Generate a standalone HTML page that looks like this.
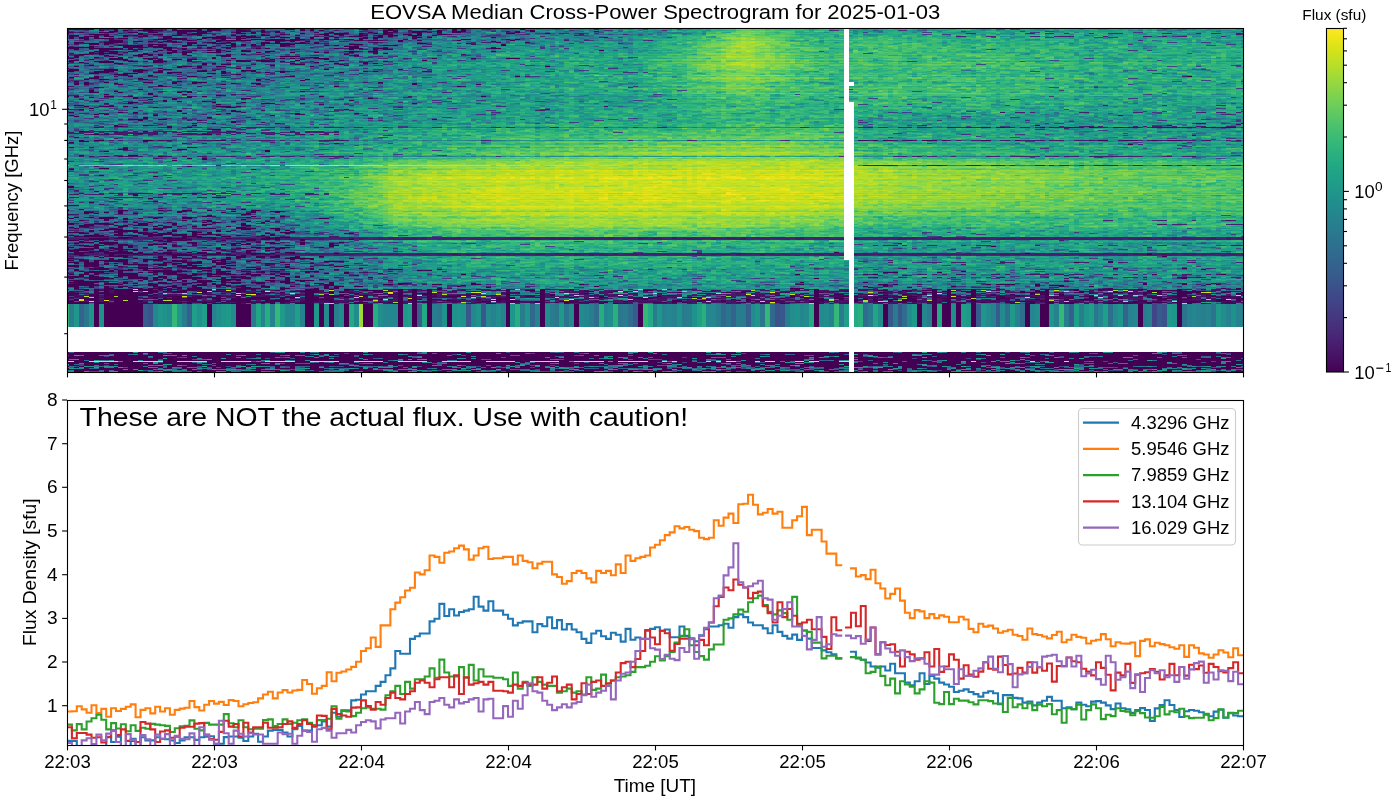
<!DOCTYPE html>
<html><head><meta charset="utf-8"><title>EOVSA Spectrogram</title>
<style>
html,body{margin:0;padding:0;background:#fff;width:1400px;height:800px;overflow:hidden;}
#wrap{position:relative;width:1400px;height:800px;}
#spec{position:absolute;left:67px;top:28px;width:1176px;height:344px;}
text{fill:#000;}
</style></head><body><div id="wrap">
<svg width="1176" height="344" style="position:absolute;left:67px;top:28px"><path fill="#437" d="M0 0h14v8h-14zM42 0h14v8h-14zM56 0h14v8h-14zM140 0h14v8h-14zM196 0h14v8h-14zM294 0h14v8h-14zM322 0h14v8h-14zM336 0h14v8h-14zM14 8h14v8h-14zM168 8h14v8h-14zM196 8h14v8h-14zM224 8h14v8h-14zM28 16h14v8h-14zM42 16h14v8h-14zM84 16h14v8h-14zM98 16h14v8h-14zM28 24h14v8h-14zM14 192h14v8h-14zM70 200h14v8h-14zM126 200h14v8h-14zM42 208h14v8h-14zM70 208h14v8h-14zM126 208h14v8h-14zM154 208h14v8h-14zM168 208h14v8h-14zM196 208h14v8h-14zM224 208h14v8h-14zM0 216h14v8h-14zM56 216h14v8h-14zM28 224h14v8h-14zM154 224h14v8h-14zM182 224h14v8h-14zM196 224h14v8h-14zM210 224h14v8h-14zM0 232h14v8h-14zM56 232h14v8h-14zM70 232h14v8h-14zM84 232h14v8h-14zM98 232h14v8h-14zM14 240h14v8h-14zM42 240h14v8h-14zM56 240h14v8h-14zM112 240h14v8h-14zM126 240h14v8h-14zM182 240h14v8h-14zM210 240h14v8h-14zM56 248h14v8h-14zM168 248h14v8h-14zM210 248h14v8h-14zM14 256h14v8h-14zM112 256h14v8h-14zM182 256h14v8h-14zM588 264h14v8h-14zM910 264h14v8h-14zM1036 264h14v8h-14zM560 272h14v8h-14zM70 280h14v8h-14zM70 288h14v8h-14zM70 296h14v8h-14zM1106 320h14v8h-14zM910 336h14v8h-14z"/><path fill="#347" d="M14 0h14v8h-14zM98 0h14v8h-14zM182 0h14v8h-14zM224 0h14v8h-14zM238 0h14v8h-14zM308 0h14v8h-14zM350 0h14v8h-14zM364 0h14v8h-14zM0 8h14v8h-14zM28 8h14v8h-14zM112 8h14v8h-14zM182 8h14v8h-14zM252 8h14v8h-14zM280 8h14v8h-14zM294 8h14v8h-14zM308 8h14v8h-14zM350 8h14v8h-14zM0 16h14v8h-14zM14 16h14v8h-14zM70 16h14v8h-14zM126 16h14v8h-14zM140 16h14v8h-14zM154 16h14v8h-14zM210 16h14v8h-14zM308 16h14v8h-14zM0 24h14v8h-14zM70 24h14v8h-14zM84 24h14v8h-14zM112 24h14v8h-14zM0 40h14v8h-14zM42 40h14v8h-14zM0 48h14v8h-14zM28 48h14v8h-14zM168 184h14v8h-14zM0 192h14v8h-14zM56 192h14v8h-14zM70 192h14v8h-14zM98 192h14v8h-14zM168 192h14v8h-14zM14 200h14v8h-14zM28 200h14v8h-14zM56 200h14v8h-14zM98 200h14v8h-14zM140 200h14v8h-14zM168 200h14v8h-14zM210 200h14v8h-14zM266 208h14v8h-14zM98 216h14v8h-14zM154 216h14v8h-14zM168 216h14v8h-14zM182 216h14v8h-14zM196 216h14v8h-14zM210 216h14v8h-14zM70 224h14v8h-14zM140 224h14v8h-14zM42 232h14v8h-14zM126 232h14v8h-14zM140 232h14v8h-14zM182 232h14v8h-14zM196 232h14v8h-14zM210 232h14v8h-14zM0 240h14v8h-14zM70 240h14v8h-14zM238 240h14v8h-14zM42 248h14v8h-14zM70 248h14v8h-14zM98 248h14v8h-14zM140 248h14v8h-14zM196 248h14v8h-14zM224 256h14v8h-14zM322 256h14v8h-14zM812 256h14v8h-14zM966 256h14v8h-14zM462 264h14v8h-14zM1008 264h14v8h-14zM112 272h14v8h-14zM266 272h14v8h-14zM350 272h14v8h-14zM378 272h14v8h-14zM406 272h14v8h-14zM658 272h14v8h-14zM840 272h14v8h-14zM896 272h14v8h-14zM1078 272h14v8h-14zM812 280h14v8h-14zM882 280h14v8h-14zM966 280h14v8h-14zM812 288h14v8h-14zM882 288h14v8h-14zM966 288h14v8h-14zM812 296h14v8h-14zM882 296h14v8h-14zM966 296h14v8h-14zM0 336h14v8h-14zM84 336h14v8h-14zM98 336h14v8h-14zM168 336h14v8h-14zM266 336h14v8h-14zM532 336h14v8h-14zM574 336h14v8h-14zM602 336h14v8h-14zM672 336h14v8h-14zM686 336h14v8h-14zM854 336h14v8h-14zM924 336h14v8h-14zM966 336h14v8h-14zM994 336h14v8h-14zM1106 336h14v8h-14zM1134 336h14v8h-14z"/><path fill="#436" d="M28 0h14v8h-14zM98 8h14v8h-14zM210 8h14v8h-14zM84 200h14v8h-14zM112 208h14v8h-14zM224 224h14v8h-14zM28 232h14v8h-14zM84 248h14v8h-14zM154 256h14v8h-14zM238 256h14v8h-14zM252 256h14v8h-14zM112 264h14v8h-14zM266 264h14v8h-14zM280 264h14v8h-14zM336 264h14v8h-14zM378 264h14v8h-14zM476 264h14v8h-14zM518 264h14v8h-14zM532 264h14v8h-14zM686 264h14v8h-14zM770 264h14v8h-14zM784 264h14v8h-14zM826 264h14v8h-14zM854 264h14v8h-14zM882 264h14v8h-14zM896 264h14v8h-14zM924 264h14v8h-14zM952 264h14v8h-14zM980 264h14v8h-14zM1050 264h14v8h-14zM1064 264h14v8h-14zM1078 264h14v8h-14zM1092 264h14v8h-14zM1148 264h14v8h-14zM252 272h14v8h-14zM294 272h14v8h-14zM322 272h14v8h-14zM966 272h14v8h-14zM98 320h14v8h-14zM238 328h14v8h-14zM532 328h14v8h-14zM644 328h14v8h-14zM210 336h14v8h-14zM252 336h14v8h-14z"/><path fill="#426" d="M70 0h14v8h-14zM112 0h14v8h-14zM126 0h14v8h-14zM168 0h14v8h-14zM42 8h14v8h-14zM140 8h14v8h-14zM154 8h14v8h-14zM56 16h14v8h-14zM280 16h14v8h-14zM42 24h14v8h-14zM42 200h14v8h-14zM14 208h14v8h-14zM98 208h14v8h-14zM14 216h14v8h-14zM42 216h14v8h-14zM42 224h14v8h-14zM56 224h14v8h-14zM84 224h14v8h-14zM98 224h14v8h-14zM14 232h14v8h-14zM112 232h14v8h-14zM154 232h14v8h-14zM28 240h14v8h-14zM84 240h14v8h-14zM98 240h14v8h-14zM140 240h14v8h-14zM0 248h14v8h-14zM14 248h14v8h-14zM28 248h14v8h-14zM112 248h14v8h-14zM126 248h14v8h-14zM154 248h14v8h-14zM0 256h14v8h-14zM28 256h14v8h-14zM42 256h14v8h-14zM84 256h14v8h-14zM98 256h14v8h-14zM126 256h14v8h-14zM168 256h14v8h-14zM70 264h14v8h-14zM84 264h14v8h-14zM126 264h14v8h-14zM140 264h14v8h-14zM196 264h14v8h-14zM210 264h14v8h-14zM294 264h14v8h-14zM350 264h14v8h-14zM364 264h14v8h-14zM434 264h14v8h-14zM742 264h14v8h-14zM840 264h14v8h-14zM868 264h14v8h-14zM938 264h14v8h-14zM994 264h14v8h-14zM1120 264h14v8h-14zM70 272h14v8h-14zM238 272h14v8h-14zM868 272h14v8h-14zM0 320h14v8h-14zM56 320h14v8h-14zM70 320h14v8h-14zM224 320h14v8h-14zM238 320h14v8h-14zM252 320h14v8h-14zM294 320h14v8h-14zM504 320h14v8h-14zM658 320h14v8h-14zM784 320h14v8h-14zM798 320h14v8h-14zM952 320h14v8h-14zM980 320h14v8h-14zM1036 320h14v8h-14zM1092 320h14v8h-14zM1148 320h14v8h-14zM182 328h14v8h-14zM490 328h14v8h-14zM588 328h14v8h-14zM756 328h14v8h-14zM784 328h14v8h-14zM798 328h14v8h-14zM812 328h14v8h-14zM868 328h14v8h-14zM952 328h14v8h-14zM1050 328h14v8h-14zM1134 328h14v8h-14zM70 336h14v8h-14zM140 336h14v8h-14zM294 336h14v8h-14zM350 336h14v8h-14zM364 336h14v8h-14zM434 336h14v8h-14zM518 336h14v8h-14zM826 336h14v8h-14zM868 336h14v8h-14zM1036 336h14v8h-14zM1050 336h14v8h-14zM1148 336h14v8h-14z"/><path fill="#427" d="M84 0h14v8h-14zM0 208h14v8h-14zM84 208h14v8h-14zM182 208h14v8h-14zM0 224h14v8h-14zM112 224h14v8h-14zM126 224h14v8h-14zM168 224h14v8h-14zM154 264h14v8h-14z"/><path fill="#358" d="M154 0h14v8h-14zM280 0h14v8h-14zM392 0h14v8h-14zM434 0h14v8h-14zM56 8h14v8h-14zM266 8h14v8h-14zM252 16h14v8h-14zM266 16h14v8h-14zM294 16h14v8h-14zM98 24h14v8h-14zM196 24h14v8h-14zM210 24h14v8h-14zM14 32h14v8h-14zM28 32h14v8h-14zM42 32h14v8h-14zM56 32h14v8h-14zM238 32h14v8h-14zM98 40h14v8h-14zM126 40h14v8h-14zM140 40h14v8h-14zM168 40h14v8h-14zM14 56h14v8h-14zM28 72h14v8h-14zM140 72h14v8h-14zM42 96h14v8h-14zM140 96h14v8h-14zM0 184h14v8h-14zM14 184h14v8h-14zM56 184h14v8h-14zM112 184h14v8h-14zM182 184h14v8h-14zM84 192h14v8h-14zM182 200h14v8h-14zM238 208h14v8h-14zM70 216h14v8h-14zM84 216h14v8h-14zM126 216h14v8h-14zM140 216h14v8h-14zM266 224h14v8h-14zM280 224h14v8h-14zM294 224h14v8h-14zM1036 224h14v8h-14zM252 232h14v8h-14zM280 240h14v8h-14zM252 248h14v8h-14zM210 256h14v8h-14zM350 256h14v8h-14zM1120 256h14v8h-14zM560 280h14v8h-14zM560 288h14v8h-14zM560 296h14v8h-14z"/><path fill="#348" d="M210 0h14v8h-14zM70 8h14v8h-14z"/><path fill="#447" d="M252 0h14v8h-14zM84 8h14v8h-14zM238 8h14v8h-14zM182 16h14v8h-14zM28 192h14v8h-14zM0 200h14v8h-14zM56 208h14v8h-14zM140 208h14v8h-14zM210 208h14v8h-14zM168 240h14v8h-14zM196 240h14v8h-14zM560 264h14v8h-14zM602 264h14v8h-14zM644 264h14v8h-14zM658 264h14v8h-14zM700 264h14v8h-14zM714 264h14v8h-14zM728 264h14v8h-14zM756 264h14v8h-14zM462 272h14v8h-14zM826 272h14v8h-14z"/><path fill="#337" d="M266 0h14v8h-14zM112 16h14v8h-14zM28 40h14v8h-14zM28 216h14v8h-14zM14 224h14v8h-14zM154 240h14v8h-14zM952 272h14v8h-14zM196 336h14v8h-14zM224 336h14v8h-14zM546 336h14v8h-14zM630 336h14v8h-14zM658 336h14v8h-14z"/><path fill="#357" d="M378 0h14v8h-14zM448 0h14v8h-14zM126 8h14v8h-14zM168 16h14v8h-14zM14 24h14v8h-14zM154 24h14v8h-14zM224 24h14v8h-14zM238 24h14v8h-14zM0 32h14v8h-14zM84 32h14v8h-14zM112 32h14v8h-14zM126 32h14v8h-14zM154 32h14v8h-14zM168 32h14v8h-14zM196 32h14v8h-14zM56 40h14v8h-14zM70 40h14v8h-14zM84 40h14v8h-14zM154 40h14v8h-14zM14 48h14v8h-14zM70 48h14v8h-14zM126 48h14v8h-14zM112 64h14v8h-14zM56 72h14v8h-14zM0 80h14v8h-14zM28 184h14v8h-14zM42 184h14v8h-14zM42 192h14v8h-14zM126 192h14v8h-14zM140 192h14v8h-14zM112 200h14v8h-14zM196 200h14v8h-14zM252 208h14v8h-14zM280 208h14v8h-14zM238 224h14v8h-14zM252 224h14v8h-14zM266 232h14v8h-14zM182 248h14v8h-14zM224 248h14v8h-14zM266 256h14v8h-14zM280 256h14v8h-14zM308 256h14v8h-14zM336 256h14v8h-14zM364 256h14v8h-14zM378 256h14v8h-14zM392 256h14v8h-14zM406 256h14v8h-14zM420 256h14v8h-14zM728 256h14v8h-14zM770 256h14v8h-14zM798 256h14v8h-14zM840 256h14v8h-14zM854 256h14v8h-14zM896 256h14v8h-14zM924 256h14v8h-14zM1064 256h14v8h-14zM1106 256h14v8h-14zM1134 256h14v8h-14zM1148 256h14v8h-14zM448 264h14v8h-14zM0 272h14v8h-14zM84 272h14v8h-14zM126 272h14v8h-14zM154 272h14v8h-14zM182 272h14v8h-14zM196 272h14v8h-14zM210 272h14v8h-14zM224 272h14v8h-14zM364 272h14v8h-14zM392 272h14v8h-14zM420 272h14v8h-14zM476 272h14v8h-14zM490 272h14v8h-14zM518 272h14v8h-14zM546 272h14v8h-14zM574 272h14v8h-14zM588 272h14v8h-14zM602 272h14v8h-14zM616 272h14v8h-14zM644 272h14v8h-14zM672 272h14v8h-14zM714 272h14v8h-14zM728 272h14v8h-14zM770 272h14v8h-14zM910 272h14v8h-14zM924 272h14v8h-14zM938 272h14v8h-14zM980 272h14v8h-14zM1008 272h14v8h-14zM1022 272h14v8h-14zM1036 272h14v8h-14zM1050 272h14v8h-14zM1092 272h14v8h-14zM1120 272h14v8h-14zM1134 272h14v8h-14zM1148 272h14v8h-14zM1162 272h14v8h-14zM140 280h14v8h-14zM322 280h14v8h-14zM504 280h14v8h-14zM854 280h14v8h-14zM952 280h14v8h-14zM1064 280h14v8h-14zM1106 280h14v8h-14zM140 288h14v8h-14zM322 288h14v8h-14zM504 288h14v8h-14zM854 288h14v8h-14zM952 288h14v8h-14zM1064 288h14v8h-14zM1106 288h14v8h-14zM140 296h14v8h-14zM322 296h14v8h-14zM504 296h14v8h-14zM854 296h14v8h-14zM952 296h14v8h-14zM1064 296h14v8h-14zM1106 296h14v8h-14zM770 336h14v8h-14zM1008 336h14v8h-14z"/><path fill="#368" d="M406 0h14v8h-14zM420 0h14v8h-14zM462 0h14v8h-14zM476 0h14v8h-14zM504 0h14v8h-14zM518 0h14v8h-14zM322 8h14v8h-14zM336 8h14v8h-14zM392 8h14v8h-14zM420 8h14v8h-14zM434 8h14v8h-14zM196 16h14v8h-14zM224 16h14v8h-14zM238 16h14v8h-14zM322 16h14v8h-14zM56 24h14v8h-14zM126 24h14v8h-14zM140 24h14v8h-14zM168 24h14v8h-14zM182 24h14v8h-14zM252 24h14v8h-14zM266 24h14v8h-14zM280 24h14v8h-14zM308 24h14v8h-14zM70 32h14v8h-14zM140 32h14v8h-14zM182 32h14v8h-14zM252 32h14v8h-14zM266 32h14v8h-14zM294 32h14v8h-14zM14 40h14v8h-14zM112 40h14v8h-14zM182 40h14v8h-14zM196 40h14v8h-14zM210 40h14v8h-14zM294 40h14v8h-14zM350 40h14v8h-14zM42 48h14v8h-14zM56 48h14v8h-14zM84 48h14v8h-14zM98 48h14v8h-14zM112 48h14v8h-14zM154 48h14v8h-14zM182 48h14v8h-14zM196 48h14v8h-14zM0 56h14v8h-14zM70 56h14v8h-14zM84 56h14v8h-14zM112 56h14v8h-14zM182 56h14v8h-14zM0 64h14v8h-14zM14 64h14v8h-14zM28 64h14v8h-14zM42 64h14v8h-14zM56 64h14v8h-14zM70 64h14v8h-14zM84 64h14v8h-14zM98 64h14v8h-14zM140 64h14v8h-14zM168 64h14v8h-14zM0 72h14v8h-14zM14 72h14v8h-14zM70 72h14v8h-14zM84 72h14v8h-14zM154 72h14v8h-14zM168 72h14v8h-14zM196 72h14v8h-14zM14 80h14v8h-14zM28 80h14v8h-14zM42 80h14v8h-14zM56 80h14v8h-14zM154 80h14v8h-14zM56 88h14v8h-14zM70 88h14v8h-14zM84 88h14v8h-14zM112 88h14v8h-14zM126 88h14v8h-14zM168 88h14v8h-14zM28 96h14v8h-14zM56 96h14v8h-14zM70 96h14v8h-14zM84 96h14v8h-14zM98 96h14v8h-14zM112 96h14v8h-14zM126 96h14v8h-14zM154 96h14v8h-14zM168 96h14v8h-14zM1092 96h14v8h-14zM0 104h14v8h-14zM14 104h14v8h-14zM28 104h14v8h-14zM56 104h14v8h-14zM70 104h14v8h-14zM84 104h14v8h-14zM112 104h14v8h-14zM140 104h14v8h-14zM196 104h14v8h-14zM0 112h14v8h-14zM70 112h14v8h-14zM84 112h14v8h-14zM126 112h14v8h-14zM56 120h14v8h-14zM0 160h14v8h-14zM42 168h14v8h-14zM84 168h14v8h-14zM0 176h14v8h-14zM42 176h14v8h-14zM84 176h14v8h-14zM112 176h14v8h-14zM84 184h14v8h-14zM126 184h14v8h-14zM140 184h14v8h-14zM210 184h14v8h-14zM112 192h14v8h-14zM154 192h14v8h-14zM182 192h14v8h-14zM196 192h14v8h-14zM154 200h14v8h-14zM224 200h14v8h-14zM294 208h14v8h-14zM1092 208h14v8h-14zM1106 208h14v8h-14zM112 216h14v8h-14zM252 216h14v8h-14zM308 224h14v8h-14zM322 224h14v8h-14zM336 224h14v8h-14zM784 224h14v8h-14zM798 224h14v8h-14zM812 224h14v8h-14zM826 224h14v8h-14zM854 224h14v8h-14zM868 224h14v8h-14zM910 224h14v8h-14zM924 224h14v8h-14zM952 224h14v8h-14zM980 224h14v8h-14zM1050 224h14v8h-14zM168 232h14v8h-14zM224 232h14v8h-14zM238 232h14v8h-14zM224 240h14v8h-14zM252 240h14v8h-14zM266 240h14v8h-14zM294 240h14v8h-14zM308 240h14v8h-14zM322 240h14v8h-14zM238 248h14v8h-14zM266 248h14v8h-14zM280 248h14v8h-14zM294 248h14v8h-14zM1106 248h14v8h-14zM294 256h14v8h-14zM434 256h14v8h-14zM490 256h14v8h-14zM532 256h14v8h-14zM714 256h14v8h-14zM784 256h14v8h-14zM826 256h14v8h-14zM868 256h14v8h-14zM938 256h14v8h-14zM1008 256h14v8h-14zM1162 256h14v8h-14zM462 280h14v8h-14zM826 280h14v8h-14zM1078 280h14v8h-14zM462 288h14v8h-14zM826 288h14v8h-14zM1078 288h14v8h-14zM462 296h14v8h-14zM826 296h14v8h-14zM1078 296h14v8h-14z"/><path fill="#378" d="M490 0h14v8h-14zM378 8h14v8h-14zM406 8h14v8h-14zM448 8h14v8h-14zM350 16h14v8h-14zM294 24h14v8h-14zM98 32h14v8h-14zM210 32h14v8h-14zM308 32h14v8h-14zM224 40h14v8h-14zM238 40h14v8h-14zM252 40h14v8h-14zM280 40h14v8h-14zM308 40h14v8h-14zM168 48h14v8h-14zM210 48h14v8h-14zM266 48h14v8h-14zM28 56h14v8h-14zM42 56h14v8h-14zM56 56h14v8h-14zM98 56h14v8h-14zM140 56h14v8h-14zM168 56h14v8h-14zM238 56h14v8h-14zM154 64h14v8h-14zM182 64h14v8h-14zM224 64h14v8h-14zM294 64h14v8h-14zM126 72h14v8h-14zM252 72h14v8h-14zM322 72h14v8h-14zM84 80h14v8h-14zM112 80h14v8h-14zM126 80h14v8h-14zM140 80h14v8h-14zM168 80h14v8h-14zM224 80h14v8h-14zM266 80h14v8h-14zM0 88h14v8h-14zM14 88h14v8h-14zM28 88h14v8h-14zM140 88h14v8h-14zM0 96h14v8h-14zM14 96h14v8h-14zM182 96h14v8h-14zM196 96h14v8h-14zM210 96h14v8h-14zM238 96h14v8h-14zM966 96h14v8h-14zM1008 96h14v8h-14zM1162 96h14v8h-14zM98 104h14v8h-14zM126 104h14v8h-14zM154 104h14v8h-14zM168 104h14v8h-14zM210 104h14v8h-14zM224 104h14v8h-14zM14 112h14v8h-14zM98 112h14v8h-14zM112 112h14v8h-14zM140 112h14v8h-14zM154 112h14v8h-14zM196 112h14v8h-14zM252 112h14v8h-14zM1050 112h14v8h-14zM1064 112h14v8h-14zM1106 112h14v8h-14zM1120 112h14v8h-14zM28 128h14v8h-14zM84 128h14v8h-14zM98 128h14v8h-14zM126 128h14v8h-14zM140 128h14v8h-14zM14 160h14v8h-14zM28 160h14v8h-14zM42 160h14v8h-14zM56 160h14v8h-14zM98 160h14v8h-14zM126 160h14v8h-14zM154 160h14v8h-14zM70 168h14v8h-14zM56 176h14v8h-14zM154 176h14v8h-14zM168 176h14v8h-14zM182 176h14v8h-14zM70 184h14v8h-14zM98 184h14v8h-14zM154 184h14v8h-14zM196 184h14v8h-14zM210 192h14v8h-14zM238 200h14v8h-14zM252 200h14v8h-14zM280 200h14v8h-14zM224 216h14v8h-14zM280 216h14v8h-14zM294 232h14v8h-14zM812 240h14v8h-14zM826 240h14v8h-14zM868 240h14v8h-14zM882 240h14v8h-14zM966 240h14v8h-14zM1106 240h14v8h-14zM308 248h14v8h-14zM322 248h14v8h-14zM882 248h14v8h-14zM910 248h14v8h-14zM938 248h14v8h-14zM966 248h14v8h-14zM994 248h14v8h-14zM1008 248h14v8h-14zM1064 248h14v8h-14zM1120 248h14v8h-14zM448 256h14v8h-14zM476 256h14v8h-14zM588 256h14v8h-14zM616 256h14v8h-14zM672 256h14v8h-14zM686 256h14v8h-14zM700 256h14v8h-14zM756 256h14v8h-14zM952 256h14v8h-14zM1092 256h14v8h-14zM658 280h14v8h-14zM672 280h14v8h-14zM700 280h14v8h-14zM1092 280h14v8h-14zM658 288h14v8h-14zM672 288h14v8h-14zM700 288h14v8h-14zM1092 288h14v8h-14zM658 296h14v8h-14zM672 296h14v8h-14zM700 296h14v8h-14zM1092 296h14v8h-14z"/><path fill="#278" d="M532 0h14v8h-14zM462 8h14v8h-14zM504 8h14v8h-14zM518 8h14v8h-14zM364 16h14v8h-14zM420 16h14v8h-14zM392 24h14v8h-14zM406 24h14v8h-14zM280 32h14v8h-14zM266 40h14v8h-14zM140 48h14v8h-14zM224 48h14v8h-14zM238 48h14v8h-14zM126 56h14v8h-14zM154 56h14v8h-14zM196 56h14v8h-14zM210 56h14v8h-14zM42 72h14v8h-14zM98 72h14v8h-14zM182 72h14v8h-14zM210 72h14v8h-14zM280 72h14v8h-14zM70 80h14v8h-14zM98 80h14v8h-14zM210 80h14v8h-14zM42 88h14v8h-14zM98 88h14v8h-14zM154 88h14v8h-14zM182 88h14v8h-14zM196 88h14v8h-14zM1148 96h14v8h-14zM182 104h14v8h-14zM28 112h14v8h-14zM42 112h14v8h-14zM266 112h14v8h-14zM28 120h14v8h-14zM42 120h14v8h-14zM42 128h14v8h-14zM56 128h14v8h-14zM84 144h14v8h-14zM0 152h14v8h-14zM112 160h14v8h-14zM0 168h14v8h-14zM14 168h14v8h-14zM14 176h14v8h-14zM28 176h14v8h-14zM70 176h14v8h-14zM98 176h14v8h-14zM140 176h14v8h-14zM224 192h14v8h-14zM238 216h14v8h-14zM266 216h14v8h-14zM294 216h14v8h-14zM826 216h14v8h-14zM280 232h14v8h-14zM812 232h14v8h-14zM350 240h14v8h-14zM798 240h14v8h-14zM980 240h14v8h-14zM1134 240h14v8h-14zM798 248h14v8h-14zM1134 248h14v8h-14zM1162 248h14v8h-14zM644 256h14v8h-14zM14 280h14v8h-14zM112 280h14v8h-14zM182 280h14v8h-14zM364 280h14v8h-14zM392 280h14v8h-14zM406 280h14v8h-14zM476 280h14v8h-14zM518 280h14v8h-14zM644 280h14v8h-14zM714 280h14v8h-14zM924 280h14v8h-14zM980 280h14v8h-14zM1050 280h14v8h-14zM1134 280h14v8h-14zM14 288h14v8h-14zM112 288h14v8h-14zM182 288h14v8h-14zM364 288h14v8h-14zM392 288h14v8h-14zM406 288h14v8h-14zM476 288h14v8h-14zM518 288h14v8h-14zM644 288h14v8h-14zM714 288h14v8h-14zM924 288h14v8h-14zM980 288h14v8h-14zM1050 288h14v8h-14zM1134 288h14v8h-14zM14 296h14v8h-14zM112 296h14v8h-14zM182 296h14v8h-14zM364 296h14v8h-14zM392 296h14v8h-14zM406 296h14v8h-14zM476 296h14v8h-14zM518 296h14v8h-14zM644 296h14v8h-14zM714 296h14v8h-14zM924 296h14v8h-14zM980 296h14v8h-14zM1050 296h14v8h-14zM1134 296h14v8h-14z"/><path fill="#288" d="M546 0h14v8h-14zM560 0h14v8h-14zM574 0h14v8h-14zM588 0h14v8h-14zM798 0h14v8h-14zM1036 0h14v8h-14zM1064 0h14v8h-14zM1092 0h14v8h-14zM1106 0h14v8h-14zM1162 0h14v8h-14zM364 8h14v8h-14zM476 8h14v8h-14zM490 8h14v8h-14zM532 8h14v8h-14zM546 8h14v8h-14zM336 16h14v8h-14zM378 16h14v8h-14zM392 16h14v8h-14zM406 16h14v8h-14zM434 16h14v8h-14zM476 16h14v8h-14zM490 16h14v8h-14zM322 24h14v8h-14zM336 24h14v8h-14zM350 24h14v8h-14zM364 24h14v8h-14zM322 32h14v8h-14zM336 32h14v8h-14zM350 32h14v8h-14zM322 40h14v8h-14zM336 40h14v8h-14zM392 40h14v8h-14zM252 48h14v8h-14zM280 48h14v8h-14zM294 48h14v8h-14zM308 48h14v8h-14zM336 48h14v8h-14zM350 48h14v8h-14zM364 48h14v8h-14zM378 48h14v8h-14zM224 56h14v8h-14zM252 56h14v8h-14zM266 56h14v8h-14zM280 56h14v8h-14zM294 56h14v8h-14zM308 56h14v8h-14zM336 56h14v8h-14zM350 56h14v8h-14zM378 56h14v8h-14zM392 56h14v8h-14zM126 64h14v8h-14zM196 64h14v8h-14zM210 64h14v8h-14zM238 64h14v8h-14zM252 64h14v8h-14zM266 64h14v8h-14zM280 64h14v8h-14zM308 64h14v8h-14zM406 64h14v8h-14zM112 72h14v8h-14zM224 72h14v8h-14zM238 72h14v8h-14zM266 72h14v8h-14zM308 72h14v8h-14zM336 72h14v8h-14zM350 72h14v8h-14zM364 72h14v8h-14zM378 72h14v8h-14zM406 72h14v8h-14zM182 80h14v8h-14zM196 80h14v8h-14zM238 80h14v8h-14zM252 80h14v8h-14zM280 80h14v8h-14zM294 80h14v8h-14zM308 80h14v8h-14zM322 80h14v8h-14zM378 80h14v8h-14zM406 80h14v8h-14zM476 80h14v8h-14zM1064 80h14v8h-14zM210 88h14v8h-14zM224 88h14v8h-14zM238 88h14v8h-14zM252 88h14v8h-14zM294 88h14v8h-14zM308 88h14v8h-14zM322 88h14v8h-14zM364 88h14v8h-14zM896 88h14v8h-14zM952 88h14v8h-14zM1022 88h14v8h-14zM1134 88h14v8h-14zM1148 88h14v8h-14zM1162 88h14v8h-14zM224 96h14v8h-14zM252 96h14v8h-14zM266 96h14v8h-14zM280 96h14v8h-14zM294 96h14v8h-14zM840 96h14v8h-14zM854 96h14v8h-14zM882 96h14v8h-14zM938 96h14v8h-14zM980 96h14v8h-14zM1036 96h14v8h-14zM1050 96h14v8h-14zM1064 96h14v8h-14zM1120 96h14v8h-14zM1134 96h14v8h-14zM238 104h14v8h-14zM266 104h14v8h-14zM1120 104h14v8h-14zM56 112h14v8h-14zM168 112h14v8h-14zM182 112h14v8h-14zM210 112h14v8h-14zM224 112h14v8h-14zM966 112h14v8h-14zM1022 112h14v8h-14zM1078 112h14v8h-14zM1134 112h14v8h-14zM1162 112h14v8h-14zM0 120h14v8h-14zM14 120h14v8h-14zM70 120h14v8h-14zM84 120h14v8h-14zM98 120h14v8h-14zM112 120h14v8h-14zM126 120h14v8h-14zM154 120h14v8h-14zM168 120h14v8h-14zM196 120h14v8h-14zM224 120h14v8h-14zM0 128h14v8h-14zM14 128h14v8h-14zM70 128h14v8h-14zM112 128h14v8h-14zM154 128h14v8h-14zM168 128h14v8h-14zM196 128h14v8h-14zM210 128h14v8h-14zM252 128h14v8h-14zM14 144h14v8h-14zM28 144h14v8h-14zM56 144h14v8h-14zM14 152h14v8h-14zM28 152h14v8h-14zM42 152h14v8h-14zM70 152h14v8h-14zM98 152h14v8h-14zM70 160h14v8h-14zM84 160h14v8h-14zM168 160h14v8h-14zM28 168h14v8h-14zM56 168h14v8h-14zM98 168h14v8h-14zM112 168h14v8h-14zM140 168h14v8h-14zM154 168h14v8h-14zM126 176h14v8h-14zM196 176h14v8h-14zM210 176h14v8h-14zM238 184h14v8h-14zM238 192h14v8h-14zM252 192h14v8h-14zM266 200h14v8h-14zM322 216h14v8h-14zM336 216h14v8h-14zM854 216h14v8h-14zM896 216h14v8h-14zM910 216h14v8h-14zM1036 216h14v8h-14zM1050 216h14v8h-14zM1078 216h14v8h-14zM1162 216h14v8h-14zM308 232h14v8h-14zM336 232h14v8h-14zM350 232h14v8h-14zM798 232h14v8h-14zM854 232h14v8h-14zM868 232h14v8h-14zM882 232h14v8h-14zM910 232h14v8h-14zM938 232h14v8h-14zM1008 232h14v8h-14zM1036 232h14v8h-14zM1050 232h14v8h-14zM336 240h14v8h-14zM364 240h14v8h-14zM392 240h14v8h-14zM406 240h14v8h-14zM504 240h14v8h-14zM518 240h14v8h-14zM546 240h14v8h-14zM728 240h14v8h-14zM742 240h14v8h-14zM784 240h14v8h-14zM840 240h14v8h-14zM896 240h14v8h-14zM910 240h14v8h-14zM924 240h14v8h-14zM938 240h14v8h-14zM952 240h14v8h-14zM1008 240h14v8h-14zM1022 240h14v8h-14zM1036 240h14v8h-14zM1050 240h14v8h-14zM1064 240h14v8h-14zM1078 240h14v8h-14zM1120 240h14v8h-14zM1148 240h14v8h-14zM1162 240h14v8h-14zM336 248h14v8h-14zM350 248h14v8h-14zM378 248h14v8h-14zM406 248h14v8h-14zM448 248h14v8h-14zM546 248h14v8h-14zM616 248h14v8h-14zM672 248h14v8h-14zM728 248h14v8h-14zM770 248h14v8h-14zM784 248h14v8h-14zM812 248h14v8h-14zM826 248h14v8h-14zM854 248h14v8h-14zM868 248h14v8h-14zM896 248h14v8h-14zM924 248h14v8h-14zM952 248h14v8h-14zM980 248h14v8h-14zM1022 248h14v8h-14zM1036 248h14v8h-14zM1050 248h14v8h-14zM1078 248h14v8h-14zM1092 248h14v8h-14zM1148 248h14v8h-14zM602 256h14v8h-14zM630 256h14v8h-14zM658 256h14v8h-14zM0 280h14v8h-14zM84 280h14v8h-14zM224 280h14v8h-14zM420 280h14v8h-14zM490 280h14v8h-14zM546 280h14v8h-14zM588 280h14v8h-14zM602 280h14v8h-14zM616 280h14v8h-14zM686 280h14v8h-14zM728 280h14v8h-14zM798 280h14v8h-14zM910 280h14v8h-14zM938 280h14v8h-14zM1008 280h14v8h-14zM1022 280h14v8h-14zM1036 280h14v8h-14zM1120 280h14v8h-14zM1148 280h14v8h-14zM1162 280h14v8h-14zM0 288h14v8h-14zM84 288h14v8h-14zM224 288h14v8h-14zM420 288h14v8h-14zM490 288h14v8h-14zM546 288h14v8h-14zM588 288h14v8h-14zM602 288h14v8h-14zM616 288h14v8h-14zM686 288h14v8h-14zM728 288h14v8h-14zM798 288h14v8h-14zM910 288h14v8h-14zM938 288h14v8h-14zM1008 288h14v8h-14zM1022 288h14v8h-14zM1036 288h14v8h-14zM1120 288h14v8h-14zM1148 288h14v8h-14zM1162 288h14v8h-14zM0 296h14v8h-14zM84 296h14v8h-14zM224 296h14v8h-14zM420 296h14v8h-14zM490 296h14v8h-14zM546 296h14v8h-14zM588 296h14v8h-14zM602 296h14v8h-14zM616 296h14v8h-14zM686 296h14v8h-14zM728 296h14v8h-14zM798 296h14v8h-14zM910 296h14v8h-14zM938 296h14v8h-14zM1008 296h14v8h-14zM1022 296h14v8h-14zM1036 296h14v8h-14zM1120 296h14v8h-14zM1148 296h14v8h-14zM1162 296h14v8h-14z"/><path fill="#398" d="M602 0h14v8h-14zM966 0h14v8h-14zM994 8h14v8h-14zM1092 8h14v8h-14zM1162 32h14v8h-14zM504 40h14v8h-14zM1078 40h14v8h-14zM532 48h14v8h-14zM1064 48h14v8h-14zM1106 48h14v8h-14zM1134 48h14v8h-14zM560 56h14v8h-14zM588 64h14v8h-14zM1078 64h14v8h-14zM826 80h14v8h-14zM840 80h14v8h-14zM896 80h14v8h-14zM1078 80h14v8h-14zM364 96h14v8h-14zM420 96h14v8h-14zM588 96h14v8h-14zM308 104h14v8h-14zM896 112h14v8h-14zM294 120h14v8h-14zM1162 120h14v8h-14zM84 136h14v8h-14zM98 136h14v8h-14zM126 136h14v8h-14zM140 136h14v8h-14zM154 136h14v8h-14zM854 200h14v8h-14z"/><path fill="#298" d="M616 0h14v8h-14zM784 0h14v8h-14zM812 0h14v8h-14zM826 0h14v8h-14zM840 0h14v8h-14zM868 0h14v8h-14zM882 0h14v8h-14zM910 0h14v8h-14zM938 0h14v8h-14zM980 0h14v8h-14zM994 0h14v8h-14zM1008 0h14v8h-14zM1022 0h14v8h-14zM1050 0h14v8h-14zM1078 0h14v8h-14zM1120 0h14v8h-14zM1134 0h14v8h-14zM1148 0h14v8h-14zM560 8h14v8h-14zM574 8h14v8h-14zM1022 8h14v8h-14zM1064 8h14v8h-14zM1078 8h14v8h-14zM1106 8h14v8h-14zM1134 8h14v8h-14zM1148 8h14v8h-14zM1162 8h14v8h-14zM448 16h14v8h-14zM462 16h14v8h-14zM504 16h14v8h-14zM518 16h14v8h-14zM532 16h14v8h-14zM546 16h14v8h-14zM560 16h14v8h-14zM574 16h14v8h-14zM1064 16h14v8h-14zM1078 16h14v8h-14zM378 24h14v8h-14zM420 24h14v8h-14zM448 24h14v8h-14zM462 24h14v8h-14zM476 24h14v8h-14zM490 24h14v8h-14zM560 24h14v8h-14zM364 32h14v8h-14zM378 32h14v8h-14zM392 32h14v8h-14zM406 32h14v8h-14zM420 32h14v8h-14zM448 32h14v8h-14zM462 32h14v8h-14zM476 32h14v8h-14zM518 32h14v8h-14zM546 32h14v8h-14zM560 32h14v8h-14zM364 40h14v8h-14zM378 40h14v8h-14zM406 40h14v8h-14zM420 40h14v8h-14zM434 40h14v8h-14zM448 40h14v8h-14zM462 40h14v8h-14zM476 40h14v8h-14zM546 40h14v8h-14zM560 40h14v8h-14zM1120 40h14v8h-14zM1134 40h14v8h-14zM322 48h14v8h-14zM392 48h14v8h-14zM406 48h14v8h-14zM420 48h14v8h-14zM448 48h14v8h-14zM462 48h14v8h-14zM476 48h14v8h-14zM560 48h14v8h-14zM322 56h14v8h-14zM364 56h14v8h-14zM406 56h14v8h-14zM434 56h14v8h-14zM1064 56h14v8h-14zM322 64h14v8h-14zM350 64h14v8h-14zM364 64h14v8h-14zM378 64h14v8h-14zM392 64h14v8h-14zM420 64h14v8h-14zM434 64h14v8h-14zM448 64h14v8h-14zM462 64h14v8h-14zM476 64h14v8h-14zM490 64h14v8h-14zM504 64h14v8h-14zM518 64h14v8h-14zM546 64h14v8h-14zM560 64h14v8h-14zM574 64h14v8h-14zM1092 64h14v8h-14zM294 72h14v8h-14zM392 72h14v8h-14zM420 72h14v8h-14zM434 72h14v8h-14zM448 72h14v8h-14zM462 72h14v8h-14zM476 72h14v8h-14zM504 72h14v8h-14zM532 72h14v8h-14zM546 72h14v8h-14zM560 72h14v8h-14zM574 72h14v8h-14zM1022 72h14v8h-14zM1036 72h14v8h-14zM1064 72h14v8h-14zM1078 72h14v8h-14zM1092 72h14v8h-14zM1120 72h14v8h-14zM1148 72h14v8h-14zM1162 72h14v8h-14zM336 80h14v8h-14zM350 80h14v8h-14zM434 80h14v8h-14zM462 80h14v8h-14zM504 80h14v8h-14zM812 80h14v8h-14zM910 80h14v8h-14zM952 80h14v8h-14zM966 80h14v8h-14zM980 80h14v8h-14zM994 80h14v8h-14zM1008 80h14v8h-14zM1022 80h14v8h-14zM1036 80h14v8h-14zM1050 80h14v8h-14zM1106 80h14v8h-14zM1120 80h14v8h-14zM1134 80h14v8h-14zM1162 80h14v8h-14zM266 88h14v8h-14zM280 88h14v8h-14zM336 88h14v8h-14zM350 88h14v8h-14zM378 88h14v8h-14zM392 88h14v8h-14zM406 88h14v8h-14zM420 88h14v8h-14zM434 88h14v8h-14zM448 88h14v8h-14zM462 88h14v8h-14zM476 88h14v8h-14zM504 88h14v8h-14zM518 88h14v8h-14zM560 88h14v8h-14zM784 88h14v8h-14zM798 88h14v8h-14zM812 88h14v8h-14zM840 88h14v8h-14zM854 88h14v8h-14zM868 88h14v8h-14zM882 88h14v8h-14zM910 88h14v8h-14zM924 88h14v8h-14zM938 88h14v8h-14zM966 88h14v8h-14zM980 88h14v8h-14zM994 88h14v8h-14zM1008 88h14v8h-14zM1036 88h14v8h-14zM1050 88h14v8h-14zM1064 88h14v8h-14zM1078 88h14v8h-14zM1092 88h14v8h-14zM1106 88h14v8h-14zM1120 88h14v8h-14zM308 96h14v8h-14zM322 96h14v8h-14zM336 96h14v8h-14zM350 96h14v8h-14zM392 96h14v8h-14zM406 96h14v8h-14zM812 96h14v8h-14zM826 96h14v8h-14zM868 96h14v8h-14zM924 96h14v8h-14zM952 96h14v8h-14zM280 104h14v8h-14zM294 104h14v8h-14zM322 104h14v8h-14zM826 104h14v8h-14zM938 104h14v8h-14zM952 104h14v8h-14zM966 104h14v8h-14zM980 104h14v8h-14zM1008 104h14v8h-14zM1022 104h14v8h-14zM1036 104h14v8h-14zM1050 104h14v8h-14zM1078 104h14v8h-14zM1092 104h14v8h-14zM1106 104h14v8h-14zM1134 104h14v8h-14zM1148 104h14v8h-14zM1162 104h14v8h-14zM238 112h14v8h-14zM280 112h14v8h-14zM294 112h14v8h-14zM308 112h14v8h-14zM322 112h14v8h-14zM868 112h14v8h-14zM882 112h14v8h-14zM924 112h14v8h-14zM938 112h14v8h-14zM980 112h14v8h-14zM994 112h14v8h-14zM1036 112h14v8h-14zM1148 112h14v8h-14zM140 120h14v8h-14zM182 120h14v8h-14zM210 120h14v8h-14zM238 120h14v8h-14zM252 120h14v8h-14zM280 120h14v8h-14zM966 120h14v8h-14zM1022 120h14v8h-14zM1036 120h14v8h-14zM1106 120h14v8h-14zM1120 120h14v8h-14zM1134 120h14v8h-14zM182 128h14v8h-14zM224 128h14v8h-14zM238 128h14v8h-14zM0 144h14v8h-14zM42 144h14v8h-14zM70 144h14v8h-14zM98 144h14v8h-14zM112 144h14v8h-14zM140 144h14v8h-14zM154 144h14v8h-14zM168 144h14v8h-14zM182 144h14v8h-14zM196 144h14v8h-14zM56 152h14v8h-14zM84 152h14v8h-14zM112 152h14v8h-14zM126 152h14v8h-14zM140 152h14v8h-14zM154 152h14v8h-14zM168 152h14v8h-14zM182 152h14v8h-14zM196 152h14v8h-14zM210 152h14v8h-14zM182 160h14v8h-14zM196 160h14v8h-14zM168 168h14v8h-14zM182 168h14v8h-14zM196 168h14v8h-14zM210 168h14v8h-14zM224 168h14v8h-14zM224 176h14v8h-14zM238 176h14v8h-14zM224 184h14v8h-14zM266 192h14v8h-14zM294 200h14v8h-14zM1106 200h14v8h-14zM1148 200h14v8h-14zM1162 200h14v8h-14zM308 216h14v8h-14zM742 216h14v8h-14zM784 216h14v8h-14zM798 216h14v8h-14zM812 216h14v8h-14zM840 216h14v8h-14zM868 216h14v8h-14zM882 216h14v8h-14zM924 216h14v8h-14zM938 216h14v8h-14zM966 216h14v8h-14zM980 216h14v8h-14zM994 216h14v8h-14zM1022 216h14v8h-14zM1064 216h14v8h-14zM1092 216h14v8h-14zM1106 216h14v8h-14zM1120 216h14v8h-14zM1134 216h14v8h-14zM322 232h14v8h-14zM364 232h14v8h-14zM378 232h14v8h-14zM434 232h14v8h-14zM686 232h14v8h-14zM728 232h14v8h-14zM742 232h14v8h-14zM770 232h14v8h-14zM784 232h14v8h-14zM826 232h14v8h-14zM840 232h14v8h-14zM896 232h14v8h-14zM952 232h14v8h-14zM966 232h14v8h-14zM980 232h14v8h-14zM994 232h14v8h-14zM1022 232h14v8h-14zM1064 232h14v8h-14zM1078 232h14v8h-14zM1092 232h14v8h-14zM1106 232h14v8h-14zM1134 232h14v8h-14zM1148 232h14v8h-14zM1162 232h14v8h-14zM378 240h14v8h-14zM420 240h14v8h-14zM434 240h14v8h-14zM448 240h14v8h-14zM462 240h14v8h-14zM476 240h14v8h-14zM490 240h14v8h-14zM532 240h14v8h-14zM560 240h14v8h-14zM574 240h14v8h-14zM616 240h14v8h-14zM630 240h14v8h-14zM644 240h14v8h-14zM658 240h14v8h-14zM672 240h14v8h-14zM686 240h14v8h-14zM700 240h14v8h-14zM714 240h14v8h-14zM756 240h14v8h-14zM770 240h14v8h-14zM854 240h14v8h-14zM1092 240h14v8h-14zM364 248h14v8h-14zM392 248h14v8h-14zM420 248h14v8h-14zM462 248h14v8h-14zM490 248h14v8h-14zM504 248h14v8h-14zM518 248h14v8h-14zM532 248h14v8h-14zM560 248h14v8h-14zM574 248h14v8h-14zM588 248h14v8h-14zM602 248h14v8h-14zM630 248h14v8h-14zM658 248h14v8h-14zM686 248h14v8h-14zM700 248h14v8h-14zM714 248h14v8h-14zM742 248h14v8h-14zM756 248h14v8h-14zM840 248h14v8h-14zM98 280h14v8h-14zM126 280h14v8h-14zM154 280h14v8h-14zM196 280h14v8h-14zM210 280h14v8h-14zM308 280h14v8h-14zM448 280h14v8h-14zM532 280h14v8h-14zM630 280h14v8h-14zM756 280h14v8h-14zM770 280h14v8h-14zM784 280h14v8h-14zM98 288h14v8h-14zM126 288h14v8h-14zM154 288h14v8h-14zM196 288h14v8h-14zM210 288h14v8h-14zM308 288h14v8h-14zM448 288h14v8h-14zM532 288h14v8h-14zM630 288h14v8h-14zM756 288h14v8h-14zM770 288h14v8h-14zM784 288h14v8h-14zM98 296h14v8h-14zM126 296h14v8h-14zM154 296h14v8h-14zM196 296h14v8h-14zM210 296h14v8h-14zM308 296h14v8h-14zM448 296h14v8h-14zM532 296h14v8h-14zM630 296h14v8h-14zM756 296h14v8h-14zM770 296h14v8h-14zM784 296h14v8h-14z"/><path fill="#3a8" d="M630 0h14v8h-14zM756 0h14v8h-14zM1022 24h14v8h-14zM1078 24h14v8h-14zM504 32h14v8h-14zM1008 40h14v8h-14zM1050 40h14v8h-14zM1064 40h14v8h-14zM1106 40h14v8h-14zM546 48h14v8h-14zM574 48h14v8h-14zM1022 48h14v8h-14zM532 56h14v8h-14zM546 56h14v8h-14zM1008 56h14v8h-14zM1022 56h14v8h-14zM1120 56h14v8h-14zM1008 64h14v8h-14zM1064 64h14v8h-14zM1134 64h14v8h-14zM728 72h14v8h-14zM868 72h14v8h-14zM700 80h14v8h-14zM770 80h14v8h-14zM938 80h14v8h-14zM378 96h14v8h-14zM462 96h14v8h-14zM602 96h14v8h-14zM364 104h14v8h-14zM378 104h14v8h-14zM812 104h14v8h-14zM896 104h14v8h-14zM350 112h14v8h-14zM364 112h14v8h-14zM1008 120h14v8h-14zM1092 120h14v8h-14zM224 160h14v8h-14zM238 168h14v8h-14zM882 200h14v8h-14zM896 200h14v8h-14zM1078 200h14v8h-14zM1120 200h14v8h-14zM378 216h14v8h-14zM448 232h14v8h-14z"/><path fill="#4b7" d="M644 0h14v8h-14zM714 0h14v8h-14zM630 8h14v8h-14zM812 8h14v8h-14zM616 16h14v8h-14zM742 16h14v8h-14zM784 16h14v8h-14zM812 16h14v8h-14zM826 16h14v8h-14zM840 16h14v8h-14zM868 16h14v8h-14zM910 16h14v8h-14zM742 24h14v8h-14zM770 24h14v8h-14zM784 24h14v8h-14zM826 24h14v8h-14zM854 24h14v8h-14zM896 24h14v8h-14zM910 24h14v8h-14zM924 24h14v8h-14zM588 32h14v8h-14zM602 32h14v8h-14zM742 32h14v8h-14zM756 32h14v8h-14zM770 32h14v8h-14zM784 32h14v8h-14zM798 32h14v8h-14zM826 32h14v8h-14zM882 32h14v8h-14zM896 32h14v8h-14zM910 32h14v8h-14zM924 32h14v8h-14zM938 32h14v8h-14zM952 32h14v8h-14zM616 40h14v8h-14zM728 40h14v8h-14zM742 40h14v8h-14zM756 40h14v8h-14zM784 40h14v8h-14zM798 40h14v8h-14zM826 40h14v8h-14zM840 40h14v8h-14zM854 40h14v8h-14zM868 40h14v8h-14zM728 48h14v8h-14zM784 48h14v8h-14zM840 48h14v8h-14zM882 48h14v8h-14zM896 48h14v8h-14zM616 56h14v8h-14zM728 56h14v8h-14zM742 56h14v8h-14zM784 56h14v8h-14zM798 56h14v8h-14zM812 56h14v8h-14zM854 56h14v8h-14zM882 56h14v8h-14zM896 56h14v8h-14zM910 56h14v8h-14zM952 56h14v8h-14zM630 64h14v8h-14zM644 64h14v8h-14zM714 64h14v8h-14zM728 64h14v8h-14zM812 64h14v8h-14zM896 64h14v8h-14zM910 64h14v8h-14zM672 72h14v8h-14zM686 72h14v8h-14zM644 80h14v8h-14zM658 80h14v8h-14zM658 96h14v8h-14zM672 96h14v8h-14zM686 96h14v8h-14zM700 96h14v8h-14zM714 96h14v8h-14zM756 96h14v8h-14zM434 104h14v8h-14zM448 104h14v8h-14zM462 104h14v8h-14zM490 104h14v8h-14zM532 104h14v8h-14zM546 104h14v8h-14zM770 104h14v8h-14zM462 112h14v8h-14zM476 112h14v8h-14zM490 112h14v8h-14zM518 112h14v8h-14zM770 112h14v8h-14zM378 120h14v8h-14zM392 120h14v8h-14zM406 120h14v8h-14zM812 120h14v8h-14zM826 120h14v8h-14zM308 128h14v8h-14zM322 128h14v8h-14zM224 136h14v8h-14zM266 136h14v8h-14zM1106 136h14v8h-14zM1148 136h14v8h-14zM266 144h14v8h-14zM280 144h14v8h-14zM266 152h14v8h-14zM280 152h14v8h-14zM266 160h14v8h-14zM1162 160h14v8h-14zM266 168h14v8h-14zM1106 168h14v8h-14zM280 176h14v8h-14zM1036 176h14v8h-14zM1064 176h14v8h-14zM1092 176h14v8h-14zM1106 176h14v8h-14zM1134 176h14v8h-14zM1148 176h14v8h-14zM1162 176h14v8h-14zM294 184h14v8h-14zM952 184h14v8h-14zM966 184h14v8h-14zM980 184h14v8h-14zM994 184h14v8h-14zM1008 184h14v8h-14zM1022 184h14v8h-14zM1050 184h14v8h-14zM1078 184h14v8h-14zM1092 184h14v8h-14zM1106 184h14v8h-14zM798 192h14v8h-14zM840 192h14v8h-14zM854 192h14v8h-14zM910 192h14v8h-14zM924 192h14v8h-14zM938 192h14v8h-14zM952 192h14v8h-14zM966 192h14v8h-14zM1022 192h14v8h-14zM1120 192h14v8h-14zM364 200h14v8h-14zM392 200h14v8h-14zM714 200h14v8h-14zM728 200h14v8h-14zM756 200h14v8h-14zM462 216h14v8h-14z"/><path fill="#5b6" d="M658 0h14v8h-14zM714 8h14v8h-14zM630 48h14v8h-14zM700 56h14v8h-14zM686 64h14v8h-14zM588 104h14v8h-14zM602 104h14v8h-14zM504 112h14v8h-14zM532 112h14v8h-14zM546 112h14v8h-14zM560 112h14v8h-14zM574 112h14v8h-14zM742 112h14v8h-14zM756 112h14v8h-14zM420 120h14v8h-14zM336 128h14v8h-14zM350 128h14v8h-14zM364 128h14v8h-14zM378 128h14v8h-14zM392 128h14v8h-14zM406 128h14v8h-14zM798 128h14v8h-14zM840 128h14v8h-14zM854 128h14v8h-14zM868 128h14v8h-14zM896 128h14v8h-14zM910 128h14v8h-14zM1008 136h14v8h-14zM1022 136h14v8h-14zM1050 136h14v8h-14zM1078 136h14v8h-14zM1092 136h14v8h-14zM1120 136h14v8h-14zM1134 136h14v8h-14zM1106 160h14v8h-14zM1078 168h14v8h-14zM1092 168h14v8h-14zM1120 168h14v8h-14zM1134 168h14v8h-14zM938 176h14v8h-14zM1050 176h14v8h-14zM868 184h14v8h-14zM896 184h14v8h-14zM938 184h14v8h-14zM378 200h14v8h-14zM616 200h14v8h-14zM700 200h14v8h-14zM742 200h14v8h-14z"/><path fill="#6c5" d="M672 0h14v8h-14zM630 24h14v8h-14zM714 24h14v8h-14zM714 32h14v8h-14zM644 40h14v8h-14zM700 40h14v8h-14zM644 48h14v8h-14zM672 56h14v8h-14zM728 104h14v8h-14zM644 112h14v8h-14zM658 112h14v8h-14zM686 112h14v8h-14zM700 112h14v8h-14zM490 120h14v8h-14zM504 120h14v8h-14zM546 120h14v8h-14zM784 128h14v8h-14zM308 136h14v8h-14zM952 136h14v8h-14zM1022 144h14v8h-14zM980 152h14v8h-14zM994 152h14v8h-14zM1008 152h14v8h-14zM1022 152h14v8h-14zM980 160h14v8h-14zM1008 160h14v8h-14zM1064 160h14v8h-14zM994 168h14v8h-14zM1008 168h14v8h-14zM308 176h14v8h-14zM840 176h14v8h-14zM854 176h14v8h-14zM868 176h14v8h-14zM882 176h14v8h-14zM896 176h14v8h-14zM910 176h14v8h-14zM966 176h14v8h-14zM784 184h14v8h-14zM350 192h14v8h-14zM728 192h14v8h-14z"/><path fill="#5c6" d="M686 0h14v8h-14zM644 8h14v8h-14zM616 32h14v8h-14zM714 40h14v8h-14zM714 48h14v8h-14zM630 56h14v8h-14zM644 56h14v8h-14zM672 64h14v8h-14zM616 104h14v8h-14zM630 104h14v8h-14zM644 104h14v8h-14zM658 104h14v8h-14zM672 104h14v8h-14zM686 104h14v8h-14zM434 120h14v8h-14zM448 120h14v8h-14zM462 120h14v8h-14zM1064 144h14v8h-14zM1078 144h14v8h-14zM1106 144h14v8h-14zM1120 144h14v8h-14zM1134 144h14v8h-14zM1162 144h14v8h-14zM294 152h14v8h-14zM1050 152h14v8h-14zM1064 152h14v8h-14zM1078 152h14v8h-14zM1092 152h14v8h-14zM1106 152h14v8h-14zM1134 152h14v8h-14zM280 160h14v8h-14zM1078 160h14v8h-14zM1092 160h14v8h-14zM1120 160h14v8h-14zM1134 160h14v8h-14zM280 168h14v8h-14zM1036 168h14v8h-14zM1050 168h14v8h-14zM1162 168h14v8h-14zM294 176h14v8h-14zM994 176h14v8h-14zM308 184h14v8h-14zM798 184h14v8h-14zM812 184h14v8h-14zM826 184h14v8h-14zM840 184h14v8h-14zM854 184h14v8h-14zM910 184h14v8h-14zM322 192h14v8h-14zM448 200h14v8h-14zM462 200h14v8h-14zM476 200h14v8h-14zM504 200h14v8h-14zM532 200h14v8h-14zM546 200h14v8h-14zM560 200h14v8h-14zM588 200h14v8h-14zM602 200h14v8h-14zM658 200h14v8h-14zM672 200h14v8h-14z"/><path fill="#4b6" d="M700 0h14v8h-14zM728 16h14v8h-14zM798 16h14v8h-14zM616 24h14v8h-14zM728 24h14v8h-14zM812 24h14v8h-14zM854 32h14v8h-14zM868 32h14v8h-14zM616 48h14v8h-14zM714 56h14v8h-14zM826 56h14v8h-14zM868 56h14v8h-14zM658 64h14v8h-14zM826 64h14v8h-14zM560 104h14v8h-14zM574 104h14v8h-14zM756 104h14v8h-14zM784 120h14v8h-14zM882 128h14v8h-14zM280 136h14v8h-14zM1120 152h14v8h-14zM1148 152h14v8h-14zM1162 152h14v8h-14zM1148 160h14v8h-14zM1064 168h14v8h-14zM1148 168h14v8h-14zM1008 176h14v8h-14zM1022 176h14v8h-14zM1078 176h14v8h-14zM1120 176h14v8h-14zM882 184h14v8h-14zM924 184h14v8h-14zM784 192h14v8h-14zM406 200h14v8h-14zM420 200h14v8h-14zM434 200h14v8h-14zM574 200h14v8h-14zM686 200h14v8h-14z"/><path fill="#3a7" d="M728 0h14v8h-14zM742 0h14v8h-14zM770 0h14v8h-14zM602 8h14v8h-14zM770 8h14v8h-14zM840 8h14v8h-14zM868 8h14v8h-14zM882 8h14v8h-14zM910 8h14v8h-14zM924 8h14v8h-14zM966 8h14v8h-14zM588 16h14v8h-14zM896 16h14v8h-14zM924 16h14v8h-14zM980 16h14v8h-14zM1008 16h14v8h-14zM1036 16h14v8h-14zM1050 16h14v8h-14zM1106 16h14v8h-14zM1148 16h14v8h-14zM588 24h14v8h-14zM840 24h14v8h-14zM952 24h14v8h-14zM1008 24h14v8h-14zM1064 24h14v8h-14zM1120 24h14v8h-14zM1134 24h14v8h-14zM1148 24h14v8h-14zM574 32h14v8h-14zM840 32h14v8h-14zM966 32h14v8h-14zM980 32h14v8h-14zM1050 32h14v8h-14zM1064 32h14v8h-14zM1078 32h14v8h-14zM1092 32h14v8h-14zM1106 32h14v8h-14zM1120 32h14v8h-14zM1134 32h14v8h-14zM518 40h14v8h-14zM574 40h14v8h-14zM588 40h14v8h-14zM896 40h14v8h-14zM966 40h14v8h-14zM980 40h14v8h-14zM994 40h14v8h-14zM1022 40h14v8h-14zM1036 40h14v8h-14zM1148 40h14v8h-14zM1162 40h14v8h-14zM602 48h14v8h-14zM756 48h14v8h-14zM770 48h14v8h-14zM980 48h14v8h-14zM1008 48h14v8h-14zM1050 48h14v8h-14zM1120 48h14v8h-14zM574 56h14v8h-14zM588 56h14v8h-14zM602 56h14v8h-14zM770 56h14v8h-14zM840 56h14v8h-14zM980 56h14v8h-14zM994 56h14v8h-14zM1050 56h14v8h-14zM1078 56h14v8h-14zM1162 56h14v8h-14zM602 64h14v8h-14zM742 64h14v8h-14zM770 64h14v8h-14zM840 64h14v8h-14zM868 64h14v8h-14zM938 64h14v8h-14zM952 64h14v8h-14zM966 64h14v8h-14zM980 64h14v8h-14zM994 64h14v8h-14zM1022 64h14v8h-14zM1050 64h14v8h-14zM602 72h14v8h-14zM616 72h14v8h-14zM714 72h14v8h-14zM742 72h14v8h-14zM770 72h14v8h-14zM784 72h14v8h-14zM798 72h14v8h-14zM812 72h14v8h-14zM840 72h14v8h-14zM854 72h14v8h-14zM882 72h14v8h-14zM938 72h14v8h-14zM966 72h14v8h-14zM994 72h14v8h-14zM1008 72h14v8h-14zM616 80h14v8h-14zM742 80h14v8h-14zM756 80h14v8h-14zM784 80h14v8h-14zM798 80h14v8h-14zM924 80h14v8h-14zM1092 80h14v8h-14zM532 88h14v8h-14zM630 88h14v8h-14zM714 88h14v8h-14zM728 88h14v8h-14zM742 88h14v8h-14zM756 88h14v8h-14zM770 88h14v8h-14zM434 96h14v8h-14zM448 96h14v8h-14zM476 96h14v8h-14zM490 96h14v8h-14zM504 96h14v8h-14zM518 96h14v8h-14zM532 96h14v8h-14zM546 96h14v8h-14zM560 96h14v8h-14zM574 96h14v8h-14zM630 96h14v8h-14zM742 96h14v8h-14zM392 104h14v8h-14zM406 104h14v8h-14zM784 104h14v8h-14zM854 104h14v8h-14zM378 112h14v8h-14zM392 112h14v8h-14zM406 112h14v8h-14zM420 112h14v8h-14zM434 112h14v8h-14zM784 112h14v8h-14zM308 120h14v8h-14zM322 120h14v8h-14zM336 120h14v8h-14zM350 120h14v8h-14zM364 120h14v8h-14zM868 120h14v8h-14zM882 120h14v8h-14zM896 120h14v8h-14zM924 120h14v8h-14zM938 120h14v8h-14zM952 120h14v8h-14zM280 128h14v8h-14zM294 128h14v8h-14zM1008 128h14v8h-14zM1064 128h14v8h-14zM1078 128h14v8h-14zM1106 128h14v8h-14zM1134 128h14v8h-14zM1148 128h14v8h-14zM1162 128h14v8h-14zM168 136h14v8h-14zM210 136h14v8h-14zM238 144h14v8h-14zM238 152h14v8h-14zM252 160h14v8h-14zM252 168h14v8h-14zM252 176h14v8h-14zM266 184h14v8h-14zM308 192h14v8h-14zM1078 192h14v8h-14zM1148 192h14v8h-14zM322 200h14v8h-14zM336 200h14v8h-14zM812 200h14v8h-14zM910 200h14v8h-14zM392 216h14v8h-14zM406 216h14v8h-14zM420 216h14v8h-14zM434 216h14v8h-14zM448 216h14v8h-14zM476 216h14v8h-14zM490 216h14v8h-14zM504 216h14v8h-14zM518 216h14v8h-14zM546 216h14v8h-14zM574 216h14v8h-14zM588 216h14v8h-14zM602 216h14v8h-14zM616 216h14v8h-14zM630 216h14v8h-14zM644 216h14v8h-14zM672 216h14v8h-14zM714 216h14v8h-14zM728 216h14v8h-14zM406 232h14v8h-14zM490 232h14v8h-14zM546 232h14v8h-14zM602 232h14v8h-14zM616 232h14v8h-14z"/><path fill="#388" d="M854 0h14v8h-14zM896 0h14v8h-14zM924 0h14v8h-14zM952 0h14v8h-14zM336 64h14v8h-14zM420 80h14v8h-14zM1148 80h14v8h-14zM798 96h14v8h-14zM994 96h14v8h-14zM1078 96h14v8h-14zM1106 96h14v8h-14zM952 112h14v8h-14zM1008 112h14v8h-14zM0 136h14v8h-14zM14 136h14v8h-14zM42 136h14v8h-14zM112 136h14v8h-14zM140 160h14v8h-14zM210 160h14v8h-14zM126 168h14v8h-14zM252 184h14v8h-14zM1148 216h14v8h-14zM924 232h14v8h-14zM1120 232h14v8h-14zM994 240h14v8h-14zM434 248h14v8h-14zM994 280h14v8h-14zM994 288h14v8h-14zM994 296h14v8h-14z"/><path fill="#2a8" d="M588 8h14v8h-14zM896 8h14v8h-14zM938 8h14v8h-14zM952 8h14v8h-14zM1008 8h14v8h-14zM1050 8h14v8h-14zM1120 8h14v8h-14zM1022 16h14v8h-14zM1120 16h14v8h-14zM1134 16h14v8h-14zM1162 16h14v8h-14zM504 24h14v8h-14zM518 24h14v8h-14zM532 24h14v8h-14zM546 24h14v8h-14zM574 24h14v8h-14zM1036 24h14v8h-14zM1050 24h14v8h-14zM1092 24h14v8h-14zM1106 24h14v8h-14zM1162 24h14v8h-14zM434 32h14v8h-14zM490 32h14v8h-14zM532 32h14v8h-14zM1008 32h14v8h-14zM1036 32h14v8h-14zM1148 32h14v8h-14zM490 40h14v8h-14zM532 40h14v8h-14zM1092 40h14v8h-14zM434 48h14v8h-14zM490 48h14v8h-14zM504 48h14v8h-14zM518 48h14v8h-14zM1036 48h14v8h-14zM1078 48h14v8h-14zM1092 48h14v8h-14zM1148 48h14v8h-14zM1162 48h14v8h-14zM420 56h14v8h-14zM448 56h14v8h-14zM462 56h14v8h-14zM476 56h14v8h-14zM490 56h14v8h-14zM504 56h14v8h-14zM518 56h14v8h-14zM1036 56h14v8h-14zM1092 56h14v8h-14zM1106 56h14v8h-14zM1134 56h14v8h-14zM1148 56h14v8h-14zM532 64h14v8h-14zM1036 64h14v8h-14zM1106 64h14v8h-14zM1120 64h14v8h-14zM1148 64h14v8h-14zM1162 64h14v8h-14zM490 72h14v8h-14zM518 72h14v8h-14zM588 72h14v8h-14zM756 72h14v8h-14zM924 72h14v8h-14zM952 72h14v8h-14zM980 72h14v8h-14zM1050 72h14v8h-14zM1106 72h14v8h-14zM1134 72h14v8h-14zM364 80h14v8h-14zM392 80h14v8h-14zM448 80h14v8h-14zM490 80h14v8h-14zM518 80h14v8h-14zM532 80h14v8h-14zM546 80h14v8h-14zM560 80h14v8h-14zM574 80h14v8h-14zM588 80h14v8h-14zM602 80h14v8h-14zM854 80h14v8h-14zM868 80h14v8h-14zM882 80h14v8h-14zM490 88h14v8h-14zM546 88h14v8h-14zM574 88h14v8h-14zM588 88h14v8h-14zM602 88h14v8h-14zM616 88h14v8h-14zM826 88h14v8h-14zM336 104h14v8h-14zM350 104h14v8h-14zM798 104h14v8h-14zM840 104h14v8h-14zM868 104h14v8h-14zM882 104h14v8h-14zM910 104h14v8h-14zM924 104h14v8h-14zM994 104h14v8h-14zM1064 104h14v8h-14zM336 112h14v8h-14zM266 120h14v8h-14zM980 120h14v8h-14zM994 120h14v8h-14zM1050 120h14v8h-14zM1064 120h14v8h-14zM1078 120h14v8h-14zM1148 120h14v8h-14zM126 144h14v8h-14zM210 144h14v8h-14zM224 144h14v8h-14zM224 152h14v8h-14zM280 192h14v8h-14zM308 200h14v8h-14zM784 200h14v8h-14zM798 200h14v8h-14zM826 200h14v8h-14zM840 200h14v8h-14zM868 200h14v8h-14zM924 200h14v8h-14zM938 200h14v8h-14zM952 200h14v8h-14zM966 200h14v8h-14zM980 200h14v8h-14zM994 200h14v8h-14zM1008 200h14v8h-14zM1022 200h14v8h-14zM1036 200h14v8h-14zM1050 200h14v8h-14zM1064 200h14v8h-14zM1092 200h14v8h-14zM1134 200h14v8h-14zM350 216h14v8h-14zM364 216h14v8h-14zM658 216h14v8h-14zM756 216h14v8h-14zM770 216h14v8h-14zM952 216h14v8h-14zM1008 216h14v8h-14zM392 232h14v8h-14zM420 232h14v8h-14zM462 232h14v8h-14zM476 232h14v8h-14zM504 232h14v8h-14zM518 232h14v8h-14zM532 232h14v8h-14zM560 232h14v8h-14zM574 232h14v8h-14zM588 232h14v8h-14zM630 232h14v8h-14zM644 232h14v8h-14zM658 232h14v8h-14zM672 232h14v8h-14zM700 232h14v8h-14zM714 232h14v8h-14zM756 232h14v8h-14zM588 240h14v8h-14zM602 240h14v8h-14zM476 248h14v8h-14zM644 248h14v8h-14z"/><path fill="#3b7" d="M616 8h14v8h-14zM728 8h14v8h-14zM742 8h14v8h-14zM756 8h14v8h-14zM784 8h14v8h-14zM798 8h14v8h-14zM826 8h14v8h-14zM854 8h14v8h-14zM602 16h14v8h-14zM756 16h14v8h-14zM770 16h14v8h-14zM854 16h14v8h-14zM882 16h14v8h-14zM938 16h14v8h-14zM952 16h14v8h-14zM966 16h14v8h-14zM994 16h14v8h-14zM602 24h14v8h-14zM756 24h14v8h-14zM868 24h14v8h-14zM882 24h14v8h-14zM938 24h14v8h-14zM966 24h14v8h-14zM980 24h14v8h-14zM994 24h14v8h-14zM812 32h14v8h-14zM994 32h14v8h-14zM1022 32h14v8h-14zM602 40h14v8h-14zM770 40h14v8h-14zM812 40h14v8h-14zM882 40h14v8h-14zM910 40h14v8h-14zM924 40h14v8h-14zM938 40h14v8h-14zM952 40h14v8h-14zM588 48h14v8h-14zM742 48h14v8h-14zM798 48h14v8h-14zM812 48h14v8h-14zM826 48h14v8h-14zM854 48h14v8h-14zM868 48h14v8h-14zM910 48h14v8h-14zM924 48h14v8h-14zM938 48h14v8h-14zM952 48h14v8h-14zM966 48h14v8h-14zM994 48h14v8h-14zM756 56h14v8h-14zM924 56h14v8h-14zM938 56h14v8h-14zM966 56h14v8h-14zM616 64h14v8h-14zM700 64h14v8h-14zM756 64h14v8h-14zM784 64h14v8h-14zM854 64h14v8h-14zM882 64h14v8h-14zM924 64h14v8h-14zM630 72h14v8h-14zM644 72h14v8h-14zM658 72h14v8h-14zM700 72h14v8h-14zM826 72h14v8h-14zM896 72h14v8h-14zM910 72h14v8h-14zM630 80h14v8h-14zM672 80h14v8h-14zM686 80h14v8h-14zM714 80h14v8h-14zM728 80h14v8h-14zM644 88h14v8h-14zM658 88h14v8h-14zM672 88h14v8h-14zM686 88h14v8h-14zM700 88h14v8h-14zM616 96h14v8h-14zM644 96h14v8h-14zM770 96h14v8h-14zM420 104h14v8h-14zM476 104h14v8h-14zM504 104h14v8h-14zM518 104h14v8h-14zM448 112h14v8h-14zM798 120h14v8h-14zM840 120h14v8h-14zM854 120h14v8h-14zM910 120h14v8h-14zM252 144h14v8h-14zM252 152h14v8h-14zM266 176h14v8h-14zM280 184h14v8h-14zM1036 184h14v8h-14zM1064 184h14v8h-14zM1120 184h14v8h-14zM1134 184h14v8h-14zM1162 184h14v8h-14zM294 192h14v8h-14zM812 192h14v8h-14zM826 192h14v8h-14zM868 192h14v8h-14zM882 192h14v8h-14zM896 192h14v8h-14zM980 192h14v8h-14zM994 192h14v8h-14zM1008 192h14v8h-14zM1050 192h14v8h-14zM1064 192h14v8h-14zM1134 192h14v8h-14zM350 200h14v8h-14zM770 200h14v8h-14zM532 216h14v8h-14zM560 216h14v8h-14zM686 216h14v8h-14zM700 216h14v8h-14z"/><path fill="#8c5" d="M658 8h14v8h-14zM910 168h14v8h-14zM378 184h14v8h-14zM714 192h14v8h-14z"/><path fill="#9d4" d="M672 8h14v8h-14zM658 16h14v8h-14zM658 24h14v8h-14zM672 24h14v8h-14zM686 32h14v8h-14zM630 120h14v8h-14zM644 120h14v8h-14zM686 120h14v8h-14zM630 128h14v8h-14zM364 136h14v8h-14zM322 144h14v8h-14zM336 144h14v8h-14zM840 144h14v8h-14zM854 144h14v8h-14zM868 144h14v8h-14zM882 144h14v8h-14zM924 144h14v8h-14zM826 152h14v8h-14zM840 152h14v8h-14zM854 152h14v8h-14zM826 160h14v8h-14zM840 160h14v8h-14zM854 160h14v8h-14zM322 168h14v8h-14zM826 168h14v8h-14zM840 168h14v8h-14zM854 168h14v8h-14zM322 176h14v8h-14zM350 176h14v8h-14zM392 184h14v8h-14zM406 184h14v8h-14zM728 184h14v8h-14zM490 192h14v8h-14zM574 192h14v8h-14zM588 192h14v8h-14zM602 192h14v8h-14zM630 192h14v8h-14zM644 192h14v8h-14zM658 192h14v8h-14z"/><path fill="#8c4" d="M686 8h14v8h-14zM686 24h14v8h-14zM672 40h14v8h-14zM588 120h14v8h-14zM602 120h14v8h-14zM616 120h14v8h-14zM714 120h14v8h-14zM490 128h14v8h-14zM518 128h14v8h-14zM532 128h14v8h-14zM546 128h14v8h-14zM560 128h14v8h-14zM588 128h14v8h-14zM602 128h14v8h-14zM616 128h14v8h-14zM658 128h14v8h-14zM672 128h14v8h-14zM686 128h14v8h-14zM742 128h14v8h-14zM322 136h14v8h-14zM336 136h14v8h-14zM350 136h14v8h-14zM826 136h14v8h-14zM910 144h14v8h-14zM938 144h14v8h-14zM952 144h14v8h-14zM966 144h14v8h-14zM308 152h14v8h-14zM924 152h14v8h-14zM952 152h14v8h-14zM966 152h14v8h-14zM938 160h14v8h-14zM882 168h14v8h-14zM784 176h14v8h-14zM756 184h14v8h-14zM770 184h14v8h-14zM392 192h14v8h-14zM406 192h14v8h-14zM420 192h14v8h-14zM616 192h14v8h-14zM686 192h14v8h-14z"/><path fill="#7c5" d="M700 8h14v8h-14zM644 16h14v8h-14zM700 16h14v8h-14zM644 24h14v8h-14zM700 24h14v8h-14zM630 32h14v8h-14zM644 32h14v8h-14zM700 32h14v8h-14zM658 40h14v8h-14zM686 40h14v8h-14zM658 48h14v8h-14zM672 48h14v8h-14zM686 48h14v8h-14zM658 56h14v8h-14zM672 112h14v8h-14zM518 120h14v8h-14zM532 120h14v8h-14zM560 120h14v8h-14zM574 120h14v8h-14zM728 120h14v8h-14zM742 120h14v8h-14zM756 120h14v8h-14zM448 128h14v8h-14zM462 128h14v8h-14zM476 128h14v8h-14zM504 128h14v8h-14zM756 128h14v8h-14zM840 136h14v8h-14zM882 136h14v8h-14zM910 136h14v8h-14zM308 144h14v8h-14zM980 144h14v8h-14zM994 144h14v8h-14zM1008 144h14v8h-14zM1050 144h14v8h-14zM910 152h14v8h-14zM308 160h14v8h-14zM952 160h14v8h-14zM966 160h14v8h-14zM994 160h14v8h-14zM308 168h14v8h-14zM924 168h14v8h-14zM938 168h14v8h-14zM952 168h14v8h-14zM966 168h14v8h-14zM798 176h14v8h-14zM812 176h14v8h-14zM826 176h14v8h-14zM322 184h14v8h-14zM336 184h14v8h-14zM364 192h14v8h-14zM378 192h14v8h-14zM700 192h14v8h-14zM742 192h14v8h-14z"/><path fill="#397" d="M980 8h14v8h-14zM1036 8h14v8h-14zM434 24h14v8h-14zM784 96h14v8h-14zM896 96h14v8h-14zM910 96h14v8h-14zM812 112h14v8h-14zM826 112h14v8h-14zM840 112h14v8h-14zM854 112h14v8h-14zM1092 112h14v8h-14zM1036 128h14v8h-14zM1120 128h14v8h-14zM56 136h14v8h-14zM70 136h14v8h-14zM182 136h14v8h-14zM196 136h14v8h-14zM1092 192h14v8h-14zM1106 192h14v8h-14zM1162 192h14v8h-14z"/><path fill="#6c6" d="M630 16h14v8h-14zM714 16h14v8h-14zM728 32h14v8h-14zM630 40h14v8h-14zM700 48h14v8h-14zM686 56h14v8h-14zM700 104h14v8h-14zM714 104h14v8h-14zM742 104h14v8h-14zM602 112h14v8h-14zM630 112h14v8h-14zM728 112h14v8h-14zM476 120h14v8h-14zM770 120h14v8h-14zM434 128h14v8h-14zM812 128h14v8h-14zM294 136h14v8h-14zM294 144h14v8h-14zM1036 144h14v8h-14zM1092 144h14v8h-14zM1148 144h14v8h-14zM1036 152h14v8h-14zM294 160h14v8h-14zM1022 160h14v8h-14zM1036 160h14v8h-14zM1050 160h14v8h-14zM294 168h14v8h-14zM980 168h14v8h-14zM1022 168h14v8h-14zM924 176h14v8h-14zM952 176h14v8h-14zM980 176h14v8h-14zM336 192h14v8h-14zM756 192h14v8h-14zM770 192h14v8h-14zM490 200h14v8h-14zM518 200h14v8h-14zM630 200h14v8h-14zM644 200h14v8h-14z"/><path fill="#ad3" d="M672 16h14v8h-14zM378 136h14v8h-14zM420 136h14v8h-14zM434 136h14v8h-14zM448 136h14v8h-14zM462 136h14v8h-14zM476 136h14v8h-14zM504 136h14v8h-14zM546 136h14v8h-14zM560 136h14v8h-14zM574 136h14v8h-14zM588 136h14v8h-14zM602 136h14v8h-14zM700 136h14v8h-14zM742 136h14v8h-14zM770 136h14v8h-14zM350 144h14v8h-14zM364 144h14v8h-14zM784 144h14v8h-14zM798 144h14v8h-14zM812 144h14v8h-14zM350 152h14v8h-14zM364 152h14v8h-14zM378 152h14v8h-14zM392 152h14v8h-14zM784 152h14v8h-14zM798 152h14v8h-14zM336 160h14v8h-14zM350 160h14v8h-14zM364 160h14v8h-14zM784 160h14v8h-14zM798 160h14v8h-14zM812 160h14v8h-14zM336 168h14v8h-14zM364 168h14v8h-14zM784 168h14v8h-14zM378 176h14v8h-14zM392 176h14v8h-14zM406 176h14v8h-14zM434 176h14v8h-14zM602 176h14v8h-14zM672 176h14v8h-14zM686 176h14v8h-14zM728 176h14v8h-14zM742 176h14v8h-14zM756 176h14v8h-14zM420 184h14v8h-14zM434 184h14v8h-14zM448 184h14v8h-14zM462 184h14v8h-14zM476 184h14v8h-14zM490 184h14v8h-14zM504 184h14v8h-14zM518 184h14v8h-14zM532 184h14v8h-14zM546 184h14v8h-14zM560 184h14v8h-14zM574 184h14v8h-14zM588 184h14v8h-14zM602 184h14v8h-14zM630 184h14v8h-14zM644 184h14v8h-14zM658 184h14v8h-14zM672 184h14v8h-14zM700 184h14v8h-14zM714 184h14v8h-14z"/><path fill="#8d4" d="M686 16h14v8h-14zM658 32h14v8h-14zM658 120h14v8h-14zM672 120h14v8h-14zM700 120h14v8h-14zM896 144h14v8h-14zM868 152h14v8h-14zM882 152h14v8h-14zM896 152h14v8h-14zM938 152h14v8h-14zM868 160h14v8h-14zM882 160h14v8h-14zM896 160h14v8h-14zM910 160h14v8h-14zM924 160h14v8h-14zM868 168h14v8h-14zM896 168h14v8h-14zM336 176h14v8h-14zM364 176h14v8h-14zM350 184h14v8h-14zM364 184h14v8h-14zM742 184h14v8h-14zM434 192h14v8h-14zM448 192h14v8h-14zM462 192h14v8h-14zM476 192h14v8h-14zM546 192h14v8h-14zM560 192h14v8h-14zM672 192h14v8h-14z"/><path fill="#2a7" d="M1092 16h14v8h-14z"/><path fill="#4a7" d="M798 24h14v8h-14zM798 64h14v8h-14zM728 96h14v8h-14zM798 112h14v8h-14zM952 128h14v8h-14zM966 128h14v8h-14zM994 128h14v8h-14zM1050 128h14v8h-14zM1092 128h14v8h-14zM252 136h14v8h-14zM1162 136h14v8h-14zM1148 184h14v8h-14zM1036 192h14v8h-14z"/><path fill="#367" d="M224 32h14v8h-14zM42 104h14v8h-14zM308 208h14v8h-14zM322 208h14v8h-14zM364 208h14v8h-14zM812 208h14v8h-14zM826 208h14v8h-14zM854 208h14v8h-14zM868 208h14v8h-14zM882 208h14v8h-14zM910 208h14v8h-14zM952 208h14v8h-14zM994 208h14v8h-14zM1036 208h14v8h-14zM1050 208h14v8h-14zM1078 208h14v8h-14zM1120 208h14v8h-14zM1134 208h14v8h-14zM406 224h14v8h-14zM756 224h14v8h-14zM770 224h14v8h-14zM840 224h14v8h-14zM882 224h14v8h-14zM938 224h14v8h-14zM1008 224h14v8h-14zM1022 224h14v8h-14zM1092 224h14v8h-14zM1106 224h14v8h-14zM462 256h14v8h-14zM504 256h14v8h-14zM518 256h14v8h-14zM742 256h14v8h-14zM994 256h14v8h-14zM1022 256h14v8h-14zM1078 256h14v8h-14zM308 272h14v8h-14zM448 272h14v8h-14zM532 272h14v8h-14zM630 272h14v8h-14zM756 272h14v8h-14zM784 272h14v8h-14zM798 272h14v8h-14zM266 280h14v8h-14zM336 280h14v8h-14zM350 280h14v8h-14zM378 280h14v8h-14zM434 280h14v8h-14zM742 280h14v8h-14zM840 280h14v8h-14zM896 280h14v8h-14zM266 288h14v8h-14zM336 288h14v8h-14zM350 288h14v8h-14zM378 288h14v8h-14zM434 288h14v8h-14zM742 288h14v8h-14zM840 288h14v8h-14zM896 288h14v8h-14zM266 296h14v8h-14zM336 296h14v8h-14zM350 296h14v8h-14zM378 296h14v8h-14zM434 296h14v8h-14zM742 296h14v8h-14zM840 296h14v8h-14zM896 296h14v8h-14z"/><path fill="#9d3" d="M672 32h14v8h-14zM392 136h14v8h-14zM406 136h14v8h-14zM826 144h14v8h-14zM322 152h14v8h-14zM336 152h14v8h-14zM812 152h14v8h-14zM322 160h14v8h-14zM798 168h14v8h-14zM812 168h14v8h-14zM770 176h14v8h-14zM616 184h14v8h-14zM686 184h14v8h-14zM504 192h14v8h-14zM518 192h14v8h-14zM532 192h14v8h-14z"/><path fill="#377" d="M1022 96h14v8h-14zM336 208h14v8h-14zM406 208h14v8h-14zM420 208h14v8h-14zM784 208h14v8h-14zM798 208h14v8h-14zM840 208h14v8h-14zM896 208h14v8h-14zM924 208h14v8h-14zM938 208h14v8h-14zM966 208h14v8h-14zM980 208h14v8h-14zM1008 208h14v8h-14zM1022 208h14v8h-14zM1064 208h14v8h-14zM1148 208h14v8h-14zM1162 208h14v8h-14zM350 224h14v8h-14zM364 224h14v8h-14zM378 224h14v8h-14zM392 224h14v8h-14zM420 224h14v8h-14zM434 224h14v8h-14zM448 224h14v8h-14zM462 224h14v8h-14zM476 224h14v8h-14zM490 224h14v8h-14zM504 224h14v8h-14zM518 224h14v8h-14zM532 224h14v8h-14zM546 224h14v8h-14zM560 224h14v8h-14zM574 224h14v8h-14zM588 224h14v8h-14zM602 224h14v8h-14zM616 224h14v8h-14zM630 224h14v8h-14zM644 224h14v8h-14zM658 224h14v8h-14zM672 224h14v8h-14zM686 224h14v8h-14zM700 224h14v8h-14zM714 224h14v8h-14zM728 224h14v8h-14zM896 224h14v8h-14zM966 224h14v8h-14zM994 224h14v8h-14zM1064 224h14v8h-14zM1078 224h14v8h-14zM1120 224h14v8h-14zM1134 224h14v8h-14zM1148 224h14v8h-14zM1162 224h14v8h-14zM560 256h14v8h-14zM574 256h14v8h-14zM1050 256h14v8h-14z"/><path fill="#387" d="M252 104h14v8h-14zM910 112h14v8h-14zM266 128h14v8h-14zM28 136h14v8h-14zM238 160h14v8h-14zM546 256h14v8h-14zM280 280h14v8h-14zM574 280h14v8h-14zM280 288h14v8h-14zM574 288h14v8h-14zM280 296h14v8h-14zM574 296h14v8h-14z"/><path fill="#6b6" d="M588 112h14v8h-14zM616 112h14v8h-14zM980 136h14v8h-14zM994 136h14v8h-14z"/><path fill="#7b5" d="M714 112h14v8h-14zM770 128h14v8h-14zM854 136h14v8h-14zM868 136h14v8h-14zM896 136h14v8h-14zM924 136h14v8h-14z"/><path fill="#6b5" d="M420 128h14v8h-14zM938 136h14v8h-14zM966 136h14v8h-14z"/><path fill="#9c4" d="M574 128h14v8h-14zM644 128h14v8h-14zM700 128h14v8h-14zM714 128h14v8h-14zM728 128h14v8h-14z"/><path fill="#5a6" d="M826 128h14v8h-14zM1036 136h14v8h-14zM1064 136h14v8h-14z"/><path fill="#4a6" d="M924 128h14v8h-14zM938 128h14v8h-14zM980 128h14v8h-14zM238 136h14v8h-14z"/><path fill="#497" d="M1022 128h14v8h-14z"/><path fill="#bd3" d="M490 136h14v8h-14zM518 136h14v8h-14zM616 136h14v8h-14zM686 136h14v8h-14zM756 136h14v8h-14zM378 144h14v8h-14zM406 152h14v8h-14zM378 160h14v8h-14zM392 160h14v8h-14zM770 160h14v8h-14zM350 168h14v8h-14zM378 168h14v8h-14zM392 168h14v8h-14zM420 176h14v8h-14zM462 176h14v8h-14zM476 176h14v8h-14zM504 176h14v8h-14zM518 176h14v8h-14zM546 176h14v8h-14zM574 176h14v8h-14zM588 176h14v8h-14zM616 176h14v8h-14zM630 176h14v8h-14zM644 176h14v8h-14zM714 176h14v8h-14z"/><path fill="#bd2" d="M532 136h14v8h-14zM630 136h14v8h-14zM644 136h14v8h-14zM658 136h14v8h-14zM672 136h14v8h-14zM714 136h14v8h-14zM728 136h14v8h-14zM392 144h14v8h-14zM406 144h14v8h-14zM420 144h14v8h-14zM448 144h14v8h-14zM504 144h14v8h-14zM770 144h14v8h-14zM420 152h14v8h-14zM434 152h14v8h-14zM448 152h14v8h-14zM462 152h14v8h-14zM476 152h14v8h-14zM490 152h14v8h-14zM518 152h14v8h-14zM742 152h14v8h-14zM756 152h14v8h-14zM770 152h14v8h-14zM406 160h14v8h-14zM546 160h14v8h-14zM616 160h14v8h-14zM756 160h14v8h-14zM406 168h14v8h-14zM448 168h14v8h-14zM462 168h14v8h-14zM476 168h14v8h-14zM616 168h14v8h-14zM630 168h14v8h-14zM644 168h14v8h-14zM728 168h14v8h-14zM742 168h14v8h-14zM756 168h14v8h-14zM770 168h14v8h-14zM448 176h14v8h-14zM490 176h14v8h-14zM532 176h14v8h-14zM560 176h14v8h-14zM658 176h14v8h-14zM700 176h14v8h-14z"/><path fill="#9c3" d="M784 136h14v8h-14z"/><path fill="#8b4" d="M798 136h14v8h-14z"/><path fill="#9b4" d="M812 136h14v8h-14z"/><path fill="#cd2" d="M434 144h14v8h-14zM462 144h14v8h-14zM476 144h14v8h-14zM490 144h14v8h-14zM518 144h14v8h-14zM546 144h14v8h-14zM560 144h14v8h-14zM574 144h14v8h-14zM588 144h14v8h-14zM602 144h14v8h-14zM616 144h14v8h-14zM644 144h14v8h-14zM672 144h14v8h-14zM686 144h14v8h-14zM700 144h14v8h-14zM728 144h14v8h-14zM742 144h14v8h-14zM756 144h14v8h-14zM504 152h14v8h-14zM532 152h14v8h-14zM546 152h14v8h-14zM560 152h14v8h-14zM574 152h14v8h-14zM588 152h14v8h-14zM602 152h14v8h-14zM616 152h14v8h-14zM630 152h14v8h-14zM644 152h14v8h-14zM658 152h14v8h-14zM672 152h14v8h-14zM686 152h14v8h-14zM700 152h14v8h-14zM714 152h14v8h-14zM728 152h14v8h-14zM420 160h14v8h-14zM434 160h14v8h-14zM448 160h14v8h-14zM462 160h14v8h-14zM476 160h14v8h-14zM490 160h14v8h-14zM504 160h14v8h-14zM518 160h14v8h-14zM532 160h14v8h-14zM560 160h14v8h-14zM574 160h14v8h-14zM588 160h14v8h-14zM602 160h14v8h-14zM630 160h14v8h-14zM644 160h14v8h-14zM672 160h14v8h-14zM686 160h14v8h-14zM700 160h14v8h-14zM714 160h14v8h-14zM728 160h14v8h-14zM742 160h14v8h-14zM420 168h14v8h-14zM434 168h14v8h-14zM490 168h14v8h-14zM504 168h14v8h-14zM518 168h14v8h-14zM532 168h14v8h-14zM546 168h14v8h-14zM560 168h14v8h-14zM574 168h14v8h-14zM588 168h14v8h-14zM602 168h14v8h-14zM658 168h14v8h-14zM672 168h14v8h-14zM686 168h14v8h-14zM700 168h14v8h-14zM714 168h14v8h-14z"/><path fill="#dd2" d="M532 144h14v8h-14zM630 144h14v8h-14zM658 144h14v8h-14zM714 144h14v8h-14zM658 160h14v8h-14z"/><path fill="#416" d="M28 208h14v8h-14zM0 264h14v8h-14zM98 264h14v8h-14zM812 264h14v8h-14zM1106 264h14v8h-14zM28 320h14v8h-14zM42 320h14v8h-14zM84 320h14v8h-14zM168 320h14v8h-14zM378 320h14v8h-14zM392 320h14v8h-14zM630 320h14v8h-14zM714 320h14v8h-14zM868 320h14v8h-14zM966 320h14v8h-14zM616 328h14v8h-14zM714 328h14v8h-14zM854 328h14v8h-14zM1008 328h14v8h-14zM1022 328h14v8h-14zM756 336h14v8h-14z"/><path fill="#477" d="M350 208h14v8h-14zM378 208h14v8h-14zM392 208h14v8h-14zM434 208h14v8h-14zM448 208h14v8h-14zM476 208h14v8h-14zM490 208h14v8h-14zM504 208h14v8h-14zM546 208h14v8h-14zM560 208h14v8h-14zM574 208h14v8h-14zM588 208h14v8h-14zM602 208h14v8h-14zM616 208h14v8h-14zM630 208h14v8h-14zM644 208h14v8h-14zM658 208h14v8h-14zM672 208h14v8h-14zM686 208h14v8h-14zM700 208h14v8h-14zM714 208h14v8h-14zM742 208h14v8h-14zM756 208h14v8h-14zM770 208h14v8h-14zM742 224h14v8h-14z"/><path fill="#487" d="M462 208h14v8h-14zM518 208h14v8h-14zM532 208h14v8h-14zM728 208h14v8h-14z"/><path fill="#446" d="M56 256h14v8h-14zM70 256h14v8h-14zM140 256h14v8h-14zM308 264h14v8h-14zM392 264h14v8h-14zM504 264h14v8h-14zM672 264h14v8h-14zM1022 264h14v8h-14zM1162 264h14v8h-14zM336 272h14v8h-14zM434 272h14v8h-14zM742 272h14v8h-14zM812 272h14v8h-14zM854 272h14v8h-14zM1106 272h14v8h-14z"/><path fill="#457" d="M196 256h14v8h-14zM882 256h14v8h-14zM910 256h14v8h-14zM980 256h14v8h-14zM490 264h14v8h-14zM574 264h14v8h-14zM616 264h14v8h-14zM630 264h14v8h-14zM14 272h14v8h-14zM280 272h14v8h-14zM686 272h14v8h-14zM700 272h14v8h-14zM994 272h14v8h-14z"/><path fill="#467" d="M1036 256h14v8h-14zM546 264h14v8h-14z"/><path fill="#536" d="M14 264h14v8h-14zM224 264h14v8h-14zM798 264h14v8h-14z"/><path fill="#405" d="M28 264h14v8h-14zM56 264h14v8h-14zM42 272h14v8h-14zM42 280h14v8h-14zM56 280h14v8h-14zM42 288h14v8h-14zM56 288h14v8h-14zM42 296h14v8h-14zM56 296h14v8h-14zM14 320h14v8h-14zM126 320h14v8h-14zM140 320h14v8h-14zM308 320h14v8h-14zM406 320h14v8h-14zM532 320h14v8h-14zM546 320h14v8h-14zM602 320h14v8h-14zM616 320h14v8h-14zM812 320h14v8h-14zM882 320h14v8h-14zM938 320h14v8h-14zM1050 320h14v8h-14zM1120 320h14v8h-14zM1134 320h14v8h-14zM1162 320h14v8h-14zM840 328h14v8h-14zM882 328h14v8h-14zM1120 328h14v8h-14z"/><path fill="#415" d="M42 264h14v8h-14zM238 264h14v8h-14zM966 264h14v8h-14zM56 272h14v8h-14zM168 272h14v8h-14zM168 280h14v8h-14zM168 288h14v8h-14zM168 296h14v8h-14zM112 320h14v8h-14zM154 320h14v8h-14zM182 320h14v8h-14zM196 320h14v8h-14zM266 320h14v8h-14zM280 320h14v8h-14zM322 320h14v8h-14zM336 320h14v8h-14zM364 320h14v8h-14zM420 320h14v8h-14zM434 320h14v8h-14zM448 320h14v8h-14zM462 320h14v8h-14zM476 320h14v8h-14zM490 320h14v8h-14zM518 320h14v8h-14zM574 320h14v8h-14zM588 320h14v8h-14zM672 320h14v8h-14zM686 320h14v8h-14zM700 320h14v8h-14zM728 320h14v8h-14zM742 320h14v8h-14zM756 320h14v8h-14zM770 320h14v8h-14zM826 320h14v8h-14zM896 320h14v8h-14zM924 320h14v8h-14zM994 320h14v8h-14zM1008 320h14v8h-14zM1022 320h14v8h-14zM1064 320h14v8h-14zM1078 320h14v8h-14zM14 328h14v8h-14zM56 328h14v8h-14zM98 328h14v8h-14zM140 328h14v8h-14zM224 328h14v8h-14zM364 328h14v8h-14zM406 328h14v8h-14zM448 328h14v8h-14zM602 328h14v8h-14zM672 328h14v8h-14zM826 328h14v8h-14zM910 328h14v8h-14zM924 328h14v8h-14zM994 328h14v8h-14zM1036 328h14v8h-14zM1064 328h14v8h-14zM1078 328h14v8h-14zM1092 328h14v8h-14zM1106 328h14v8h-14zM1162 328h14v8h-14zM56 336h14v8h-14zM238 336h14v8h-14z"/><path fill="#535" d="M168 264h14v8h-14zM294 280h14v8h-14zM294 288h14v8h-14zM294 296h14v8h-14zM28 328h14v8h-14zM70 328h14v8h-14zM196 328h14v8h-14zM210 328h14v8h-14zM252 328h14v8h-14zM294 328h14v8h-14zM336 328h14v8h-14zM378 328h14v8h-14zM476 328h14v8h-14zM560 328h14v8h-14zM658 328h14v8h-14z"/><path fill="#525" d="M182 264h14v8h-14zM322 264h14v8h-14zM42 328h14v8h-14zM112 328h14v8h-14zM154 328h14v8h-14zM168 328h14v8h-14zM308 328h14v8h-14zM392 328h14v8h-14zM420 328h14v8h-14zM434 328h14v8h-14zM462 328h14v8h-14zM504 328h14v8h-14zM518 328h14v8h-14zM770 328h14v8h-14z"/><path fill="#425" d="M252 264h14v8h-14zM28 272h14v8h-14zM0 328h14v8h-14zM266 328h14v8h-14zM280 328h14v8h-14zM322 328h14v8h-14zM574 328h14v8h-14zM630 328h14v8h-14zM686 328h14v8h-14zM896 328h14v8h-14zM966 328h14v8h-14zM980 328h14v8h-14z"/><path fill="#556" d="M406 264h14v8h-14z"/><path fill="#456" d="M420 264h14v8h-14z"/><path fill="#546" d="M1134 264h14v8h-14zM126 328h14v8h-14z"/><path fill="#466" d="M98 272h14v8h-14z"/><path fill="#336" d="M140 272h14v8h-14zM504 272h14v8h-14zM882 272h14v8h-14zM1064 272h14v8h-14zM28 280h14v8h-14zM238 280h14v8h-14zM252 280h14v8h-14zM28 288h14v8h-14zM238 288h14v8h-14zM252 288h14v8h-14zM28 296h14v8h-14zM238 296h14v8h-14zM252 296h14v8h-14zM350 320h14v8h-14zM560 320h14v8h-14zM644 320h14v8h-14zM840 320h14v8h-14zM910 320h14v8h-14zM1148 328h14v8h-14zM14 336h14v8h-14zM28 336h14v8h-14zM42 336h14v8h-14zM112 336h14v8h-14zM126 336h14v8h-14zM154 336h14v8h-14zM182 336h14v8h-14zM280 336h14v8h-14zM308 336h14v8h-14zM322 336h14v8h-14zM336 336h14v8h-14zM378 336h14v8h-14zM392 336h14v8h-14zM406 336h14v8h-14zM420 336h14v8h-14zM448 336h14v8h-14zM462 336h14v8h-14zM476 336h14v8h-14zM490 336h14v8h-14zM504 336h14v8h-14zM560 336h14v8h-14zM588 336h14v8h-14zM700 336h14v8h-14zM714 336h14v8h-14zM728 336h14v8h-14zM742 336h14v8h-14zM784 336h14v8h-14zM798 336h14v8h-14zM812 336h14v8h-14zM840 336h14v8h-14zM882 336h14v8h-14zM896 336h14v8h-14zM952 336h14v8h-14zM980 336h14v8h-14zM1022 336h14v8h-14zM1064 336h14v8h-14zM1078 336h14v8h-14zM1120 336h14v8h-14zM1162 336h14v8h-14z"/><path fill="#346" d="M868 280h14v8h-14zM868 288h14v8h-14zM868 296h14v8h-14zM644 336h14v8h-14z"/><path fill="#326" d="M210 320h14v8h-14zM854 320h14v8h-14zM938 328h14v8h-14zM616 336h14v8h-14zM938 336h14v8h-14zM1092 336h14v8h-14z"/><path fill="#545" d="M84 328h14v8h-14z"/><path fill="#435" d="M350 328h14v8h-14zM546 328h14v8h-14zM728 328h14v8h-14zM742 328h14v8h-14z"/><path fill="#515" d="M700 328h14v8h-14z"/></svg>
<canvas id="spec" width="1176" height="344"></canvas>
<svg width="1400" height="800" viewBox="0 0 1400 800" style="position:absolute;left:0;top:0" font-family="Liberation Sans, sans-serif"><text x="370.2" y="19.2" font-size="20.5" text-anchor="start" textLength="570.0" lengthAdjust="spacingAndGlyphs" >EOVSA Median Cross-Power Spectrogram for 2025-01-03</text><g fill="#fff"><rect x="67" y="327" width="1176" height="25"/><rect x="844" y="28" width="5" height="232"/><rect x="849" y="82" width="5" height="4"/><rect x="849" y="102" width="5" height="270"/></g><g stroke="#000" stroke-width="1.1" fill="none"><rect x="67.5" y="28.5" width="1176" height="344"/><line x1="67.5" y1="372.5" x2="67.5" y2="377.4"/><line x1="67.5" y1="745.5" x2="67.5" y2="750.4"/><line x1="214.5" y1="372.5" x2="214.5" y2="377.4"/><line x1="214.5" y1="745.5" x2="214.5" y2="750.4"/><line x1="361.5" y1="372.5" x2="361.5" y2="377.4"/><line x1="361.5" y1="745.5" x2="361.5" y2="750.4"/><line x1="508.5" y1="372.5" x2="508.5" y2="377.4"/><line x1="508.5" y1="745.5" x2="508.5" y2="750.4"/><line x1="655.5" y1="372.5" x2="655.5" y2="377.4"/><line x1="655.5" y1="745.5" x2="655.5" y2="750.4"/><line x1="802.5" y1="372.5" x2="802.5" y2="377.4"/><line x1="802.5" y1="745.5" x2="802.5" y2="750.4"/><line x1="949.5" y1="372.5" x2="949.5" y2="377.4"/><line x1="949.5" y1="745.5" x2="949.5" y2="750.4"/><line x1="1096.5" y1="372.5" x2="1096.5" y2="377.4"/><line x1="1096.5" y1="745.5" x2="1096.5" y2="750.4"/><line x1="1243.5" y1="372.5" x2="1243.5" y2="377.4"/><line x1="1243.5" y1="745.5" x2="1243.5" y2="750.4"/><line x1="62.1" y1="109.3" x2="67" y2="109.3"/><line x1="64.2" y1="333.7" x2="67" y2="333.7"/><line x1="64.2" y1="277.1" x2="67" y2="277.1"/><line x1="64.2" y1="237.0" x2="67" y2="237.0"/><line x1="64.2" y1="205.9" x2="67" y2="205.9"/><line x1="64.2" y1="180.5" x2="67" y2="180.5"/><line x1="64.2" y1="159.0" x2="67" y2="159.0"/><line x1="64.2" y1="140.4" x2="67" y2="140.4"/><line x1="64.2" y1="124.0" x2="67" y2="124.0"/><line x1="62.1" y1="705.7" x2="67" y2="705.7"/><line x1="62.1" y1="662.0" x2="67" y2="662.0"/><line x1="62.1" y1="618.4" x2="67" y2="618.4"/><line x1="62.1" y1="574.7" x2="67" y2="574.7"/><line x1="62.1" y1="531.0" x2="67" y2="531.0"/><line x1="62.1" y1="487.3" x2="67" y2="487.3"/><line x1="62.1" y1="443.7" x2="67" y2="443.7"/><line x1="62.1" y1="400.0" x2="67" y2="400.0"/></g><text x="29.0" y="116.0" font-size="17.5" text-anchor="start" textLength="20.5" lengthAdjust="spacingAndGlyphs" >10</text><text x="50.2" y="109.2" font-size="12.2" text-anchor="start" textLength="6.6" lengthAdjust="spacingAndGlyphs" >1</text><text transform="translate(17.6,270.5) rotate(-90)" x="0" y="0" font-size="18" textLength="140" lengthAdjust="spacingAndGlyphs">Frequency [GHz]</text><text x="57.6" y="711.7" font-size="17.5" text-anchor="end" textLength="10.6" lengthAdjust="spacingAndGlyphs" >1</text><text x="57.6" y="668.0" font-size="17.5" text-anchor="end" textLength="10.6" lengthAdjust="spacingAndGlyphs" >2</text><text x="57.6" y="624.4" font-size="17.5" text-anchor="end" textLength="10.6" lengthAdjust="spacingAndGlyphs" >3</text><text x="57.6" y="580.7" font-size="17.5" text-anchor="end" textLength="10.6" lengthAdjust="spacingAndGlyphs" >4</text><text x="57.6" y="537.0" font-size="17.5" text-anchor="end" textLength="10.6" lengthAdjust="spacingAndGlyphs" >5</text><text x="57.6" y="493.3" font-size="17.5" text-anchor="end" textLength="10.6" lengthAdjust="spacingAndGlyphs" >6</text><text x="57.6" y="449.7" font-size="17.5" text-anchor="end" textLength="10.6" lengthAdjust="spacingAndGlyphs" >7</text><text x="57.6" y="406.0" font-size="17.5" text-anchor="end" textLength="10.6" lengthAdjust="spacingAndGlyphs" >8</text><text transform="translate(35.8,646) rotate(-90)" x="0" y="0" font-size="18" textLength="147.5" lengthAdjust="spacingAndGlyphs">Flux Density [sfu]</text><text x="67.5" y="768.0" font-size="17.5" text-anchor="middle" textLength="46.5" lengthAdjust="spacingAndGlyphs" >22:03</text><text x="214.5" y="768.0" font-size="17.5" text-anchor="middle" textLength="46.5" lengthAdjust="spacingAndGlyphs" >22:03</text><text x="361.5" y="768.0" font-size="17.5" text-anchor="middle" textLength="46.5" lengthAdjust="spacingAndGlyphs" >22:04</text><text x="508.5" y="768.0" font-size="17.5" text-anchor="middle" textLength="46.5" lengthAdjust="spacingAndGlyphs" >22:04</text><text x="655.5" y="768.0" font-size="17.5" text-anchor="middle" textLength="46.5" lengthAdjust="spacingAndGlyphs" >22:05</text><text x="802.5" y="768.0" font-size="17.5" text-anchor="middle" textLength="46.5" lengthAdjust="spacingAndGlyphs" >22:05</text><text x="949.5" y="768.0" font-size="17.5" text-anchor="middle" textLength="46.5" lengthAdjust="spacingAndGlyphs" >22:06</text><text x="1096.5" y="768.0" font-size="17.5" text-anchor="middle" textLength="46.5" lengthAdjust="spacingAndGlyphs" >22:06</text><text x="1243.5" y="768.0" font-size="17.5" text-anchor="middle" textLength="46.5" lengthAdjust="spacingAndGlyphs" >22:07</text><text x="654.9" y="792.0" font-size="17.5" text-anchor="middle" textLength="82.5" lengthAdjust="spacingAndGlyphs" >Time [UT]</text><defs><linearGradient id="cb" x1="0" y1="0" x2="0" y2="1"><stop offset="0.0000" stop-color="#fde725"/><stop offset="0.0159" stop-color="#f4e61e"/><stop offset="0.0317" stop-color="#eae51a"/><stop offset="0.0476" stop-color="#dfe318"/><stop offset="0.0635" stop-color="#d5e21a"/><stop offset="0.0794" stop-color="#cae11f"/><stop offset="0.0952" stop-color="#c0df25"/><stop offset="0.1111" stop-color="#b5de2b"/><stop offset="0.1270" stop-color="#aadc32"/><stop offset="0.1429" stop-color="#a0da39"/><stop offset="0.1587" stop-color="#95d840"/><stop offset="0.1746" stop-color="#8bd646"/><stop offset="0.1905" stop-color="#81d34d"/><stop offset="0.2063" stop-color="#77d153"/><stop offset="0.2222" stop-color="#6ece58"/><stop offset="0.2381" stop-color="#65cb5e"/><stop offset="0.2540" stop-color="#5ac864"/><stop offset="0.2698" stop-color="#52c569"/><stop offset="0.2857" stop-color="#4ac16d"/><stop offset="0.3016" stop-color="#42be71"/><stop offset="0.3175" stop-color="#3bbb75"/><stop offset="0.3333" stop-color="#35b779"/><stop offset="0.3492" stop-color="#2fb47c"/><stop offset="0.3651" stop-color="#2ab07f"/><stop offset="0.3810" stop-color="#26ad81"/><stop offset="0.3968" stop-color="#23a983"/><stop offset="0.4127" stop-color="#21a585"/><stop offset="0.4286" stop-color="#1fa187"/><stop offset="0.4444" stop-color="#1f9e89"/><stop offset="0.4603" stop-color="#1f9a8a"/><stop offset="0.4762" stop-color="#1f968b"/><stop offset="0.4921" stop-color="#20928c"/><stop offset="0.5079" stop-color="#218e8d"/><stop offset="0.5238" stop-color="#238a8d"/><stop offset="0.5397" stop-color="#24868e"/><stop offset="0.5556" stop-color="#26828e"/><stop offset="0.5714" stop-color="#277f8e"/><stop offset="0.5873" stop-color="#297b8e"/><stop offset="0.6032" stop-color="#2a778e"/><stop offset="0.6190" stop-color="#2c738e"/><stop offset="0.6349" stop-color="#2d708e"/><stop offset="0.6508" stop-color="#2f6c8e"/><stop offset="0.6667" stop-color="#31688e"/><stop offset="0.6825" stop-color="#32648e"/><stop offset="0.6984" stop-color="#34608d"/><stop offset="0.7143" stop-color="#365c8d"/><stop offset="0.7302" stop-color="#38588c"/><stop offset="0.7460" stop-color="#3a538b"/><stop offset="0.7619" stop-color="#3d4e8a"/><stop offset="0.7778" stop-color="#3e4989"/><stop offset="0.7937" stop-color="#404588"/><stop offset="0.8095" stop-color="#424086"/><stop offset="0.8254" stop-color="#443b84"/><stop offset="0.8413" stop-color="#453781"/><stop offset="0.8571" stop-color="#46327e"/><stop offset="0.8730" stop-color="#472d7b"/><stop offset="0.8889" stop-color="#482878"/><stop offset="0.9048" stop-color="#482374"/><stop offset="0.9206" stop-color="#481d6f"/><stop offset="0.9365" stop-color="#48186a"/><stop offset="0.9524" stop-color="#471365"/><stop offset="0.9683" stop-color="#470d60"/><stop offset="0.9841" stop-color="#46075a"/><stop offset="1.0000" stop-color="#440154"/></linearGradient><clipPath id="ax2"><rect x="67" y="400" width="1176" height="345"/></clipPath></defs><rect x="1326.5" y="28.5" width="17" height="343.5" fill="url(#cb)" stroke="#000" stroke-width="1.1"/><g stroke="#000" stroke-width="1.1"><line x1="1343.5" y1="372.0" x2="1348.9" y2="372.0"/><line x1="1343.5" y1="191.4" x2="1348.9" y2="191.4"/><line x1="1343.5" y1="317.6" x2="1347.0" y2="317.6"/><line x1="1343.5" y1="285.8" x2="1347.0" y2="285.8"/><line x1="1343.5" y1="263.3" x2="1347.0" y2="263.3"/><line x1="1343.5" y1="245.8" x2="1347.0" y2="245.8"/><line x1="1343.5" y1="231.5" x2="1347.0" y2="231.5"/><line x1="1343.5" y1="219.4" x2="1347.0" y2="219.4"/><line x1="1343.5" y1="208.9" x2="1347.0" y2="208.9"/><line x1="1343.5" y1="199.7" x2="1347.0" y2="199.7"/><line x1="1343.5" y1="137.0" x2="1347.0" y2="137.0"/><line x1="1343.5" y1="105.2" x2="1347.0" y2="105.2"/><line x1="1343.5" y1="82.7" x2="1347.0" y2="82.7"/><line x1="1343.5" y1="65.2" x2="1347.0" y2="65.2"/><line x1="1343.5" y1="50.9" x2="1347.0" y2="50.9"/><line x1="1343.5" y1="38.8" x2="1347.0" y2="38.8"/><line x1="1343.5" y1="28.3" x2="1347.0" y2="28.3"/></g><text x="1354.2" y="198.0" font-size="17.5" text-anchor="start" textLength="20.5" lengthAdjust="spacingAndGlyphs" >10</text><text x="1375.0" y="191.0" font-size="12.2" text-anchor="start" textLength="7.6" lengthAdjust="spacingAndGlyphs" >0</text><text x="1354.2" y="379.0" font-size="17.5" text-anchor="start" textLength="20.5" lengthAdjust="spacingAndGlyphs" >10</text><rect x="1376.3" y="367.6" width="7" height="1.2" fill="#000"/><text x="1385.6" y="372.0" font-size="12.2" text-anchor="start" textLength="5.8" lengthAdjust="spacingAndGlyphs" >1</text><text x="1302.3" y="20.0" font-size="14.5" text-anchor="start" textLength="64.0" lengthAdjust="spacingAndGlyphs" >Flux (sfu)</text><g clip-path="url(#ax2)" fill="none" stroke-width="2.1" stroke-linejoin="miter" stroke-linecap="square"><path d="M67.0,740.9H71.9V740.9H76.8V748.3H81.7V748.3H86.6V748.3H91.5V748.3H96.4V748.3H101.3V748.3H106.2V736.7H111.1V742.0H116.0V736.7H120.9V748.3H125.8V748.3H130.7V738.8H135.6V748.3H140.5V737.2H145.4V740.4H150.3V740.4H155.2V737.2H160.1V738.8H165.0V739.3H169.9V740.4H174.8V743.0H179.7V740.4H184.6V737.2H189.5V737.2H194.4V739.9H199.3V737.2H204.2V736.7H209.1V736.2H214.0V743.7H218.9V743.7H223.8V737.1H228.7V736.5H233.6V736.5H238.5V737.8H243.4V741.0H248.3V736.5H253.2V733.8H258.1V741.7H263.0V736.5H267.9V730.6H272.8V729.9H277.7V729.9H282.6V732.5H287.5V736.5H292.4V729.2H297.3V726.0H302.2V730.6H307.1V730.6H312.0V725.3H316.9V725.3H321.8V721.4H326.7V726.6H331.6V712.8H336.5V716.8H341.4V710.2H346.3V710.2H351.2V700.4H356.1V699.7H361.0V694.5H365.9V691.3H370.8V691.3H375.7V685.9H380.6V681.9H385.5V675.2H390.4V668.4H395.3V651.0H400.2V653.7H405.1V653.7H410.0V638.9H414.9V636.2H419.8V633.5H424.7V633.5H429.6V621.4H434.5V618.7H439.4V603.9H444.3V616.0H449.2V609.3H454.1V615.5H459.0V612.0H463.9V610.6H468.8V609.3H473.7V596.7H478.6V606.6H483.5V610.6H488.4V601.2H493.3V610.6H498.2V610.6H503.1V614.7H508.0V618.7H512.9V625.4H517.8V622.7H522.7V621.4H527.6V621.4H532.5V632.2H537.4V624.1H542.3V626.2H547.2V617.4H552.1V628.1H557.0V620.1H561.9V629.5H566.8V624.1H571.7V629.5H576.6V632.2H581.5V638.9H586.4V642.9H591.3V633.5H596.2V630.8H601.1V636.2H606.0V638.9H610.9V632.7H615.8V634.8H620.7V641.6H625.6V628.9H630.5V639.7H635.4V637.5H640.3V638.9H645.2V630.0H650.1V628.9H655.0V627.3H659.9V630.8H664.8V629.5H669.7V637.3H674.6V637.3H679.5V626.5H684.4V635.9H689.3V638.6H694.2V641.3H699.1V635.4H704.0V629.2H708.9V626.5H713.8V626.5H718.7V625.2H723.6V623.8H728.5V627.8H733.4V617.1H738.3V614.4H743.2V617.1H748.1V622.5H753.0V625.2H757.9V625.2H762.8V628.4H767.7V633.2H772.6V625.2H777.5V631.9H782.4V635.9H787.3V638.6H792.2V634.6H797.1V639.9H802.0V630.5H806.9V638.6H811.8V648.0H816.7V648.0H821.6V650.4H826.5V652.3H831.4V654.4H836.3V658.4H841.2M851.0,651.7H855.9V658.4H860.8V659.8H865.7V662.5H870.6V666.5H875.5V667.8H880.4V666.5H885.3V670.5H890.2V663.8H895.1V673.2H900.0V673.2H904.9V682.6H909.8V685.3H914.7V681.3H919.6V673.2H924.5V684.0H929.4V675.9H934.3V678.6H939.2V682.6H944.1V684.5H949.0V686.7H953.9V692.0H958.8V690.7H963.7V689.4H968.6V692.0H973.5V694.1H978.4V696.6H983.3V692.8H988.2V691.3H993.1V693.2H998.0V704.1H1002.9V695.1H1007.8V695.1H1012.7V697.9H1017.6V698.4H1022.5V702.6H1027.4V701.6H1032.3V705.4H1037.2V702.6H1042.1V700.7H1047.0V696.9H1051.9V700.7H1056.8V700.7H1061.7V708.2H1066.6V707.3H1071.5V709.1H1076.4V702.6H1081.3V704.8H1086.2V706.3H1091.1V701.6H1096.0V701.1H1100.9V702.6H1105.8V705.4H1110.7V709.1H1115.6V703.5H1120.5V708.2H1125.4V709.2H1130.3V712.9H1135.2V710.0H1140.1V708.1H1145.0V710.0H1149.9V720.9H1154.8V708.4H1159.7V705.0H1164.6V700.3H1169.5V705.0H1174.4V710.0H1179.3V717.0H1184.2V711.2H1189.1V710.0H1194.0V710.8H1198.9V712.3H1203.8V714.7H1208.7V716.2H1213.6V711.6H1218.5V709.7H1223.4V717.8H1228.3V712.8H1233.2V715.5H1238.1V716.2H1243.0" stroke="#1f77b4"/><path d="M67.0,711.5H71.9V711.2H76.8V706.3H81.7V709.4H86.6V712.8H91.5V705.2H96.4V713.1H101.3V708.9H106.2V716.8H111.1V708.2H116.0V711.0H120.9V708.9H125.8V706.8H130.7V704.4H135.6V717.3H140.5V709.9H145.4V708.2H150.3V713.4H155.2V706.8H160.1V711.5H165.0V708.2H169.9V714.7H174.8V709.9H179.7V708.6H184.6V707.8H189.5V701.0H194.4V707.1H199.3V710.5H204.2V704.7H209.1V701.0H214.0V703.6H218.9V701.9H223.8V705.0H228.7V700.1H233.6V701.0H238.5V706.3H243.4V704.3H248.3V703.0H253.2V702.3H258.1V698.4H263.0V694.5H267.9V691.8H272.8V698.4H277.7V692.5H282.6V690.1H287.5V692.5H292.4V690.5H297.3V689.9H302.2V680.0H307.1V684.0H312.0V693.8H316.9V688.3H321.8V685.9H326.7V672.2H331.6V681.3H336.5V672.8H341.4V671.5H346.3V669.5H351.2V666.9H356.1V661.7H361.0V651.0H365.9V648.3H370.8V637.5H375.7V646.9H380.6V625.4H385.5V625.4H390.4V609.3H395.3V602.6H400.2V597.2H405.1V590.5H410.0V587.8H414.9V572.5H419.8V574.4H424.7V570.3H429.6V555.5H434.5V556.9H439.4V562.8H444.3V552.8H449.2V551.5H454.1V548.3H459.0V545.6H463.9V549.4H468.8V559.6H473.7V555.5H478.6V548.3H483.5V546.7H488.4V559.0H493.3V558.2H498.2V558.2H503.1V556.9H508.0V556.9H512.9V564.4H517.8V555.5H522.7V560.9H527.6V562.3H532.5V568.2H537.4V563.6H542.3V561.7H547.2V561.7H552.1V574.4H557.0V577.0H561.9V583.8H566.8V581.1H571.7V573.0H576.6V570.9H581.5V573.0H586.4V578.4H591.3V582.4H596.2V570.9H601.1V573.0H606.0V570.9H610.9V575.2H615.8V564.4H620.7V573.0H625.6V555.5H630.5V560.9H635.4V558.2H640.3V556.9H645.2V555.5H650.1V547.5H655.0V544.8H659.9V540.2H664.8V535.1H669.7V532.4H674.6V526.2H679.5V528.4H684.4V527.0H689.3V529.7H694.2V531.1H699.1V537.8H704.0V539.1H708.9V537.8H713.8V520.3H718.7V525.7H723.6V517.6H728.5V513.6H733.4V523.0H738.3V504.2H743.2V503.7H748.1V494.8H753.0V504.7H757.9V514.4H762.8V512.8H767.7V509.0H772.6V513.6H777.5V511.7H782.4V527.8H787.3V527.8H792.2V520.3H797.1V516.3H802.0V506.9H806.9V535.1H811.8V529.7H816.7V529.7H821.6V541.5H826.5V553.6H831.4V553.6H836.3V565.2H841.2M851.0,568.4H855.9V576.5H860.8V575.1H865.7V579.1H870.6V569.7H875.5V583.2H880.4V588.5H885.3V598.5H890.2V593.9H895.1V588.5H900.0V600.6H904.9V612.7H909.8V618.1H914.7V610.1H919.6V611.4H924.5V618.1H929.4V614.1H934.3V618.1H939.2V615.4H944.1V616.8H949.0V622.2H953.9V622.2H958.8V616.8H963.7V619.5H968.6V628.9H973.5V632.2H978.4V623.8H983.3V626.6H988.2V625.6H993.1V628.5H998.0V632.8H1002.9V631.3H1007.8V629.8H1012.7V634.7H1017.6V636.0H1022.5V639.7H1027.4V628.5H1032.3V634.1H1037.2V635.0H1042.1V636.5H1047.0V638.4H1051.9V635.0H1056.8V631.7H1061.7V642.2H1066.6V639.7H1071.5V634.7H1076.4V636.9H1081.3V637.8H1086.2V643.5H1091.1V640.7H1096.0V639.7H1100.9V634.1H1105.8V639.2H1110.7V646.3H1115.6V642.2H1120.5V643.5H1125.4V643.6H1130.3V642.5H1135.2V656.1H1140.1V640.9H1145.0V639.4H1149.9V646.2H1154.8V642.8H1159.7V644.1H1164.6V645.2H1169.5V647.2H1174.4V648.8H1179.3V645.2H1184.2V656.9H1189.1V645.2H1194.0V647.8H1198.9V653.4H1203.8V654.5H1208.7V657.7H1213.6V654.5H1218.5V650.3H1223.4V652.5H1228.3V657.2H1233.2V648.3H1238.1V655.3H1243.0" stroke="#ff7f0e"/><path d="M67.0,724.6H71.9V730.4H76.8V724.1H81.7V729.4H86.6V721.5H91.5V718.3H96.4V714.7H101.3V719.7H106.2V729.4H111.1V723.1H116.0V728.5H120.9V724.3H125.8V731.3H130.7V725.2H135.6V730.9H140.5V727.8H145.4V728.8H150.3V723.9H155.2V724.6H160.1V725.2H165.0V725.9H169.9V732.0H174.8V728.3H179.7V726.2H184.6V725.7H189.5V720.4H194.4V728.8H199.3V730.4H204.2V722.9H209.1V724.6H214.0V724.6H218.9V724.6H223.8V714.1H228.7V723.3H233.6V727.3H238.5V720.3H243.4V727.3H248.3V729.2H253.2V728.6H258.1V728.6H263.0V720.1H267.9V719.4H272.8V726.0H277.7V724.0H282.6V719.4H287.5V724.0H292.4V722.7H297.3V720.3H302.2V719.4H307.1V722.7H312.0V725.3H316.9V720.1H321.8V720.1H326.7V718.7H331.6V706.3H336.5V718.7H341.4V710.9H346.3V711.5H351.2V716.1H356.1V712.8H361.0V708.2H365.9V707.4H370.8V708.8H375.7V708.8H380.6V709.6H385.5V695.3H390.4V691.3H395.3V685.9H400.2V694.0H405.1V681.9H410.0V688.6H414.9V679.2H419.8V679.2H424.7V676.5H429.6V668.4H434.5V677.8H439.4V659.6H444.3V672.5H449.2V676.5H454.1V676.5H459.0V667.1H463.9V677.8H468.8V664.9H473.7V680.5H478.6V669.2H483.5V676.5H488.4V676.5H493.3V677.8H498.2V677.8H503.1V679.2H508.0V685.9H512.9V672.5H517.8V688.6H522.7V681.9H527.6V685.9H532.5V677.3H537.4V681.9H542.3V684.6H547.2V685.9H552.1V685.9H557.0V692.6H561.9V691.3H566.8V688.6H571.7V692.6H576.6V691.3H581.5V694.5H586.4V677.3H591.3V689.9H596.2V688.6H601.1V674.6H606.0V683.8H610.9V680.5H615.8V677.3H620.7V676.5H625.6V675.2H630.5V671.9H635.4V667.1H640.3V667.1H645.2V665.8H650.1V661.7H655.0V656.3H659.9V660.4H664.8V656.1H669.7V652.0H674.6V642.6H679.5V635.9H684.4V629.2H689.3V645.3H694.2V652.0H699.1V656.1H704.0V659.6H708.9V649.4H713.8V644.5H718.7V644.5H723.6V619.8H728.5V618.4H733.4V614.4H738.3V609.6H743.2V611.7H748.1V602.3H753.0V598.3H757.9V595.6H762.8V605.0H767.7V611.7H772.6V614.4H777.5V610.4H782.4V613.1H787.3V619.8H792.2V596.9H797.1V625.2H802.0V630.5H806.9V631.9H811.8V642.6H816.7V642.6H821.6V658.4H826.5V655.8H831.4V655.8H836.3V658.4H841.2M851.0,657.1H855.9V657.6H860.8V659.8H865.7V673.2H870.6V671.9H875.5V666.5H880.4V675.9H885.3V685.3H890.2V678.6H895.1V693.4H900.0V681.3H904.9V684.5H909.8V686.7H914.7V693.4H919.6V689.4H924.5V681.3H929.4V682.6H934.3V702.8H939.2V704.1H944.1V692.0H949.0V704.1H953.9V698.8H958.8V700.6H963.7V700.6H968.6V702.3H973.5V704.4H978.4V700.3H983.3V700.3H988.2V701.1H993.1V703.5H998.0V703.5H1002.9V712.0H1007.8V697.9H1012.7V707.3H1017.6V704.4H1022.5V708.2H1027.4V703.5H1032.3V710.1H1037.2V704.8H1042.1V706.3H1047.0V704.1H1051.9V714.2H1056.8V710.1H1061.7V722.8H1066.6V708.2H1071.5V709.1H1076.4V704.8H1081.3V719.5H1086.2V710.1H1091.1V704.4H1096.0V708.2H1100.9V719.1H1105.8V714.8H1110.7V716.1H1115.6V708.2H1120.5V711.0H1125.4V711.6H1130.3V715.3H1135.2V711.2H1140.1V713.1H1145.0V717.5H1149.9V717.8H1154.8V716.2H1159.7V706.9H1164.6V714.4H1169.5V711.2H1174.4V712.3H1179.3V708.8H1184.2V716.2H1189.1V718.1H1194.0V717.8H1198.9V717.8H1203.8V713.9H1208.7V720.2H1213.6V718.1H1218.5V709.2H1223.4V717.5H1228.3V713.1H1233.2V713.1H1238.1V710.8H1243.0" stroke="#2ca02c"/><path d="M67.0,727.3H71.9V738.3H76.8V733.0H81.7V733.0H86.6V734.6H91.5V737.8H96.4V737.2H101.3V742.5H106.2V737.2H111.1V730.4H116.0V735.1H120.9V729.4H125.8V740.9H130.7V740.9H135.6V742.0H140.5V722.0H145.4V723.6H150.3V729.4H155.2V742.0H160.1V731.5H165.0V730.4H169.9V737.8H174.8V736.7H179.7V727.8H184.6V726.7H189.5V726.7H194.4V723.6H199.3V723.1H204.2V734.6H209.1V739.1H214.0V739.7H218.9V731.9H223.8V720.7H228.7V726.6H233.6V724.0H238.5V736.5H243.4V722.7H248.3V732.5H253.2V727.3H258.1V727.3H263.0V722.7H267.9V727.7H272.8V727.7H277.7V727.3H282.6V724.0H287.5V721.4H292.4V727.9H297.3V724.0H302.2V720.1H307.1V724.0H312.0V726.6H316.9V715.5H321.8V715.9H326.7V729.2H331.6V708.9H336.5V714.1H341.4V715.5H346.3V716.8H351.2V707.6H356.1V707.4H361.0V700.4H365.9V706.1H370.8V709.6H375.7V702.0H380.6V704.7H385.5V698.0H390.4V692.6H395.3V698.0H400.2V699.4H405.1V694.0H410.0V691.3H414.9V682.7H419.8V680.5H424.7V682.7H429.6V687.3H434.5V679.2H439.4V677.3H444.3V677.3H449.2V687.3H454.1V675.2H459.0V694.0H463.9V677.3H468.8V684.6H473.7V683.2H478.6V681.9H483.5V684.6H488.4V681.9H493.3V690.8H498.2V690.8H503.1V691.3H508.0V692.6H512.9V684.6H517.8V685.9H522.7V682.7H527.6V684.6H532.5V684.6H537.4V677.3H542.3V688.6H547.2V682.7H552.1V676.5H557.0V691.3H561.9V687.3H566.8V684.6H571.7V699.4H576.6V694.0H581.5V683.2H586.4V694.0H591.3V681.9H596.2V680.5H601.1V685.9H606.0V683.2H610.9V680.5H615.8V672.5H620.7V663.1H625.6V661.7H630.5V667.1H635.4V659.0H640.3V651.0H645.2V630.8H650.1V637.5H655.0V644.2H659.9V630.8H664.8V633.2H669.7V650.7H674.6V644.0H679.5V638.6H684.4V638.6H689.3V638.6H694.2V645.3H699.1V639.9H704.0V645.3H708.9V622.5H713.8V606.3H718.7V596.9H723.6V587.5H728.5V590.2H733.4V579.5H738.3V584.8H743.2V587.5H748.1V598.3H753.0V592.9H757.9V591.6H762.8V606.3H767.7V613.1H772.6V622.5H777.5V602.3H782.4V617.1H787.3V609.0H792.2V615.8H797.1V623.8H802.0V622.5H806.9V619.8H811.8V629.2H816.7V629.2H821.6V636.9H826.5V649.0H831.4V617.3H836.3V630.2H841.2M846.1,627.5H851.0V612.7H855.9V626.2H860.8V606.0H865.7V641.0H870.6V627.5H875.5V654.4H880.4V642.3H885.3V645.0H890.2V644.2H895.1V651.7H900.0V666.5H904.9V651.7H909.8V654.4H914.7V659.8H919.6V658.4H924.5V652.3H929.4V666.5H934.3V649.0H939.2V671.9H944.1V666.5H949.0V654.4H953.9V659.8H958.8V678.6H963.7V665.2H968.6V674.6H973.5V676.7H978.4V671.6H983.3V662.2H988.2V668.8H993.1V669.7H998.0V656.6H1002.9V665.0H1007.8V674.4H1012.7V673.5H1017.6V667.9H1022.5V672.6H1027.4V662.2H1032.3V672.6H1037.2V667.3H1042.1V670.7H1047.0V663.5H1051.9V681.6H1056.8V666.0H1061.7V666.0H1066.6V657.5H1071.5V661.3H1076.4V662.2H1081.3V668.8H1086.2V671.6H1091.1V675.4H1096.0V662.2H1100.9V667.9H1105.8V674.8H1110.7V690.4H1115.6V672.6H1120.5V675.4H1125.4V663.9H1130.3V682.9H1135.2V674.8H1140.1V673.3H1145.0V672.2H1149.9V669.1H1154.8V671.7H1159.7V679.5H1164.6V675.3H1169.5V663.9H1174.4V675.3H1179.3V667.0H1184.2V675.6H1189.1V664.7H1194.0V669.1H1198.9V665.5H1203.8V672.8H1208.7V663.9H1213.6V667.0H1218.5V671.2H1223.4V672.5H1228.3V668.1H1233.2V662.3H1238.1V673.3H1243.0" stroke="#d62728"/><path d="M67.0,743.0H71.9V748.3H76.8V748.3H81.7V740.4H86.6V738.3H91.5V744.1H96.4V734.6H101.3V740.4H106.2V733.6H111.1V730.9H116.0V742.0H120.9V748.3H125.8V734.1H130.7V739.9H135.6V748.3H140.5V735.1H145.4V739.3H150.3V748.3H155.2V734.6H160.1V738.8H165.0V734.1H169.9V748.3H174.8V735.7H179.7V738.8H184.6V739.3H189.5V733.4H194.4V748.3H199.3V727.3H204.2V735.1H209.1V739.7H214.0V743.7H218.9V720.7H223.8V733.2H228.7V743.7H233.6V730.6H238.5V733.8H243.4V736.5H248.3V733.2H253.2V734.5H258.1V734.5H263.0V743.7H267.9V743.7H272.8V743.7H277.7V732.5H282.6V734.2H287.5V733.8H292.4V743.7H297.3V735.8H302.2V730.6H307.1V731.9H312.0V741.7H316.9V729.2H321.8V727.9H326.7V730.6H331.6V737.8H336.5V733.2H341.4V733.2H346.3V729.9H351.2V732.5H356.1V725.3H361.0V722.0H365.9V720.3H370.8V721.4H375.7V728.4H380.6V719.5H385.5V718.2H390.4V718.2H395.3V712.8H400.2V723.5H405.1V711.5H410.0V708.8H414.9V702.0H419.8V710.1H424.7V714.1H429.6V702.0H434.5V700.7H439.4V698.0H444.3V704.7H449.2V707.4H454.1V699.4H459.0V703.4H463.9V702.0H468.8V699.4H473.7V698.0H478.6V711.5H483.5V699.4H488.4V698.8H493.3V718.2H498.2V718.2H503.1V706.1H508.0V716.8H512.9V700.7H517.8V708.8H522.7V695.3H527.6V683.2H532.5V691.3H537.4V692.6H542.3V700.7H547.2V704.7H552.1V710.1H557.0V707.4H561.9V704.2H566.8V707.4H571.7V703.4H576.6V702.0H581.5V695.3H586.4V684.6H591.3V696.7H596.2V692.6H601.1V690.8H606.0V685.9H610.9V699.4H615.8V680.5H620.7V673.8H625.6V672.5H630.5V661.7H635.4V651.0H640.3V638.9H645.2V638.9H650.1V648.3H655.0V649.6H659.9V659.0H664.8V654.7H669.7V658.8H674.6V660.1H679.5V648.0H684.4V652.0H689.3V639.1H694.2V658.8H699.1V635.9H704.0V627.8H708.9V622.5H713.8V598.3H718.7V595.6H723.6V575.4H728.5V567.4H733.4V543.2H738.3V582.2H743.2V587.5H748.1V586.2H753.0V583.5H757.9V580.8H762.8V598.3H767.7V599.6H772.6V619.8H777.5V615.8H782.4V609.0H787.3V602.3H792.2V626.5H797.1V626.5H802.0V635.9H806.9V649.4H811.8V639.9H816.7V617.1H821.6V646.7H826.5V644.2H831.4V634.2H836.3V635.6H841.2M846.1,635.6H851.0V638.3H855.9V636.1H860.8V643.7H865.7V639.6H870.6V627.5H875.5V654.4H880.4V642.3H885.3V648.5H890.2V652.3H895.1V655.8H900.0V650.4H904.9V657.1H909.8V661.1H914.7V658.4H919.6V658.4H924.5V663.8H929.4V674.6H934.3V674.6H939.2V666.5H944.1V669.2H949.0V669.2H953.9V684.0H958.8V669.2H963.7V675.9H968.6V675.9H973.5V670.7H978.4V668.4H983.3V662.2H988.2V656.6H993.1V668.8H998.0V672.2H1002.9V656.0H1007.8V664.1H1012.7V687.2H1017.6V674.4H1022.5V673.5H1027.4V666.9H1032.3V662.2H1037.2V667.3H1042.1V656.6H1047.0V655.7H1051.9V654.7H1056.8V661.3H1061.7V666.5H1066.6V657.5H1071.5V666.5H1076.4V655.7H1081.3V676.3H1086.2V673.5H1091.1V669.7H1096.0V679.1H1100.9V684.7H1105.8V655.7H1110.7V662.2H1115.6V679.7H1120.5V677.2H1125.4V671.6H1130.3V688.1H1135.2V674.4H1140.1V692.0H1145.0V678.0H1149.9V670.2H1154.8V673.3H1159.7V670.2H1164.6V677.2H1169.5V675.3H1174.4V681.9H1179.3V667.0H1184.2V678.8H1189.1V669.4H1194.0V663.1H1198.9V661.6H1203.8V682.7H1208.7V672.5H1213.6V679.5H1218.5V670.2H1223.4V670.9H1228.3V681.1H1233.2V671.7H1238.1V684.2H1243.0" stroke="#9467bd"/></g><rect x="67.5" y="400.5" width="1176" height="345" fill="none" stroke="#000" stroke-width="1.1"/><text x="79.6" y="425.8" font-size="25" text-anchor="start" textLength="608.5" lengthAdjust="spacingAndGlyphs" >These are NOT the actual flux. Use with caution!</text><rect x="1078.5" y="408.5" width="157" height="136.5" rx="4" fill="#fff" fill-opacity="0.8" stroke="#cccccc" stroke-width="1.1"/><line x1="1083" y1="422.6" x2="1119" y2="422.6" stroke="#1f77b4" stroke-width="2.1"/><text x="1131.0" y="428.7" font-size="17.5" text-anchor="start" textLength="98.5" lengthAdjust="spacingAndGlyphs" >4.3296 GHz</text><line x1="1083" y1="448.9" x2="1119" y2="448.9" stroke="#ff7f0e" stroke-width="2.1"/><text x="1131.0" y="455.0" font-size="17.5" text-anchor="start" textLength="98.5" lengthAdjust="spacingAndGlyphs" >5.9546 GHz</text><line x1="1083" y1="475.1" x2="1119" y2="475.1" stroke="#2ca02c" stroke-width="2.1"/><text x="1131.0" y="481.2" font-size="17.5" text-anchor="start" textLength="98.5" lengthAdjust="spacingAndGlyphs" >7.9859 GHz</text><line x1="1083" y1="501.4" x2="1119" y2="501.4" stroke="#d62728" stroke-width="2.1"/><text x="1131.0" y="507.5" font-size="17.5" text-anchor="start" textLength="98.5" lengthAdjust="spacingAndGlyphs" >13.104 GHz</text><line x1="1083" y1="527.6" x2="1119" y2="527.6" stroke="#9467bd" stroke-width="2.1"/><text x="1131.0" y="533.7" font-size="17.5" text-anchor="start" textLength="98.5" lengthAdjust="spacingAndGlyphs" >16.029 GHz</text></svg>
</div>
<script>
(function(){
var V="44015446075a470d6047136548186a481d6f482374482878472d7b46327e453781443b844240864045883e49893d4e8a3a538b38588c365c8d34608d32648e31688e2f6c8e2d708e2c738e2a778e297b8e277f8e26828e24868e238a8d218e8d20928c1f968b1f9a8a1f9e891fa18721a58523a98326ad812ab07f2fb47c35b7793bbb7542be714ac16d52c5695ac86465cb5e6ece5877d15381d34d8bd64695d840a0da39aadc32b5de2bc0df25cae11fd5e21adfe318eae51af4e61efde725";var A="ABCDEFGHIJKLMNOPQRSTUVWXYZabcdefghijklmnopqrstuvwxyz0123456789+/";
var R=[[0, 1], [1, 1], [2, 1], [3, 1], [4, 1], [5, 1], [6, 1], [7, 1], [8, 1], [9, 1], [10, 1], [11, 1], [12, 1], [13, 1], [14, 1], [15, 1], [16, 1], [17, 1], [18, 1], [19, 1], [20, 1], [21, 1], [22, 1], [23, 1], [24, 1], [25, 1], [26, 1], [27, 1], [28, 1], [29, 1], [30, 1], [31, 1], [32, 1], [33, 1], [34, 1], [35, 1], [36, 1], [37, 1], [38, 1], [39, 1], [40, 1], [41, 1], [42, 1], [43, 1], [44, 1], [45, 1], [46, 1], [47, 1], [48, 1], [49, 1], [50, 1], [51, 1], [52, 1], [53, 1], [54, 1], [55, 1], [56, 1], [57, 1], [58, 1], [59, 1], [60, 1], [61, 1], [62, 1], [63, 1], [64, 1], [65, 1], [66, 1], [67, 1], [68, 1], [69, 1], [70, 1], [71, 1], [72, 1], [73, 1], [74, 1], [75, 1], [76, 1], [77, 1], [78, 1], [79, 1], [80, 1], [81, 1], [82, 1], [83, 1], [84, 1], [85, 1], [86, 1], [87, 1], [88, 1], [89, 1], [90, 1], [91, 1], [92, 1], [93, 1], [94, 1], [95, 1], [96, 1], [97, 1], [98, 1], [99, 1], [100, 1], [101, 1], [102, 1], [103, 1], [104, 1], [105, 1], [106, 1], [107, 1], [108, 1], [109, 1], [110, 1], [111, 1], [112, 1], [113, 1], [114, 1], [115, 1], [116, 1], [117, 1], [118, 1], [119, 1], [120, 1], [121, 1], [122, 1], [123, 1], [124, 1], [125, 1], [126, 1], [127, 1], [128, 1], [129, 1], [130, 1], [131, 1], [132, 1], [133, 1], [134, 1], [135, 1], [136, 1], [137, 1], [138, 1], [139, 1], [140, 1], [141, 1], [142, 1], [143, 1], [144, 1], [145, 1], [146, 1], [147, 1], [148, 1], [149, 1], [150, 1], [151, 1], [152, 1], [153, 1], [154, 1], [155, 1], [156, 1], [157, 1], [158, 1], [159, 1], [160, 1], [161, 1], [162, 1], [163, 1], [164, 1], [165, 1], [166, 1], [167, 1], [168, 1], [169, 1], [170, 1], [171, 1], [172, 1], [173, 1], [174, 1], [175, 1], [176, 1], [177, 1], [178, 1], [179, 1], [180, 1], [181, 1], [182, 1], [183, 1], [184, 1], [185, 1], [186, 1], [187, 1], [188, 1], [189, 1], [190, 1], [191, 1], [192, 1], [193, 1], [194, 1], [195, 1], [196, 1], [197, 1], [198, 1], [199, 1], [200, 1], [201, 1], [202, 1], [203, 1], [204, 1], [205, 1], [206, 1], [207, 1], [208, 1], [209, 1], [210, 1], [211, 1], [212, 1], [213, 1], [214, 1], [215, 1], [216, 1], [217, 1], [218, 1], [219, 1], [220, 1], [221, 1], [222, 1], [223, 1], [224, 1], [225, 1], [226, 1], [227, 1], [228, 1], [229, 1], [230, 1], [231, 1], [232, 1], [233, 1], [234, 1], [235, 1], [236, 1], [237, 1], [238, 1], [239, 1], [240, 1], [241, 1], [242, 1], [243, 1], [244, 1], [245, 1], [246, 1], [247, 1], [248, 1], [249, 1], [250, 1], [251, 1], [252, 1], [253, 1], [254, 1], [255, 1], [256, 1], [257, 1], [258, 1], [259, 1], [260, 1], [261, 1], [262, 1], [263, 1], [264, 1], [265, 1], [266, 1], [267, 1], [268, 1], [269, 1], [270, 1], [271, 1], [272, 1], [273, 1], [274, 1], [275, 1], [276, 23], [324, 1], [325, 1], [326, 1], [327, 1], [328, 1], [329, 1], [330, 1], [331, 1], [332, 1], [333, 1], [334, 1], [335, 1], [336, 1], [337, 1], [338, 1], [339, 1], [340, 1], [341, 1], [342, 1], [343, 1]];var C=[0, 2, 7, 12, 17, 22, 27, 32, 37, 42, 47, 51, 56, 61, 66, 71, 76, 81, 86, 91, 96, 100, 105, 110, 115, 120, 125, 130, 135, 140, 145, 149, 154, 159, 164, 169, 174, 179, 184, 189, 194, 198, 203, 208, 213, 218, 223, 228, 233, 238, 243, 247, 252, 257, 262, 267, 272, 277, 282, 287, 292, 296, 301, 306, 311, 316, 321, 326, 331, 336, 341, 345, 350, 355, 360, 365, 370, 375, 380, 385, 390, 394, 399, 404, 409, 414, 419, 424, 429, 434, 439, 443, 448, 453, 458, 463, 468, 473, 478, 483, 488, 492, 497, 502, 507, 512, 517, 522, 527, 532, 537, 541, 546, 551, 556, 561, 566, 571, 576, 581, 586, 590, 595, 600, 605, 610, 615, 620, 625, 630, 635, 639, 644, 649, 654, 659, 664, 669, 674, 679, 684, 688, 693, 698, 703, 708, 713, 718, 723, 728, 733, 737, 742, 747, 752, 757, 762, 767, 772, 777, 782, 786, 791, 796, 801, 806, 811, 816, 821, 826, 831, 835, 840, 845, 850, 855, 860, 865, 870, 875, 880, 884, 889, 894, 899, 904, 909, 914, 919, 924, 929, 933, 938, 943, 948, 953, 958, 963, 968, 973, 978, 982, 987, 992, 997, 1002, 1007, 1012, 1017, 1022, 1027, 1031, 1036, 1041, 1046, 1051, 1056, 1061, 1066, 1071, 1076, 1080, 1085, 1090, 1095, 1100, 1105, 1110, 1115, 1120, 1125, 1129, 1134, 1139, 1144, 1149, 1154, 1159, 1164, 1169, 1174, 1176];
var D="PAAJAAAAAAAAADTAAAAHKNEWYAOAAAAAXAAAAGAIAAARMPAAAAAEGLAAAANAALSPYQRAAAALAPBaZZcATZRVPARbYVEAAAbeVadALaaUTTbAAXcffdacTlgmklcVlASjlZdhjirpmnrqqqqttukokejZXljifaeahfJcghaanjiqnjckcrlecdjekYbaeREAjlAWYKbfglgmcfdUmjcfUebdMZkcLYhiYbjaehdkAicafmfbSAAAAAAaEFFAXRIeSAAGGFdAXONUAVAAAKRMAEFUZIUVZVAAZASASVHUVXNPVAAQKeKAHOPZegSAdaNbAQAOZZIHUeVTYZAWTWZbVLTiedWdXEYkkkagYmeLjjmlgmRjeljolrqrusyyytwvrtspqrqsojmstiopnnmkemimosnnorogbkkmnkiqssmibgoTTpNLmoidhlojpommeoqnccmnkmjogpjofTdkbSiglnhijopphkAZQSHehALSAVAHLAAAAAHVAAAAAAQAAAQSOBACUOAXPPVXYfAOAXASYEQYYiWHMTQAAAYZDVYQUcALcAVANbaVQKeQVSWdHAkdWhdbiJTefXfaJJhVoliYkiccIgnjfmlmjfpmnoqtwwvuvsvsqqrqpqjqqoKKhnhblhgQbkjmLJjgXQifggmqokohiaimdgillgkjgdemboigjkemokkhkjndfcmilVXdcUejgjhekcfbkkcAIXOTabRcAAUKKOVFAFGQKOAAAAAABYORVMAABIIAFHAaaJbSZLSOMMbWYVdFHLSgASBdWFAAAGHAaSAAAPdSebIcMCRBgPAdfilbaRYZTkZAVhalTjZfmahgbemrolnlofnpssrrxxyzxywuswvummsovuqmqrnpcjkfbUmmoklkhejspaooomMbijmqqllhjkLjkmnMNaelihjijkhhhjmnkjiposlnagionokgndUkkfhOABGBLVVABAKRJAAZeAAQQPUAAMWAAQYYVXDARVAcAFUAHbeYQWRCfRAZRIWfQSALiAACQOGAAJCXAfSAAIKbaanpabFHALcWYcSgZaWdZcdeSOmjbhfbigekdUfbbYjignhsrvnkvxxywwvsrosvtllmonlfnqpgiglMoiYkooomldlMNnklkkgbiiillorlhfqooMMprlgglpanhoolokjlmkLLohmjlikihjhghmmkhecemAOcYONVSIUUGKQaAHOQMfbQAAHAAAGJMhdUAAPBYPKWTIWhhAVXSVAFAAAWZADJAQADNRNHQAcbRDZhcYZTZbWfiZdAAVgPcLLAPbHJZKFLlJdkdgjhhfbgcfchcVcWYkkZrptrwzzyzzywsuputuroqrnopqrsopcomonnnnpphmlorqrqjnhihGGoklhndgdjqHGnrGGmnGlprkGpnjGGGolhfdpolGFkonfgFmnGGmkkEFDPYQLAAAAOJXUMUAFHAAYUPALAAAXXDUbWFRScfbAKUPAEdTQRUGAAbAAGPVAFSTOAAUUAAZAccRAADMMUXVdVXPLaRWQIHeYVZUaXkcTGdfVVUNYWFWbReUjYenqoWfjnevwuwwuvzyvtvssuutqmkmilmpmluvojpZcgklmokkmpkMNrsMMnpoodjerndlkcpqjjjrklmmmaomfmjrpcikioleflnmnlcimZbdmlkmllhFIMAAbUSBHAUQLAEAJBTIGaPAAIGKAPdOWKUAPBTGOAAVIRWbAWbgPYAQWBYUIAAaDARAAYUAAAeYATgaegZSacYJJJQXbVadgkggVUfecHHNYhkkggmkagRgipdjlsrmponpwvwxzxw10yuutwwxvurppnororjppfprjegmromjsrplhslokgsjsnioiorlqqmnonrsvhoolmkqpUcklofmknqimlmiqdhcfXmhhookfmephnTACVAAAWAAabALJAANUHAAbgSPZdWRQAAOOAAAANVXHAPZSPQVPAHKAPIJABAKZLARALeXZAMYIbiTKHcNXgcJMPOQScbZZdlIeiiedfdeVYfVdggbcijjhkbmejjqmqqqtofwuwyvxwzyywvvwutsorpmmmphmoijmmlkuqokjtorimqjmjfqFFilvkHHrehifhmGFjdmGFFFnkhgrqGiiklpmnFFfMEYLFFsdckqjiGfojZJARAAZAcgOZWQZRGVTeVAASbSVeiAAAAAJWAJAABkOAOAAZAgTAeiAYANcXUNAQAASJUcXcCAZAbkfcTWfgicYeAUSfjeVgifhhelefdWafZZHAflPjelgjkfieMhpppsqvklsz01y1zywwzvutrppmsuqnprmrtnprpsqsprqoqmpnpppnlnmijqmuorNtoqdhgprqsLLlkkfnfloNLbKLpolkiejejkigmmrkmpqabnhlifSAQAARAAAAKAAbIScXaJAAAAAOVYAPAAAFIAANTSfOWZNReAVTAYWAeKaigcAAYAWWXVUQfAZVVigYjifddadjfUcabdUMTHdhNUhjaeeYdYbjZRhgkcjnsomkjknrqqqquusry112312zyzwwvtqqsqrslssrmlnpvqtprssmpmgqsqssooiokprqtsqrrligonnqnsmojlkgmknnimaippnogjdmonnmhgfknmogodlfmjjgZeQAPZbPAJJLZZQTLCAAFAAAOMAYOJKAkeAVPAADHAAAVAAAHHIAAIALAAYAbbGZMVaYChNQOPVUYlecAAgXaWWcIBNANYkejfZgfKgibOdeigefalZffklmmopnqosmsupvvvw0z204zz00wwsrvwpqvrtqtvqruuqootqwrrrnqpoqtsqspolgpopuoonioqodfcqqpqqqpessknppmolinigkqppqnnifjnirlkkqplnlQZLHJSVZUAAAOYYOQMHXPAQZHADVYOcAAAAAAAUcPAAAAAAAHHSYIXQcWQJBAGCBCGQUARLUBbaWZVYIAcaiXMaWcXQAXXXghejgefFbafGKZibUWUlYghKHejnmoqmjoqppxqquxy00yyyxyuupiopgutgnmmntoqpqqossqpornpknprrmpipkkmiosmmqjqmlfjilknonnphspgmkrppkilkIkqUdoilmogtfmlfhkkihaAdXUXXdIFAAAKcAAXAFJAAAMRRRSQRSAIHHQJUdWaPaAESAbYAVSJHhkGIZSYYQXgcXZAXVWZabiibZhhhTdVdbAVgPikkXaeWefnihiSYnkjljlgblllnojiorpsnotqusuwvxzz2424312zzyuomlpsmftsqpruprtsssussstrqlorrrlqlponklottrsnnoopsqrotskqrkqnnjprotlknmlknldonppmjrhnomaigklfIWAAWXXGAAAAIcNWQINAPIACSAAYEAASHAXeQNZVAAWAZSRNAJVATPccbaVZXYFCFMbcVUeaITRkbigmdbUHgGGMAXMejhAVdfgbngjhlPhkikoojbYaomgimorpnlrwrutvvwyx0143510yzzvwzwrunoippgolskptrtsvsropkqopsrneqqrjjmlnkojmnonppqrpmqkkmklpgidhksuqlmffsnomqMLmjdjeLMmeebknmPYAFBAAPAAKVLgHRUNTTQfVaXAAXOJAAAFAiWQbOAADAAAEAACQAHDXaXXLRVZbIUZYaZfjdAALjkgYhEiBEghbieUYfhiOJXihhqmeLicdfbZkjlHVVliiinmnmkvotquvvyx002333212xzyuwwvqrptmqqoqmoprqrqostllutwuropmhnsrmnkqnnsjmmqnnloqpkohupakrglmkhpsmleifmkoptppnooqnlflqidimYAPDYhAASAMHHHWTLNAAACaOLZAWORcZLOdAZAVAYAbacAAAbcXMVVJZZVcAAASaNZWbSPkcaTSGahgdjjkaCXefjiAoqhjfZdfldkjejkkjhmdmgleZanknmlpqlhphootvxyy0xz232133zw0zzqvtvopqtostlpuvsttnsmmrwsuupmrqmlrprqrtkutpnoqlnlsrqhhmsoilkqrrnilmhnLoifkllnmlorkplnhnqpLLifaXUhfMYVQSHAAAAAPAUAAaTZAALAAeSFVAATARAICTSdAANYZQSaZAIAUPRFLVfaHABAWhcgeWaaZeedcjhifhhfhAchYVbmkamgjRjdkkimimmknjikokmeioopnnnprvvyzzzy23324310wvyytpnrspnnrrrmsswvuursuusroutumrrhqpqmltvnsormiqnqopkmjnptqhkrrqooiklqqnmgglopqsrunkmloMMkmnjmnVFQUYAIQZFegAAAAPAAAHSXcAZaLVRCMSTAKJVEEQgcYAFIeaecMMWbUcAAAVOXcVbWVckkgcFHeXfggTZZilmhhidhhijbafRkLbPcgllmfTnpnihjhmnpiomqrrqonwuzyzyy135423zz1yvwxtsqqrpqnrpqrtqntusruxuqssuuurrsqvsqmoooruspomrqrroonnsrtrqprliopnnpsriiiYZbpokhinmoopqnpnripdAAAAAANPYSYdAAAACLAAAAFTagfDTAPXDBJYbeIGPZccbUUcXWFMReYdUeAAgjPFPCWbVkmRRdgigaPfbgemiigChlgfjjjfjKjiiejnickjjchhmiLinlgjmqsrrqpsvsuywux111531z12zuxxxxxwvtstnrqrrrrpwsostvquqvqrsrrwsrompftutsqrqqqrptsqnpsstuumhojqktkttnmnegkrnqpjnsnmkonjioljZAAAQTAAAAAAAVAVEXaSYAAHGASIDJBGTQAWYcOHALAZPWadWWZOVfWMAEEAAASWAAAJVZajYQZfbhfheLKfhfbFAAemhiijknJhbYpJnifmijkfhibafglmkpoorrottruvvuswz0z311zxxwtvutqwvuttvgkopopmotlsrsvprutpnqslstssspjtpsmlrpmotlsqpqqqstspngkchkqponollUflofmrlnokjinkilmrmqGPAPWFYAAAACKACAWTXTNAaJAQOVbQOAXTJaVPVSWabLKUEISabXXVTWePAcDGTAQAAgXcjfJLjhUhiknjfRdaaXfehfgkmibjhYglelllmmbfljimifjnhoqrmlrsuwtxwww03032323101xxxqssvxwuuvrppmjrlqtqsupsnsttsrrrtwqptqstsmNMoqqmutpottskfmpnsronnnturlhommjjimnoqonklqpqptsqrqrHWOYPfbAAMXdUVCXVUSAOAAMNDAOJAJAFQbdADUTUYReMUMUWPWWTLRabiScbiSCRdcfiiYVmoZePhcbilhZehiVjifgZglqliibiegookjljAliRjjcjfeidjnjmrospwtuwy1234342001yyxswuqxwwrroqqpkxmptxpttppussspspvvqtsoommovqppsottrlnusnnprkolkZonqmrqlJLpmKlmqoomqlihjmrsqonomJZdQfWAAAAAJRBDRhcAUWPARAESWWaaAPAUaAAWWXAAXXdRKUQMKYNVWTAAAFUAAkcdXeiKHjlZJJdWfjmmXjjeAWVoakgkpnnjffZjnmmnhnhpkjkkhlfiomoqqqoprruywxuw0401531yyxyuxvvoptsMnpprnoyutvxuqsqnttpqntqsuornplglqtqtqpptssjnrtpomlmopohtnomrqnnjprronnnmnmjcimlosqnknpLXgdfAHANAAMCYbZeSOSOAAIAAaeKAAAPaebaVgAYCVMddAegYaARAXXKRAOSeIBiUaZcddUleedaQQbjkmcigeVbloklljkhmkgicfegnobmegkjlhYkhnkljnjmjsqtxyxvsv01x110xvxwrstptsqnlpjpopoovtukouutusrolvoqnnqoplqqgkjooqqjglmmiltporrjmhoqljijhkprqljpqhinqrqnnkfnggkpnmgnWCdeSABAAAAPMcgfAQWPSAZaAdRXdabRbZdbQgRULRRWgfZfcekheQbdYGGcddaAeAkmlklMnahbbZjagijddkjmnmjoonjeokiglmqmMqqoodjnjqqhoopjmlmooorutxy00z131y100y021xzyvutssrspqquurusNNrustttomprtqrrrsqtttqrssspqmqrjdlmsknrrophrpohrmopjnlnqprrspqoqoMopqoinqnnppZGHAAELAPRJATWVAAAKAZWbbAecYedeQYAOYALIFLbZgYIiKgabaVjhkZAXJdjlXkefcdmiTccliacnnkEXaUjhitrqkjnffmkccpjlkmillpjnlmrnkinlpponuuvpphuu0zy023202zwy0yuzzxwutvusupuutursttsrstrvtsuqrssprsovvvvuwrtqstuqidqunnpprrtfomipqhrqejlospononlkmmnpmlpppulpnnVHACcfaQASXLSWAATAWAWQaYNAiafWZCAAYZTNWZXFZdVLaNXRIFPidiXXDAghghYeTVfalikWigLiYmmJJWRjljsrqlphaiegdormekmimligmlkolmmljlmoornrqstuuuvxz201012zy2ywxuurqupmusqqpsrtrrsusrllonnqhrttnorrrqxwwrpqoputjqprtsroqrsrhjidnijnpnjknqqnlkhegjhmojijnrsmokoAaAVVeYZFAJgfVMANXMceadZXSacicgbAAcdcaZbGedQAAAAZXWXVdMYWdUDJfKJHZKJkggiafqmekaneWheOXlpkonppmiMppmpumklocipijoqlrtnpqqpnstsrssxwwxy001543342zz21x1xvuqtvsurmttvutsrstuvvuuoorpwxvumopqqvrxttuuuttprpqvsqtnoroqlpltsnjpqmoosuppplolpnioqqmurtonoqAHAbOaALTVfAjGfVYXIhgSMTOQJRVcCeVffccZbdVSXhPVVWIFAAgaSXTVifaNITZZLjgelgkiXcakZdigXZbhnricafijkmijjoojlrmhijiklmgjlLNsmnoorsstrvwzzx0yy4323220011wywvuuwwnnrnqptrtvutuquvvusqqqvxnuorsrppopqtvprspqssoklvwjmrmrormqsnigpmoospjnqqkjoqoqrorvdpfheqAARdYbGKcAAAZXieAAAKgdTTaJGYUYAeSVAbXTXibDVMANAIEHOAAAWbUShgUUcbIHekbGJmdTNAckiekjaAOZfjZZAAAhTXTdmecffqnqpmknpnhRhbmpmmmmkmrqqurvtnyzz01z1z2z010xwvupnoqqprotvkmqsrpoqqstsrjhqssjprtpsnmllqrnqrrrolooequtklloqnMMkkhgefjnjmgbkolhookpplhkmiqnggoaVHdPAUPWAAAAehhRAQAjkAAeAARLgXaWUTZdSQVHMAYVQhaAVWVLAZcaXlkdkhankihaPbpkZffdjqmlneLfgfmijfpikkfkainnlnrqsntponnkepokoosvututuwxxxwx00322325433220100wsxvuwtvvvtruuutjsvwwutpqqpwmtxtopstutxxtwxwqossrrtswtuursorrromnhglrmoqomqlosqmtqrrqrprnktoVAAfGWYTIcaQAGScYeAARXPaXAjjfgheSASAACLAAAEXThjAgcWXedWaALceYhXQhYfcThdljAgdgejgILeZhkgbdiklimrikimYnpollphnpokhmlpljmnrtuuntsvwwwuzxy2xwy1200zx0zzvxsvytpptnpsqpqwsqikpqvtqrooqsorsqniqrqumrrtvstrtonnnmOMoopmiokpooqmfjprnqtqNkmoqnoqrlhspommllGAggaWAAAAdbVABUEdAAAUWebCIGeUYZWVfAAAfJAAAbAcAUbPEaiPAJXXYhGOGRZALcUVbZfZaijdfkbhZcXnbabkjimmqXbjdchikchdllfkiplhlfijnlkmmjqqstprsxtt1vwy20zzzwywxtyruvrsmpllsqmnrqlmroopjgLLnoustpssnrnkspmskropnOlldfmplmglnikipofhhipooZnlinhmgmkfonlinhjfgdkVDaARaVAAAQaeWUaRUABNTXieUISOOQdbOjdceVfTTUdLGMjGJNAVdbQjcQZIAUaeZQkmeiheloKijdngelkmljnmjinglnpnrkhgdspsmnqimkkihllqntopsutvwvvwwwzyy113532433010001wywxwvvtovuuuwuqqnstwrsrppqtvvt0uvwturxxwqusrtwuvlnnpqtttrlkvvuqrlkwutqrqnrmmppkoskkjsmppnqqANQQDWbZUWAAQSTgUaRPQTfdhQWUAQAXOHUVecKcbeZdikAOHaONdgfANHcYeAQATdWNdikgllnMiieilgkcpmnfoophfjqljlnnobmrrjknmnjjhkklpmoopqtttqtvvvwyxyz13432200yyxxvvsswtottpqoprruvuqnputpvqoqstrsvtpttttmtqpttslwvssroolrptrphnsttpmpsvossqrqsonppoorllnpklpmrmZiefUMdfXSREMZffchYXTfelgSgdAeFZAAXVWZDaeJHfYbFAAfaYcHbKAIlfYIddiJKhlekgnijdkjpomnomjmjejoqmiLqikpimihppqsqrpiqsplYiZblorvsrququy0111zy455535210yzzywzyuuuustuuuqtsxxvwrtutvquwwxvwxvvsuvsNNssurspvvttvtstwursnmqrqqmrsssotoqsktssqumvukvqpoqnnjocdPbGATWTQdhZQIMQIeKghVhMSZKHbVYXTnVRKYeefAjabVYYgYYEXefYDnlHTaLKeiglflZigjklgnrfklmdjoqjopjooMLbiVmkloniMMkiilplngiklnrpvuuptqvwxzy202122435321y10zvxzvtpnnvvtsusptvtsoptrqpsrtvvursqsqupsrtwvllssvsqqsrsunoqprrmmpeggrpoolljnnqstnnttdnqonppNLoSRAZRTOigXYgbcRIAKhcfecAAALASNXAAblGaXZekbNjceglkWARXaehegjddfaighfceimdejhoolnjdilhjhoojnpjkjhlhkAWefqqinlSonjllnllolksrsupmnouvxyz0y2y0020321yy0xwuwwtporqoqplrpssqporqrmppqqrtrsolqrlvoutqwspnuorqnponrsqstqoonpphhjmpqkpgpkjoMNjnqoLmnmnpopMlWaaZSbbjbOfkiZagYaXWbdRANVXATYWMQGKNfEghcaRdbfkkmgSLgTHmkojhheikicgagliEJedkhkhjbnjdkhkccWnjmkkionfkmmonloplmdrgZlkhiepsunsssrswvx00yw0z0110322x0z0xttyxwtvtqrspvuuusrstsustrpvssuttrtuxyvvyrussrturwvvmmomgssqlqpttqjjlsuoqipkstsrospotqqqpprrokAOXcTYRTUKdebchgYRMBYeZWQXHFRUKJJdRAfFefUaUcNeiUdkNSeLZhadYYbJhhjZhdYeTfdJjhhkhjgjibejiigilhlmhjelgfnopjjjolkiqKJglkokpuskppprrttyyz1y0zz0000zyv1yywtttvyupqrosoutstutnquuvmnvvrtvqupsrvsrvqlqqvsuwtusmdolihrrromqtuoikkotrmZiouontnqndjbtqqjnqnnMAAdZJIGAAAccTIANLYTAATedXZVPYHERjkfaWbMcWfgSaWViZSjVAffadXRbcgKGdefAngeeiIopojgaRSdhcfjklkmknpfighUionnXmsolikhkmnplfkpopqslqrsuxyy0xx32z001xxw0ywyyvswwvmvsrnturqsumorprroosuttsqnorrljrussonpmssuumqkoqmntspkjutssorrlnmnojppleonqiTWJcqospqsqAAAaVXbTAAAZfOAAAMbBONacVVVEAVAbTajiAAAgeTZaPZdNVTdljhlihdKIhVYSQURkRLWaifNjojLajihlmeljiLMnfjjemoklnfbpWJMoljjkmommndmmdjrrprppryuwxruxxw111xwvtttuqsqwttprqrkqqnqslkpnoslnrrrtuinnttsYUfnvormnkimouksqosnmmdkkntsqqnrsSbarnKLpilidehlffXmmlqoqqAAQVeTAAAAWSbYAALVKAgbUTYXVAAQWgAbefDNATgZcFAEIVSVdfejifaWhhkAKAPbYlhlcTiADlkgXbhdcjqehjgjjkkidimlKLqfgsXcnqpmhkgebppjnonnnlnorwsyvvyrvvtzy10zxxvvtvqrqkkdutwsorpqqqnpoprtrovqrqmunqqnpoqjsursntspqoqNNppmonligporrqomsnXlmtppnpbrponlnnkkZlmqpnrfTdPdGABAINiTXNAOeAAdAAAWKOcfWXgAIlYUaWEPAKhAUbZhfgadYZWAchdeZgababljdZbWWQlkghhfmlkickohdmjmnlnijhmopirllnnoppnnnJKLlLsrvuvppquvrttvvxytxxyyyy0vwwtqrnksopuutphpnroroqrsrnpvopoqunusqrmomkmrmruuqpmmuqrprqoorprdcommknhjinnplqnnjktulkjjnghqqonpHQWaVAAOMNJbAAAaWcUUaANNUSTaZAAbAJdSSZMQYYFdfYaacdVPVabJRiheERYbUYbiceYbUfgkkgeekijlikjlhlkkkpmmginmjpklphecXmnmollciqpdetqrponvohmvxxwy000ywwuxrqruunsptttunrposrtqussrsqqromurnprsrqqmogponqsrsnpqkmltlosstmnmfWkpqjppqlmimqNNekYoppkklnpqsnnmoQQGcRYQXaNAAAUbeYYaeUWSGOZZXccRZTOEAXedihJLadSbcaYPYbdXYTZKJhVWcakbgWgTadbWVidmjkgPhhioiiYkhhnVmlggpiolmpjhqrgopZaeehnrljnlmqjovrsptxw0yyzyzytpxtrnuunqrrpmrhmnvussupspmnotunirnrttutkmoqnsorqrkkmmqpltsenqmsonhoahsrompmloklnnoenikmsohkljknmljhWZeigmVZUXPEAIfdaAcVUMPYKXUYbdXaDIdRTccijgfheeNfgZaliGHdWehdgYhmhmiconldcXTYklpnmlgikiolojngWpbrporqgnnorsrmxuvnnnmrpmvukmusoquvwz0xyw0112122z0122zzzsvwuuprorrutstvvtnsrtvuuptwsxwuvxruttustrtqpmovrsuwousptoustmorillqpsqqnilrnnnrXfqnnmppssknoVTHVikAMccCYUAbZSDHZbbVFUAAOWATZVWbWTZbgiUdULCAfcZehdZXmZYWfZihljmiglWrUdgijkgPiLLjjlkfkjnpgAdFLKcelfkjlnogimnkerpkropoqfnqkcouuttvtqxuyxzytwxvuyvvpspsrlpqpjnoqosrpprklorsspipuqokpuqkonhooomriqkntlnipnromrksqlopokjjpkrrolkpqljfiGAlihfolnmghnaAgbjJANibVaXSYTWUMUblgdXXYOEYYaJJfXFVbXbbONMZXfXfcZcabdhidiefklmmjUcYlWkLNknkilpklkiijojmqiekcbelclllijsnlmioolptnnorqqouuugnrxwxuzz0z0012000xxzzyxvvyysvvtsorttwvqwuoswrtsyuwqpstvuussqqrnurtqvvssrurrnprssnsqmjqpmlponppomlutrookfkoqgfkhrrjlqRImkMAASbZSRSUQAZYbeakhFFknYUgPlmdHHbXhVLXTbbjhUXckidggSeeZhcVehpLKgYWnkqekglkmKLmfhnljjihmplmokjnjkgjminnnrntiqmrfjmilltuvuurrv0yyx2022043102zxy0yzwyvwrzywonquvwwqstsvwrustxysrussottuxwrotutrsvtvwxtvNNurrrxwullpokmquMMmnlqqoprpmtrrrtrlosjnrJQfcAVMAAPDfPKZCANLfbPjTbjjcUjfmiXPcZcZATEbbgbfbdAhachgeOmWhefkigmjnjhlijigghhkjsqphiiiemajqllrpomkfiholiqpminjnmphoilmjlrurrnquxuvvywxz010zuyvsyy0vqstvnsqngooqnrqprrntuqrqlrnlqswtrvtswtrqvuoosnsquvtsnrtoqqrrtnpqooopmlkjlmnlpmgfqtloqtsjilrskQIJJTXULXOchWajLQJYbYPeTTdmifcbhcmfmhfeBbTHabiXgAWdfcYeokohjgcjmeegionfbmggihjnorqphilmionoplnqlknqkplnkljjirqnoplnnkjopotrqppsrtqxyvwyzzzyzx0zy0xywulnwqrsuqrlgimsuptrtssrojsppuvuqtvutttotqmlnqlrnostsmqputoditrnqpqokstptplqptpmjqomsNMpmnmntfANAQRcXHPgafeXHOSUgRVfGAORJYZaZhHcdiejeSOSYeYbWcdhglegaKLigfcYhVdYeknflfpkmgkdfldgfadejglnmnjehhimokggomohmnrNMorkjmnkprrvpnqutpqrvswxzzwxxyyzzxytuuuqstjkttrronmptofptrttljlrcqslpluvvsxwonlrpqrpqoqprrrrpqsrjiluqfnrkjptmmopokmnMMqmmrqnhtsjgoMKSDXASNPAXQacbfhAAWXYdAPTbAAAgWXVVZbZeUXYPdVklceaYabbiVRfXeYTEQdAefjklgbhhmiJIgllVUaUYnnijeeYbnopklkijtsrllhjcfelrpchlprolpponkppppmrpswwwwuzyzrnlupolpnhmafjoqiheoighnlmnqsqrkrrgnhjonnorrpsthqrnqpfhqqnliqppkYgjofornkorkeYmonlgkpdnkjmlmnlfmnnUbAQAFPaXdAVVWdaXOYeNdASdQANYZeMQZAIXgAAdedYiUgbbWfMKcWMVcgageYYFglYdecASddZhYZjjYibafmjdjfllnqopZcglkjondpnnprojbdWZhkilmoommnvvpqprsruyvwvvvprrqtsuqpmotlcdprmljtompppnltuqtssrmklqstsprhnnojqnlqqkoqnmmjqnnqjojokpnnpnpdfejkklljmannkjmpjOddpebfAbAKSfgjFATYTcTdZWVVWQbQUYaVWKAWYMbiXARRdbdikfXdfciYUUgdonmgccafliZbhAdfZZkedhfZjgAjmXZfglirrkknchfmkedlppoqqliXcfgnoklpsrtrpurtsstttyyuxuturwuswutpsotvqjhlqrrsuovptpqnvurrstsqqsyuurpptprrooloxurqpnrsnohnqmqqrronorrMgqorggejhghmlmjopdhklpkbaXdJUYgdhfSYJacaehAWbULbWdaRQbVdgiXWXcTLVgYXeffMPYMmcoTjinhhgjgXillefdfPijekdfidgglimqqhlilqrtnpolnailigimortohffomlnmosknsvuwtqutuvtw0zy1ytzvwuwwutuwxuvpqrsutvtsrwrsortwvwtttpuvvxwstuqyptrrpopqsquurruqpuooouunpsnpjurnnnoqolkrroopposmilflqpAEWVQWYcZgeORfWZbJHACIadbbcFbbfZXceVdYITMhgekTghgfdWabkARTnZnZhjObcmmicdbhiTehbQADijUednklhjlkpinejsbiihhnlmmtocapmfJhgiomjkpfrqsxuwyqszyxwvxwwpispotsrqqsprurnllmjrrprssrvonpnqqrtsolkrkhqlpppoplnstrsmkrpssipmmkRjgkkcqmqjmnqregqmlYnpeipndhirqOXUZcSACXgeXVfeUYHYeefJKfgfbgiWHYYhfiagaadZRKJjjjjcXHhfcYZioefJKQdijlchiaeggoeihdekmhfZjqcghcfmolkhrdprnlpjjhpknmurHkjnnnptnploqvxxvxwyywxyx0xytrtrryuqnqtuwvspsopqursuvwuxpqsqnxqrqtlowsqrtorrqsrurtrrpmMNwsekarjJaYgblmmihklppiqqhnmplkiomooqrqAQOXVHMdichedfiWdaRZigfYVfaghbgfGddXdbYgiiaWifeinmJabflmfhkgYnofhpphmfVcYcnqqjhmnnolklnoomooopmplrpqopqvponnmoqpprsnttuqvrsstvswwvwvvx0zz020zzy1wuutwuqrouwvrtrtutvsvwttsuvrrssstuxuuruwxrvwpuqusstrptuqpsluoqrkurjolqksrrhelnrqprpmsotrqoqprqrMNNIZacGYkdaZbebNAZeNNehjgbiZddbZlehcZZXYdegTcaghcLHhajjhldhjVHngekiiejdfeimMmodggknpilnqlnLLlmmqmippnmhptomkllhnonmdqqpuoppknlsrtqqustruwyvwwvruzvqrrttpstrsromsLLrqrtqpsorsrssqrpswttrkkupurpoornoqnlfsrnopmspqqkmjoqqgopmoZdgopslnmnkhkkhlchjnmpHXajZAWgUUKgfRgVYbWhmoheajWXcVRWVocYHGbddfVcYmlheZjfikdmmeaaggaFIjZfecjXdmgfcYqZajeaholimhgmkhmekliqojmthkonnnbpqqjifeqnrpmnrOOsstvsvvwxwurzxtwvwrutvvttttsuflrmswssokwurvtsnppmsustvwnprlvtrlpqsqssvqqnolnLqvhmjijnooojqnokporuoggpppkmlplhmpqpjcdjgcAQgZXAYWXgXObYFKeYGAAiKaYURbnijlaRahhgdeiNUALKITYcfdWQVifVegcUVeimcghkjZbnfmlafWlnopfpqcehkfjmnlhqommpnkndprrpiWifokkjksluvpwwssopwwxuytsrssowumkuoorspmommhntuntxsovrspNMnpqqrrwuolswpnpqoromuwqqpplmkquledniphhohmomipppqkdgpppqtnqqnmppomcVdLSAAkcdUAUYWicVXJligAYAUpjZeMaVTgfhibbjdXciYeaigffihfkajgcKddXRciemokojidiHJlhkilWimppmnmljofgfhYicomklnjhmpmkonklpjjeqlmtrttswsrvkowvxzvvutqrqrqlrsqplnmqwnpigvvqrqtovssqqqqtsqqqoqsoutprrprrhlttrqqnllonrljinsrhmnmlnkgqttgsrjnlkptqqpnnrroocVdjjehdaeUadgcjaAdZhelffddoicdfZXfmecmacdicelljnlhbomghmgrgbhcpjgkogmnqqpplljloirohmigprkinppnoqSLknnmqpnnilqrsmmnolmosqwqpusstwwvxwpwzyy1xyxxvxwzuvxvwxutrturrwsuttwxywyvuvtruwwwwvvtxwywtwuorttvwvtwwuspstpssunrrqquqsrqqsqsqOuptrpsqtuqhlnsmtXRUcaZjYAdbafbkiUAWchcdgAUXaWSVLSZCLIZXYWdTceknkkdIVmkdelimTXaXdjeaehkmnjolokiimkleckeeijihfnqhghilnnkgollkhcehlllmkdmnpLMemogpsonnspuqspwxvuouunirsqNrstpopmpqoqqntuuwwqttssmqqstttqqsssstsroimrurqmnptopoqqrrnrkomnlsrlnrqNMjnmmimqnrknqcbcjposCGEhKOVcNSYekJnhdYNdegcfRafhfbeACdOeabZPZbcjkljjKffhYjlhjjmkgZgppmeijfjnjgdpikophgfbdUZpmklUYiaiiomaWUimndWmljmielmknrifbgdhpkssqpputsutruuvwmtwkimswwqssrnuqvsquwwtttsvpstssstrurrrossprqnosopsrurqrnkoppspnqpkqtsssrtsooqpllifricgilqolomnlmoolAXAPeTXdAASODAfYZaASRWWcqAFXAbcQQdhYXKIIdhhffgcdRfdcAdnmjVbbXVZllcZbeYEVmiVdUihedacfYATmjjmgbfdjjelfckfdaZgjlikgeegbhlkWQVjjlmnqlpkprptrqrpturtsnjnrrpuskpnpqmmmkprnmmoslqsukqpmofggppppssjhnomqqrloojlemLpnongdmkegdklgmnmlfkbcfeflgdjdjlijjilmgUeGahAVfIJidWXALCFfbIITJLAffXfVMcWeVcgQkdcjcdbZUchfbSbjfbKIRkaJXkinpdHGgngbZenemjjdjgcckhflhlsdkdkopipkqjkkekkmknhhifkoklnqnpoosqsrvwxzoostswwwvrrttrqrqlrqpumNnooqpktvvqqoxtsqmpnilmlpNNsvtntostpnpjilmqnkprnkgnokmkkkkoommnqiphjkpfalkonmpspLgoedeLdfYIJehlXWANSXZgcaAKQXcbjldacaaVAAjnkldZaikVGSVbWWffQZdmoWAJVlnpjdhippglmnLkpkkgjjkkhfkjlndleklmikoqhgmgljkmlkfhholkprknpqionqoqqtwosotrswttijpoquspiotpkpnrhfsrNNutqstvmqghoropqttnsostpqpqqqplnkkknpbjlmgnpokhlkhppKKojfeoijnmjlklkfmknhjjoXaUDZeddcVcJfcfXWAcgYaAWdbahfbFhcjdmEYZZHJPfdJIXIZZdYbYIHkYcfdcaibffYWaQnlbkgahjjehhleccgejoqYhkagXfgfnjgbiehepkkjfjqqkfmkmJMonlmroskkqmqstpsusvorsstuqjagnqnsoqfkoosnoqqqrmibjboqmkljrvvprvqolnoLLlnpkohmfokjWpmngnnmafpmoqebnmjcepdajlmkoekijnniVjgJbHLdgeegXcJHTdRAeYcffdeWTXeabcldjbaWZTfJRZQXWieiYgbckAfijhWjokafjibigiILgoqlgjoLKegnmjjkhgfklhYeloolbeqoneklljfLLeflhpqqnoqssrtsrntrumnsqussturssqppbbqssspoqomormlrppfrrrannoihhlsrkqqmnhrqpskpmmnlmmeoplmqooqmpnjspgpdnmijdippjonmlnfimpopVMVicIAedhgcKJcaaKHTBbXAemSWAFJgWZfbgjZbRcXXXdjXhlmbkXplkkgVieeddlmbdthaXYljiLLspfgogdjgjnhfklgiLMbcfglnfSjqqdJZekkZnijnkfpqrjmqssupsomruvrprwspouvtrqprrqripmqprtrmlrmoqmrknqqmrnmpmlrsrrqopjgmmorkqputqqpnqropilklpmpmhleonphqjnfkqlomimphjprpqZdNWeXTccddQbAAVDJaeejjXdkZXYYAlmljWAaTWeSfhaijcchgKKaiklglNidheehkiIjZVPcoMLhfkihadfoqaZamolooimgZimbdrnfprokgbiieadirstfkmnrpoqppplqqsuwtvrurppsssmqoppqqmooqpsuuqqpswrqtsoutvtNMprosoopmussifrrrolovopooprrouqmmoqgnpYpcikgfshonmllnnimmkdhdjmAPRdYacbDiUMGAMOKHSkihhXVgcSdbRfhifETfegAAAggikkAYfiRbhbkMWYiagYibKYeadAehafYlYNaXkjLcelneofZqqplfjllmkolfehUmjgfhhiejihimjllllmkjiqopoqotrtrrploonrjlgiqpnbphfnotvnrsvvsmqrjkornpjlmhqmrqmrrojprrqjiqlgknkhqrrvsnkjpjnsieUoffjspnjigkllgkmdUePhfUTQZejjbGadcbVWNhhfZcfcbYSkaiaZAPTjYZjhZOZaHReaoThfWBaZUdHUVZijleUhkdnhVmihjWifigknngdgsmmlfgponjkjjneopmpmkfmpijmlnmnneerigrnqpnlksrstloqvnlwsnoturuffmonlkpnmmpuNMmvsqqrsqLmqpmmnojknouvtsqcflrsqmalfkhqifpqutoqlcjopqokkkflglnkgpmjljjnqkoohmgFQAAUXWOWEghcfYigXeVedecYMgYXVKOTSfXdhlWVWhcZggnlcjgWjbcigIhcfgihiaddlkkldkmkjhgafckkllhUkifkmlkgYlornmmkqompnkdfhmjksgkmmlmsrqpqpmqjrrmnnpspsqmpstqtooopnrnpnsrruppjsnrprprqnqoukosjrnmsrvrpliiLpppprqqntolkmmjllohFlljioojeioiGocknomllmoHHrmnoTcTQAURBAAQhARWhiTbeRTYjhelfPYKAAARAJYcaIfeaiejjhXljjcbgchbhhjgckfYNKZahdjYhkiagcdaijkmgIIgjiiijncigkommifhhkiEkbRZikhbkllogcpmooqqnoltjbporrpoqnmhgonglmlojpjpihsnlnpnLnpgllgjirlrlgpoklklpnknklkokonipnmkdgollbdhcdfakdllgkhlfimnfidfhnfhqkrqgfZjJHPXHbVZVfUcAbcLALNKcmfmpkXXPSIAAPhkibiadVecokmZhgkMAechdfjjijgifKEbmaUdTbgfnkgfakolmmlllfkhlYcokjiqqnialmlmgmngjnkelhjmmifrpnosmourtoousstntxtrffjmlrsqqnolspimjkqnqsrqqtujlMLstopstrrnnrskkknnidljfkoonbsspphfhmjkcojklmnjhpollkhaiWkjhhlopRdAkZbaAelkMMZZYXgfkgbahahILjjefIfbegkpjQMWifflgdlcjjTebfmdfmlolLKdgkigimilnpjkiLJcnoonlimiofkljpgitRljinnnhnsllehnonneiollpnlkmppqqottstpvwvuwuqrpmkimppqqqqoqmpujonmqqrsrtsnrmsoWorlnnomtssrsnnpqqnbgZhhmnoitrmlklmlgmqppnkjttlrpophgjnadigKMoqjoACHAaYcdblKSWXdhelkghkejdlUagXiLKgegkeXUWkeQXfYTUeYRjhkLNAcmmlmkkjoMMflikiqolkjekjnmkjnnorgkknlgXKDkagnjmfloklZamnppinfopqpppprsssstsuxvvqssttpklsssrrtpnrnmpMLncqonkqmpmoqqlrprnjpkmljnpnnpmplmpurqlhjppiojNtskohcnnqpmlkgfprquoloibfgdcgamhonmNcaPFjLfUMYgJKffMklaYgigAZhMYcfkkKVAWcZhgCgaLMNZchbTTaWlHIYGiiimmkYgmogfdikmpikjfjkjljhLLnojlgpliHFVaZcnjdjmkjnnlpmorklemnmojmogmqquvsruturlpooplajposnqpjkprjhkohnrqiogllkqjgqorrloophfrbgiplsopnrjmlkjqjejgnbopkhflnmpkjoZfmkkpnlejggocWfilmjkmlDWWagYbbeYfXhfbXdlSTIcZAfaXlecbKPYAAUYiiblnmjaeSjjgbcWLLhkgdfckLbffgddejjnjlldaajohihdmckjZijmlmkimilfmpfljhkqppkjqslnmopoposlknkittrlpqqrstmjttkqtotrpnqprslhmqljqgnsmkjooppropoqmooeptMNtjkprormnpnjhnkomlmfkjkoooliogonggLkkpMvmhbbrmijnoqomoHFAaZVZYedSQAHcAbUccRMUThWcXhaPXhXZcQCbihhmppicjfkjbObdokikhcmjjmbgiZdcjmoomoojlehojghgqJHjklppllmhidnnmjkgpmqoppnintpnnnsmmopknpmotqtrvqrqtlistsostqrrrnmssrglqnonjklrofLNiLMkmnnommnorkqridjuuCmnGFmGdmkkWonpnGFfjjjknklkGGkjKMlqnelolGFjtHGonGfRNXGGWVAFTabcSDYHWKaYbXaAkPVVUXUWAfdikiOaWhheKIAbjegbkmcaYcBLjljbVgdeimngihhjmghinikifnaUanljmgjmeignhjlieiinipomhillsropklhgpmrrpsprosoejhcgrmigirqqnpqlllsfjolpolmmplinjbfkYYmiknghflUimfhlqnsnkifljhnjiWgkphkdoaijPhnkmjoiYZMjijhklgklmlhcclkkbTRiTSAZAbVmhTRVNiGaQcfffacMFcSATOcYicgacRdffbZACjngQbdhaghKhYjljUZjldfhUbmkfiejgoicLJhJhikfenokmbliojmokmglklmehmohpjpnlkddnrkoplhjqnttolorpqtqnksrpnpoojmmprrgkpnnplhpnnnijbamkpmilphijpnWgiopienmdimeThcjiicolsilfbclhholjfXmrpgimknhnkgbIGKlmOAWdehbkdiffdgUgijAacRVZgbZWffjidafVPedjkUAnbcnhfbrkiGTnooiiUKqptehLLegomjomllnloojdegecjlljikkkfjhprmnrskhipoojkqilojrqpggfitptgkomopqqojqsrurqomosjsspssopnsonpquoslYmlkiooajmihXbeqqopnjhghmpclkmffkgecaqlhlppmdlhiZAaYkijqfjnohmjifllklfjogilaVAZiiGfiUadVTQeWeWfkfhhYaTUUXmmildQYVcmVWWkZRkfkllfmkimnmliiflmmjTXfhmmfeojgklmnmbjkkmfnoqpqhfidljpphpssfjklttpopnkjknmmdlonrnpkmptsstsqoqqrsqrlnpsqromutqtotroqkporsWlpomnojgjgkggRkpMKienkkekioiikhhjadgqnhhZilXnipoikhlmemfkoggjmqbjjfoegnndgjiXZfiIYdaUifbRdAUZbbjflMbXYaAkiijZXTFSdabYeibdejkgiggnikehffdXqReghZhpljjljjLJgnmkjifmellfdojnnnjLhnegnpjlklormnosrnkppqphhjpojopostpvtssttspromorurnpkottrtrrrpqhhdmkqpqjnlmnglromZeljcoikkokkmKMlmkllepmkjjkgkdbdinllggmmiginmjkmlnbkgbjjgkmieeacYKIdYRbfakORWAeSRIIdTDXLYVESiiWIOTZYkiiacjZbLhfZebTfdkdgeeTDcUfiWaikjjkaQlkdcljmfkhoXfhbimnlllhkckejnkjfeicknpjrNKdoooommcssqkqonjmtspmropqrsprrnhrkhmpkjgmkrmjmoZZXlfsnpohfcmlhgbefLbjnhhfgejcfgijkmhimhdiljaelgckeibipnidehmkldZeejjVVYZdkggbbXYcUecgUeHbAAAGhZAAUWWMHIUTaRZbPdVWcDKfbdhmkcciibPUIJcgkbmllbkYkgZUnkijjbBejqqnmpacgkhjmeimLmqjenkjpkmjheajmkMNjqmilnilnickqpnlksqsrrmiiqionnqousklqflonomkolnnkkickfhglgmifkdjjijeiiVfdjehcpmohficgmmfeqpmggnjeemalgfbfjmjlhfnppffiokKKUWdhYPiJXMRbdfhjZdNWNSAWOgYdXcTZEUBHcfYjdfOLfXageXkjjegflfiZgiqkkTkdfMaHYebecjQgcgbYailjmpaodemknjjnmkoggpdlrqnmjliLNnoncibiltlnoiYkmmkonqqrrnkqlpkomlnlruoopktsstsmqnpooMffliXYdmeZgcbfhLmhhiggihfmbkinijhJgkofkpokWjijZfkhToliiihjpkLLlgmlmmlnkjhllgKhRXLYbdbNMTXfhdUUYQeVWghXijhdjbZhiUAIRjgZejTgcefkljSkmmgnlgbmhjZcfSanmgedcklghbdjorpjlgkjgjkmpnkmnigjjlsnnhnolpmmmjijoppnoiigpilinonqrnnutsrlrqrqmsvopsnrpgnoknnmgihgaqnnmjljjllhplmpmnlmllbdcjmmlnjgcjmfhikpeJdhdcdZYcnhmgphgjjollokmpmmplkeljXLeeaVXRXQXaXjjiYMcYeXWRcYUbddIIhVjacAPTjfbDXXggafbfiOdmeVlcijjliklljgnjcnkbmhhminplnjqdhWklogZmlYfejWemknLMolnqspqqqmnimesulmommnmjnolmrlqpqpwwotrnqilqrttidnnnnmllnJKijrpmljihqmpqmrhihkjhnkihklidhkgTimdkfekdehfkjhZhYcWdekihcZZjqqjhkkhgcebWbliakbhebSSKZikWfgekfbIPUehVYWAicKAYWdadhjkhgRfAIkjSdccjkhflalhgllhhlmjhdcfiekhgWefkbZYngnfjnoicoregLjeXbpmkpnkhrmoomoinhimooomoplrlnsqejrpqqmqwutvjqnngpkusoklnjsihjmegmlqllngfjcnjaeifigkplngbVlljainkgebbIkMLmofbgkjigfefcXjlmfaZhkheklIAAmlkKScUAiekiikcTPSfIIZbZdYcFRlnbafUbgcVVJZfJagdJKRiVQlmkjjKoMMnmlhbgiiagjhjnjkjlkmmigohhfdakqsqoopjjstrrnptvmppopohouppsmolmrmrqqlmrmpqsqtrmpqrusutrrxwtustoruvtqlllprtoooXeMmhemqiidjrfUlklejkrpphicinndjlmmnZfZiljjjfgehqqgimkidjekjlgfagUVplacjpmhkZCmXajihjJgahARUSSZADHUVafgcVAkichgdSXjkebghUhaYUikgmijniinjghgdfakgchifedijnlflpioknnpoimkmoopqrornnrrqmrtnnlloprrsqoligpqqfiokqssrsmomqtysvsjmvstxvwqstsnnmnvxmsqonmYmphhflnjQeLFlmnpjnknnknoknnjhhfknaAlkgfpnefkkgoqmlpnlkllnkLMPAooVniflmomnfVXlYficbXSIihAAEXffWgfeeAaWgJQglZYYigWjohgefeaTWQdlbgaiibXhhgXhklnmjklkKLfjkmmkiqrrnjbqjlmhomlqhnmmhlgqmrspqkktqrnmonlnnprqonbilrsppspnosptrvqqvwqvsqtrvuvqqnnvursqqlrVWnnkehjofkcfqealgjhqMnogknlLLhhkjdibefjGgleGFEhFjnppqjFhFmFFRXFojheFFmglkFFekUaZVaTBEXRLROTWYUWTGGAVTCALHVRXVEETZEFEEGFDZIBYYPIREbFFGERVFGaaaYFOeIJVSWbZFFiVWYZUdYWTGFdFFecZbPTdFFegZghacZbEZdVVbHVYeZFFZSVdfYebebeffbkgihihfcbfdcfGGbcfbZdajecGGEaGGaeFGFfEFGWRWDBEEEEEBBaCBEDZDEcEAVDDGDBBDWBBFFUBBEBCEbGDCDBCEBBEXEBBDABBSDTbPgicemcZPkhkfkcffifQeRRiklhKUUdmKJgIKjnfcidRcehgfdlkmkedjiikghpndpkqpmpidnqteoljimnplmuqsnnmnqamlpmqtmusqqrqjmnohrpqmplonoorxsrsposnoqttrvxuprtwttussvtrvysurtsnnghnoonolhnmfhinophhronordimkmmpkkekgZjmgmGbgafeilmkdlifXmjpmVjifliUgfijaWObkpgadLTfhefZYQcbPZYfeXPYUcMceKmVDAAejiGFgmqSKTgTQabcihnhklgeidUhQdfnmhnikogdljkllgtphedhlhgropmljrslnkkjlhorrqnqthinomrtqrprpkgkjpqqqqowsruuottpmposrqrqmovsquxrrtprqjdiomlihkfljgeklmmgfpmnmonmpgnlhnngoJJdlonUYWefgtsjiecZhgijmoholmkmkmjgieaehlrnVaJSkIiilabhXNbSUaRQfgojlWYcilIGkUcXXgilKLklebchdqqpphkhihbbmkmfmKponlqllpnrptmsrqoqjiijspsiorwqpoppjkdvtnltlurlvsvrtrvrrlnjmmpsssrw0ptvwsxsxqsmqrvrrstuustxtrtovvqnnnmlrplnnqkjilkjmiomjlpsqqlokgkleojlkdeqnleikioNLighfknmeglknknlliijjdiijifkeAZTABHFGEEEPFiFaAeEEFFGiGEDFFGFFYDEVhikcjolkihEheFGGFgcFhnefcVimplqnolpkjglnprrqmpkmemeTontorsttgornkmquornomssnoqvptorrupqpspptrrrruousrstpwqrpuqsruuuruvprrsoutspqqqjnppleccfllgijnefiekplnllkjYjinmmnohgolnbWQXfmfbjedZggannUbYeacVVehhkhedbSiEEgEEFgFZbDDGFFQEEEfFhFGnfkffFEDDGFEFdgdGGFkGGFEiFGFFFGFkpZkhQjooopjdhhimdpmnonrklrmojjqtpuuonnqmppoqptrorqkoqtvMNtqoppputspttuuxqsqvsxvuutrvuvvwsutvxvussoqrOOuoorknqnqpsicpjjhlgnoniglnnomnijnmhfmqmfnnqmokkcbbimkjenqmikgcsmZZhodnlnZYfcplmmekFFCFhlFbDcEFEEDADFDUKcaZFEEUEFIJfGkGiEFfFGGGjjkFkflimGphhpkookfiehfhhkglmmpqocrqppurrkoqrorrponppqrpoprsrpsoqrprvrqqoprrruxvstuwwuuqtstuuuuvwxuuruyou1zyxxwvusprpmqqronqrKKdpqroqonponaghkmkjjnhjnnopkgemgjiimkZhmjhgjkmMlllkqnnkghflnYSXlmngkplmdcZiFCAEDFFDFpFEaFETWdZDEEEDAAXEfhFfdbcigFFjEUhFBbFiFEpFilligifiaibklcjjldmqrgqmmpqrnmpmjmnpqppolssrptvnmmolmtlpvrqlsrrqpouvrrvsrtuuuupsopqwxxsosuttuxqutvussssttjjnnjclljgjlkpmukionneJKmpdkrkhhoLKnojiKZiejmgTkiflnmghjhfjmfgijklmdmRgaippfgnfojXbaekeTSfljLMIYbJZXhgdaYWbVZVeaeVkimmeZdjimjJJfXefkokljkmkcclnnpJIrpprorgolpcggejaptuqqkkmlnruulssqptvlmptptspsnorqutusrrssqntsturvssqtrnotuurqtuvyxxtuvywosswmoqojnlnkkmehmjiqokhgglooolofjljplojejknpfgjmpnogjkcnijjfLelikakhinmifhDZfgoklggeiiIcjfmjdWUcjjldfgZaZdcLKXlkmgjeailhjiLMdfeilnilmdnmkkqphmmkbbepouppnprrtnppkpknokrqounkpqqrqstuvutqrstwprusstrsvruuvxwxusywtssrwwztxsxrwvvxyxvuxxxywxxxxwxzwztytroqjmqsqpnmpjlsvtleimlkomtLepqlrprnnnkfloimrlkrmhkmpklolkkpopZkmsnhXZnmkssikhlnllmUAXLgUhZSXNbddilifeebfiQdhkXfaZXkfkgjhnmUXdhmahbiijjoklmniWfnqjMMnpdgqqinmpoonuroqsuinqqptsrqptuuqqsouqrupktttruutuuwussvvzswuxxvtyxxvvwvz0wwvxzyyxuvuxxxwvvsuwpfrmnpnpMihmrrqqrkkmhjnopushnmehnNMmkmgYmqsqkehgohipjYUpYZlqblnnolghYmphnsjnYXchghhWYXfTXknEReYWbnojfbfamiQjhZkahfUUccfeZedYglbgcdcgolokdhlcQnqmWXpoqnfqlkllmkrlkkrqnplptttsxuvvpmqsqpqqsqqppqrsqupowuututrrytvstxttwxvutwxwuutvwwxwwuxuyvxppmpswolpllneggfgfmmmlmjkoiqtrnpnpkmljmopdZhkdbjrgmljjkkbhYhjngfjqcqlfkLLhgimZkkfkmKKaahijdabbQlpikkdhadecccbQjjbkgckhnMiZJkWififllibllnkekokeKflidofkbjrpdpnrlrpnnmvnkoqrrqoprtvuuswxwpwsqlsuwwwwrsxvzxvwvxsyxwwqwwwwtzxxyyywvzyyvxwz0yyzwvvzzvytuvwtpmqrsoomlqogdkksqpfZoqjphenmtljppnmollqnffhrookhgmcgcaigemmonnnjmomokklTXiiLlqnpjnWRZAWWAAQEXFTSOUAAKCDCOYXQREEEDBBXEVZPEEEFGVGYQEYeWUFEDDDFcTaVbVbdcbcbcdgVcYcgYkefYXaGGYYbgfefgkehfaeblhkilgchjheifHecnpgdcfhgeGIldgihfjdnfigfgplfIGkiidhimdfedeZbBBFBYBBEVEBEdBBBWBEXESYFFBBZYFEWBFFFEEYEEEbYFFFDFABheEBBBGSEBEFBBBFGGXEDZXaFXDZhaeAAaJaaZdchfgbAXXYaIXgjYZaXUegldgifhnpSPYelijkfhlkKKZkjhljpdoljfbnnmmpqllpoqnpsssruillnnprrwtpqpusvuuwwuvtssttttuwzvywtqtsvwwwuvuywxzvwu0vxxyywxywyvwxrwxxxvtnmpqrqjdkneafnopsbemkonqqnkkcgkmplkljLMljkllhllokmikgYXhWcionggekplijlkeYhhnomhLLeaAhaflemlMXenWgUSjhlhgjmeVJPajjiiaIRfmhjcdGbnPgmcnnpoihmlikklmnidZhkpnptvojrkmpqqprstWdtrrstsutvsuyuvwxxwuwwvvtyyuvuwuxuuz0wxwy0yyyy0z0xvz2zyzwxxyyv1xxyvywryuytoqqsqqnprqnmjjlpnfngnmmomollkloonigrldfgjlpnokqhhfjlknmjjgMOhfghhjgmkKdiljmnilpljFFcXgdejohTdnifgWcadenhmBKjZFaaTUfbabhaekjYZePlhchkiMgSAMlkkpimlfhMpommrslpnokooilhmsWiqqoqtoonsptutmqsuurrrjktsssvrtvvsuxwuttvvyywwvuzxxxxvywuvxvwuyvswtsvstruqmhompopoitpojfgmNclekjngdglkokjifiUmpjbhjljqmikUagiXpkkWkMVodYZWZdfhLWcgihkliililZffTffibkXdgigaicagchideaOiggcgVJJigbefgkiachSngebjkUPgYWjbfgWhlnnmkhnmkslpjnkfommlnrolsqpknpqqspssrnqqutrsrmstwvturwtxrpwuuuvrutvyuspvwwtzxwtuwwvzyzwrrwrtuupttoppnvttjfpoompnonnjhfhikgjpmjhnggbdbpnhgljkrjkhRcjggngibTAcHnlfknoneieZiYcjjlVdgiKlicYdecdXgbZiYcgVibejPinlmoichXffklcikZpnfWjlljoonpimlkcckNojkqjpokjlpjogqlssssrqtququvwvsrustutrxxuutuxvwwy00xzxuyzrxvtxx110sxrwzyzvzyzx10z0z1xy1z00zwyxwzyuwuuupmxwsrpnsrqtsqrsonnohnqttqnqflojnkkonppjklronlmqqlqrprlkpknjjooqoMNoXnjfmnpkhkLifddgZYefhjigfijgYKJciZknfkeUYeWgkokjagflhdghkijknnsmnjkikjssqtjlqonrrtojkootqtvvwrusuvvwvsvwnmwwuxwwuxxwwxyw00zw1wyzyzxy12222z0xvzz1111313300z20133000xz0w0tuvsvrttvsvsqlrsurvuwsprpmpnrorpqollqsmjiprqpbigrmtsssopspgnnsknmknroonpMNorqmmljmhgrJBaUhCcgikdbDZWVbPPNLAdegAAXbdebQmmkniimhZjfZecTabemZeaijklnplpkpkdommffhiljpnnrolenolmjknloulctqsqnqosvtuprrtvxtxptqrrwuvxwvwwvxwyxwyxxzyxxwywztrrywvyvxwrvrpmsjmopliqsklippoqpojkjjnnhidnUZjnopnfgfiieahomlghmqmmiinjaSlekfoopoofikekXXjgZchckgfZkjkYgjmjhQAbUfkWYXdbhZYifhhhilMabYchpgjjjifigWbedkjjfjmlkqsXWopnmroMklsojoknwyjmqqmnspqvsvsvvvuvstxuvzuxtyxxtxuwuw0yz0xwzxxywyz2z0z13x0yvz23121yzyyxzxvwwxvvvtorvumqountpsoqpqoppkopnipopnolssskknhjnLJlokjgemrmrrpoklhhpjQgprnkjKfamgkknfmstrlbbhbSQachXSAAbXmjbbnijeAAiijijdicWbVdjiZfdgcZeZRSljlMMeknpopkUamtrmsfklkoppsrpuvsruslnssuuswutwxvutvzvw0uvwzuuwxtvwx0yzxzy20tyy100zzz00yzzyz0012000wzzxxvwyz0y0rmntsrnpprwtuspmnpqnprrooqpppognjinoskPnjhjlloledlnjkpmfgjjofeijlnjkjljjjhgojpromrbWhZZMkTTgcgGIanlfijkiLJadmkkkkimXYmchfbRAkjkmhTdkrWgmipchkkmikdhrrtjnpphnoMOnnpstuunrrssvvtvqsttsvxvutzvvwstvxwuxywyw0sqvzvxvy0yyx11wzyyzz1xz00xxzxyxwzwzyywy0wnimkmgltsuqtpnnooqlrttdlljoqnmnoqmospflmYfmljcnjpggZojmonllooqhikmhmkdgihjmgmkqorWjmijYdIAlhkcjUZbbigfihemcUnidmnkfILghZkbAljgMlkmbcgkjnoihimnlniiqrrjpjrnpqspnhrprpurstvtwwvvvrytvwvtpqtwyyxxyvxyzwxvyxww0zz0zyww0z01y1020z00110xxz30yz0zyvzwy0yttvoqkoqovvuqlmmqpponrnonopssppqonmplmmjboqqqjtbqanqqkmqnnspnkknijkkgdkWggihimpmoYhlmlgfcihgfgfdadefhTmfbigRinbjmkfdiVmfmbelmdmnommdlprruprqqqqrqrsrkqssupssvsporttvwuxwtsvyxzxvxwzyxyw0wx01000x010zz03322310430123545332435343343344224410z101yuszyxxutvvysutqpswprsoptrqsruutsrrspqmkkpkrrsrttkoirsqkljomqnkmpqlmnokptlilkmnrUaWXfdlmhfbRXghjbWgfkknTkljjeibdJhifhknltjihfnpoojknmjllhlqlkpLMosqtnskqorokqrtvtuvurlvuwutrvxuzrvvr0zvzy01ywzyzyz100z101212x0y211133344311113434321222zy0z120zxyvuzttuvqtwkqgrrqprtsrrnpmmosuqroomstosonoonojlknosqiXaajlgolnongijttknoqolmmegjlRbfdiTZdafddckhkZWbNekneioiiacfcifdgnkkmqlLMjljlijlhhfJJjlnliipmplpqlqMMrplhvvlrsvssrhovvyyvtvuywvurzzxxy000xz1zxz1zy0y1z1zz13132222212202310411212233311zzyx1101zyywxrqqswpskoprtsrppqmrrolntnrrrpsrrusspdrojhjnnpkqnhmRXgqnlnnlnltujnpongnrsnjkkfmVdVAWfghedEJlAAfeNjPPhmfcbeeXfebekcghhmhifbUegbUeibjiilnbZemlmkktpoglmlhloohMJnroosjrouxwssswyxvrxutvuywuqtxtuuwrtvvywvxyy00wyzyw1xyxwz00wzz0yuz1zvvvywutuy0zuutqrpjpokpqskqlpmeumohnkljllrnorkqqcimprnjgggeikhknolmlUfnmgmmhmkgnUlmljljmgnifhLJncYUEXCPFCRMBEDEEXRUADCWUCdbFETXIGFESZBfaEDFZFFFWFcUZEFFFFXFZXhbadZfUXcebVbbccXabjahYiagdHdmchjhndngddfmhdhijdnmgelnjhoghgholmlgjkrjmnhkmkolghjgitikmojejemnlniIIkfgZcfgehGHFaGFZHGdYVFgbYXbeFGGbZGGGGGGiGIFYFGFaeFFFFFFFGFGGfbUSGEbbGGCUVZbZXadfbljlhcPRihdgdjdkhmfUQTaShedfjJadnmofVQaffhdroiemkkmjbehhLLdrnknmstpsnmvuvrssstussprqsrstsuuwvyw0vwwsyzx0yy0zz00zzx100w033110z42y0z3020242122001yx1010320130ywyzy0zxwtuopwwusqpvpqrrlrssqqqoqoossspttpmMomsprokopopqLHfioqroopmommqrrqppQUanossmoqnggkgdfaacVZVWMQllmEIQcIihAjeAVJkjjiSVLLjljlmnjiilnlWfaJLiNijkrpnrkqmlnnkoqpqrpmqqqrrwqusruttutvwuwwwwxzuuwzyzwxuuwwxsyz0ztuxyzuwwz0z0x0xyxyzz1zyz00zzyxxzyvyzy0tvwunrokvxqmrtsrnpqnosrokotpmnqmqmssokmihtiolmnljrrnnnlpnmgrmopoqoolgggaYkkgNOkmpliebamilNVfeXcgdikjchfjgkiblZASXXjinlgnloqfkjmfngknonjkiqmnprlqssunslsptswvsorttuvsyxzuyyxyxzyxz1zzz1x02000013233221z113101222y33112z341122202z1z0532141123xz2y1wyxyxvusuurqwrryvutuprsstwywuttrtqvwvtwontposromooqruulooporqsrrpmrqmpmpklmnmvsltncbibdcqcbfcgjknUlfaVnmAeqngmaXPafkkjipmphQhdhhlhmlppoakqpnqplrsuuottvvxxutxwvxuuwxzzwxxyyxwwqzw1100z00yyzy112122010y20310yzz1y14332122331002310313z22212653z000wyuzxvwxwwtrtvvxwxwyuvvttvutsstqvprtuuutvvtvvvtqqrsvtsosqromloonurpmmsorposskmptmmJKbZhcMJekkohhjgnjfUeSefhlhhWeagjqfgnpljobqmijhlnjrpkiksrqtqnqosrsquxvwxvuyyvuxxyyxyxy00yz0y02y01301433200233233232443314232331346544333323244355434553663420220yzzyyz020yxyyxyuwvvuwtxuzxuvuvtuxvwvoptwtyvutxuwxpusrmwvspsunrqxwqrswtoosuvpuqvnoYjjgjhlecfllkigkkpkQbjmhjongYkhhlmfkkjllnimnKinpojolgkpqppsookmqsuwxuvxxwv1z1yzyyxzxyx101y0z510z32221z6623334100043462414353344558744434555553232373565532233342y00xx0y001z1xz0xywxxutxwzxy0uxvvwuvwvtvwvxvsrztsxrwwvquurrtrrvvwsrusvstqtstnwqossRljlnongbagXcfcdUkfgjgiijkkfgpifnPGpehiebmlmfonqlonikmnpsntonsurtvxztuywxyzyzzxyy1xxyw0131yy12013223z143125531113236407544454443567653342553552224425734220z2143xz0vz11x2212xwyx0yyxxxxz0z0zzztxvwtxwuxxvwxssxsltvvvnssrwtuvrpvuttrtrsrqpprnsstvuhljYghlkXNLKkkfjejfgnkgncSillgdXagleajhhTlggemoqqmlrReqrsovoptvvtv0xxyzwzz1yzz1120zyzz2244z00332321223221345423244522564534346473445467645457733235575534522545310yy422124410zyy0xzzwxzz0z0xzzx0yzrwyuwxzzywwuquturuoruvyswvstvwwttturtsstuturuqu1jWyyyyyyy25360221y61m01yyzy61yHy3yy6yyzyy66Y46666665466356666666v666666666666666666666y666556626056666646622666631y231z1z0z14242213435432332430202254542332242211fFFFFFEFeedEdbEEEFddeeEEEcdEEEdEYZbaEEcEbEEbXEbaEEEEEccXEEbbacEEaEabEbXEZcZZEEckmfhXbEXkgfiogejdnllenibNAUhbcbadfbgndcfcamlidjmmnsoqnmnbdosuwuxzzyxvvxyyy111223010z0010041zz23513x0452300153332z420333223304421022465334375103344624664026423111444112zxx0zzzys12x0ywyx0z0y0yxxxxxuxvwwwsqswxpsxvxuutwwytuurutxwroqvxwuusrrtswvvlikcWmfWbfgkkZeijokiegpldfhhflldflfmpipneZefkfrrtruqnnololsuvutxyz01yyz1y322313311322343445244332244645343244345432345623432544657664576636533356475556414554542434331233z22221y0211z0zz0z2121wzv00yyxuuvwuuv0wryuwvtuvstssrttrrtstsswxtwutsuusvthFgadkVAAggdedghgejlbgoKgklhQombkmnnmllikZjlgfknopuunmnptrptqrppsqyxxy11vwy00yz00121yz20244110330242422022132345300z3131123304564565556534333335435454541312334323210y131zzzzyyy0yzwyxvtutxwzzyuuwwwxxvutwvxytrtytvxuspqsqspwstsssuuttxtxvoqqkinsdAiaeZfaSfgYhZXgkjgebcmeggfjalmilgdkhhAWhlUgfmklmnntqqqqknhpqqtpttxuwzyvusxxvxx30z0100301211z1131311331114553232121034432212z3452546315436222442304355114303435401210w0311wwxzuxxszwzvtustrvwuvyywxuwwvxvvvtyupuvtvupsqwwpsturvwutwqorvrwoopkipopbUifjlomnmibhIjlokleYYeikkdknlkjnncklplgqooprsjoqniuquluuupouwxytyz3401y012213265145655546765568775678675588778766769786767677885777767788656887767587577977878656534067642422011032322220121x01111101z10yzxzyuwyxzxvwy00xzzxxvyxxyvvxzyvuvtvtuvtJKZdlJJihkcdcYllYaXcbbipeeXdhhdglhWhjqilqqloopmmnKIiglpsplnlvswwvxz33x2002232354324354343224427655345657446756773473755467657646465726666655566645746423565443433343023552z113202z1100111z23101yyx0300z0zzxy1yvxxzwxwywwvvvwwywvwutpwvxuwwvvyusttkmVbiSUhjbgZggdaiKHinbjnhdlgnfeijkdjLMhkknakloqplppnpnurrqsnusuqrs012z2z1005z15433433231434454555546755765553666434674654474664666675566666457444676744436612465236401z22xxy12z0101zz02yy222zz2zxz011zxywvvu00y0xwxxtvxzyzxsvwxuwuvqrspvwyywxtvutkhhhiWelkhjjmmJVciZgmnYfihjjiiejikXjmmmlgdmmokmqqlqpstljfookqsxtxxy1zy123111zz32334332223472354744244544453456564445866663566747438884576546553566667456376665653144530232231124220x1z0yz21yxz13yzyzxwvvtxwxzzxxxtxvwvyx0yxuuuuuwvtqtvuvstvvttrswcggKLphWalkioocfkpmkgskhcgkprmegffgloopohfnmonnjmloqttoqrqwptwztzyz2wz125444323555654352457556564455786744578787657576789755776757998787576787777898756887787655524555445313z322241230122xzwyz1311zzy00120xzzvvxzyzuxyzx0zvttstuwvvuvvvyxqrtuxurvhnhKHiMAgjfkgLLlmheaKNkdfhYgllXdjjdmpnljjlMmkdnkedjoonhqsqplspwwxwwyuxxz13330yz1213232316444422243346623324635564121516555322555465556764665436466566463555232zz0344220231zyvzxyxzz00ywzzxzyw0yy1xsxzzwzyxxyxwvvwrwxuutuzustrppstrqsqorrurpvxttvscffkeccZfmmeTdigkiAXjomkfcjkjdfikljohgcorpprqqrnmorrpmosvvuuuy01023221332445455466766635766756475645843555575777885675585985797868785589986657988797888675745442244423034522140020102222334301001z0111zzzyz0000xvsvwyvwxyxxuwyyzywwwxtwutyvyzyxxuimnfbijiimohZbimkjdgiMmnilmlmjlnkqsgfpZjroornqmiqrrsorutxOyuvz0zz034424225754685577787656759686848669879666976+89877888+8988986879797699+9966879978798898866877555544523452225112322233y1450000020z23002zyyxy111xxvxswwyxyxv0zxxxxwytusvtyvxuutuznmofcmhlnnqphiiokfVYmnmnmnojokmjoospnmgjmmmorplltrrstsutwwvuzzy02244422156855687556796687979698978879899777879+++99+89++879+9969799/+9789++7889+8998988+8987889865455566453334323345454x12200550331310211z0210wywzz2oywyyxvwwvxyx0zzwuyyxy0wvuxvzhhjhioiZZLLjmmokZdeckhhgmhninnmepfiohiklmhjllkmlrpmlrnrprssvuuvwzy33233033545354435543364556676557856567554437788677776775645547355776667485556886656766677666652323522zz1121122y120z10z10uwx20z0zyyv01zyxvyv0wwwwxysxvuvsrrxvuxwwuywuutxxxwxtuvpaihkZQhfPKhajbfYHKlifJKfgggghmlmijliiohlohlkidjnljminmrpqurpswvww01113313344112333333464656554433654456656663674756465454645132656376476556444567455454456234643443340z0112100z01z0vvxz102vwvzyxyx0zvx0xvwxwyusvxuvwvvwsrsssxwuvwwrwwvrltwympusshkhekaJLnbigilfRckojhefkinninjmiobfmkmmiimnoprmoprpnnstrsuwstuvxx121665436666653546665466987657774665887767665899678556669998575759887766776785667878876666877875756263353433120z1320y333013222110234032200210zzxzzz1xwyxyxxvxvvxzxuwyxxwx11ttxvtodiejfdfnllillihgkkhjjinbhnZljigeiYkKhkjqormkpqmnupopktnmpurqrsux00124333413343334455424676635666334245487746777755754676858957576876675576568555456646433386844254434435130223y1231114310y1xx2wz1z11w023wyyz00utywz1uxxvvtwtqrtwuwsyuowwyvrpuuwusATafdkhghgomkigLLmkkihZbgkhmonliojiimnKponhalikklqromropostupvpux0z233215461444632344444455455442413446564566555658445534478663878866565456676656665655445646555266535333212211120y2114z10zyz0zz1y0zxvxzxwxwwvtxzswxuvwttrtusutttsvywuxstnovtsurrdeagbmdglbJllmUedgfjSehiehgjmmiimjnnkqnkjqqhOMNqouqqprqnqtuuwzuww012544z2355535621545564543344335545704454677566457467577887776777857755565766856657776855544555442355z1532112003112000y1yyy0wyzy1z0zxzztxv0zyuzzuutywwvuvurwwuqqsttrwxqxnqurvutqUYkigiWHdhghnoflinihXejklhcbikjggdncZaffUihilnpmoqqqrqonttruxwxvy1013310y123242433134311452133565335613455446361247566547664464656656556445356661557564434343543422131zz1zx113212z001yxuztxyyxxywyy0zzz0uxt0vwqwuptsvvuzvyyqustxwvqroruovrtrovtupAAihfJVjfhfljgiYfiihkbdgifdfdmedgllXdcefgpZkknnjjlqpsrtuutosroq000zz0z20011222022202243465424566553363444502036445767466967643555774664453533265566635676402334342202222200ywx023z1zzx0z0y0yw101zyz0z001yvtwrssvvwuvvurvtuzvtsotrssurromrtutsuvqtAAOZfjiigahkihjjlilhjnjMVYTkfniiJNgdkpojLMlhllloimnltsptqpsstvuyz21210245333535434556656787867865645948777565778787677999786765578878987877666868876667866676675446354322321101331201211330z2401311010y1zyxxvxyzzzy0xyywxxwwuysvuuvxwxrstxxxwvvsyVXdciWhhLIceniflhjhMJLfNVZhoooolakYbjmollmrilllhoprLnmnsmnquvuyxwz2231166512354631162666866747766634776757455577756576876577886888566798555677788699565546665765344221032321xzy1201xz201000112211120yxwyzyttzwusxxvxvxwvuwyyxwrvtuvuwwwvxyvvssswsRJYVVGjmHiecofhfYiophkchgjkoqkqnmliiklggqrpnMojpsspqsuttlswrvuyxzzz02533343542346045337787565877764656566656877654656678657687777888857866566677689955556665464413331202223222z2332yw112001z10111z01yzyxxxwvxvwuzzruutwuwxxwxtxyxtuuuwwuyxwsswoyubXEfkYeadifgmcikkmlmnhffijgjkJYlmfnlYgdorljmnpssqspfjurqusyuuvwxyz0334301433235345675478776555666866565788668876444476887866764657886578975554667889667444466662345535453220331154310z010z2zz1z3001111uxzu00zwuy0yuxvrzxvwwvwuxzyvutzxwvssrrstprvYVHbdbAilikmpfhljpnhhjcjahfeYjZemLMpmqlqqgnmnblsnnnhlnurusvvvvxy003522322442z334566764678665464576767848885667676666767687765765677767556466667677777866545568534542240253y0121z11011100zw2002v3yz111xyyxxxzx0y0xzyyvzyuvtw1zyxstpqquuwvtwsuvttqsOcYRgacjoZjcfZbZhnnkikilghYSjsqrLpckolpnnfimhnplilnpsqvvrrtyzwxw013434432434453444377666777556777677767877766988869+7787876668765998665+77876887777799775776564545434312410112212z12411z011142z12110zzzzuzy0y1100xzxvvxuxvx00wxuurqstvtrvxxwwsrrschTDfelFbDFEjFDEDEfjDFFFDDAHUFILFGiiliFFcZFhEhkgfFFmqHoqmptwvsuttvzz000yz203222321y344513344434334642355443223512146446765351231z4551129775455465425643415533z14121131021xxyyzyzywxy0w0yyz0y0yxwvuwuuyuxuxvuutsyzstusnwvtttxstssqrnwqtrqttustqoltjFEfGFFEgimFqGChhdZEEhFEghFfEgFpqsFGnGplllGGGGqnqGGGoHuutwxwyyyxy13245523545466747756988876777767787877978877897668888+9777876767868679//9889877678887888986746625535456232433431013433322311013yz1zy211xy0y11yxwtwzzxzzzzzzqwvvxxvwvvxuwvwvywuuzgdgdlihijkMJhjAceVdTnpfXldeYkhpGcShhYTgiehokhjohlgjklpqrslutvurysx00z02yz211134523434433534446544524454544543462524514542465655433543575563535543354533455543142101y1202y0z0z0xxwxzzz1xzzyysvrxzxwzytxvypxvuuyvvspsvwuutvutstmsovwuropqqrtigltsoqjikZejjiiZkdjlbnbcaTdclnoijglgdTOXlikebhelgcfgnmkqnmpppqwuvywvruv24102524547114634557765867647575655576867776686878776887676876774575687575456768777666368977785523056534102132z42311044311yzy00zz21yvw2yyyyywxzxvwvvxuvwwtvvwusvwxwsvvuuwuqtvwtuiEFhjMcZERFGFFFFccFEhikdEgeCEjAADijifilijlkkkoojfumkophkuyxtyxwxvx312353455501144552655757765545776557665655489555546677987444355344545557845576767557636568956322442234430014z032111010z10yzz1zxw11xuy0vuwsvvy0vyusrvuuoysstyrtsupruvrootvsyvyxueYjhhUhffIWigmfYdAjeblhbecelajiYejklnpqpriecpojfYhtujnomiqwuvx0zxx14125567673455564546776788865656544566567479+668766977987777554666655686+454646587866676667663446432333222342202133022011y100z0021yyyzy1wwwyzzw2vvxxvvqywrvvwtuupuuwwuuuutxvwuwFfhkkgXaegHFpolcjObbibVhheinilhhefhhkkkplhfinMMnbfnobjnlipqttrxxwx0x01323324222324351313567543542323125734334773355324556427554553223256767122543465533411413541101zz0z0zz00yzyxz00yzwxxyzxzvwuxxwuxvvvvuvttuyyxxztwvtuuuxplrpqrtwsiouttstqpsrortbMkkiieZUlienogllgPjjgfjhigmmmhjijgloljpqoiljlnvspopopsovtuvywyy003126435736636544574467875457787667667746977887656666+99899886976767679787569+97787976666876574424013041443220031011110y2z2100z100zyyz0xuts13xwxxzyxuvyz0xvrvvstwxuryssvvuvuvuvyhjfWaQVlRFIlfahjKIAongWhdZNSqjcLnihekYjkikflmmgrnmonrutuwutxx0vv123214445535744631466455874445656544656723766546667476877576687835567889547777866557776573675664432123y231151yy00zz01z111111z0zyzzuvsyzyy0tuxywyuwxwxuxxuwvrmsurwxswvxurvrtquyxqsKJhIdAbdcYcfkffXgfROXfakhYUaLImlokleKJlgeiimoojoiRmlpprrvsrxswwuz12130114151344560334444546546534664445755565666555376766557344645341487546655435555455663333433240z4301122220z2y0xvyxx00xywy1xxuxrzywwvyuvxvvwxutvuqrxvrrroqqtrtsnrnrvttwvprtxsugdiiePgediQVghgcOXPfIjijnZbYkdjokfjjhlfdZgXgkgohmjmWmlpwpkmuvtvxx0z03y0131102436541665354576533542555556766647765553566364342335455434775455455455545546860z2334121021y1z00z100210xywwvwwx0xxzvuwwuyzxwvtuwvwwuuswuuqsstrurvuwwpqrttssqtqtsnrpsptfeekhfbDQegfHcjhYbagZUfeZegdjfeLGVlllniflebnkiheprnhnhjqonrwyww00wy321211z00012433146425345245253455444442233466114535433312344424454345332235354343443443251135022zyzvzy0xyvxxzyxvxxwxxzyz1z2zwxvtxxuuwvxswxutstspwswrtvvtussspstuwtusuqvsptqsqqFAAijZgcPVhibiiefgdUgdhgZhhbjcjlhihkjLLmdWjmegjhmpoafonsnrtustz0vwz221202350223453555544344447654446476554256466426566345521256764577345535544446543454466473454110wzu1xw1z0wvv00zyyyyxzy00yz1wwwtrxwtwuvxuxzyxqsvtsqssyvwvwwrusuvuswxvuwustsqpttZXbllehigYdmmjiejfeVhdoeaebZflqhjggPollqfgjiXPqNNrqltvptqsuvwv11vx034432445546777779888687778888877868787877876877898997885457798888887777767566698675667866557532212z12011zz21121zz000000yy00x0uu00z10xuwzxz0wvwwxuwuwxvwxwwuvvtvvtvyttwxwtwtuuuYfggeaohWMZGcbcegfhTVWhZKahaaokUjggTllkmdjaichljkhmnsoqqqputpxyxvyy23200420225465535877666566777767678885656555776576777653245567556656566634555477654565456445211121002zz00wzzyyxxv0w0xzyywwuu0uvyyyzyzwywxvswwuwxutvwvtntuvuvsprtsotwusutstttpqdcYdVWijZVWJiSbXddZDIWhhWKeKKVegjKMQPifegdhmjnkfommlomoqsvonqtvvvx23410132010203134454547757467666565657434635733756654356565555445543556543554756764544354421321x0100xz0zwzz01yxwwwzxzt1xxwxwuxxwwwxvvvwzyxvtvvztvuvrtsunpqxxusutttsuuurtoruusstAiaAhfhicQPLhSJEabOUUYikVNljgNghkKATAbTZcXcjiijkkpopkprtsusqoqtqxy0022000111zy121054422453254445441534342244445325555252565544244433437554424414445522414432zz01zxyyxyxywxxzxvwww0zyyytsxuxvzwxstuxxuuvuwxvwxstruotuunuuttlqvrrrqporruttrqqmtusvsARaWeYXefUVAAObZWZcAIDadAAkllAbKLlTcZfAAZiddeYbjdlhjdnrlitsjktuuvwxy02zzz0yxzyz421112zz251z241320421122423234344444441521153443322244085203334144522200z522z01zzxv00vwzzxvywwvtrsswtstwussusyvsqsusuqyzzwwqvvssmnqvqunoyyrlqrstvqrllqpurtuwkomqtsOXZaCEJcPYPAPWNZVZaSGWcAAJSghcYhXYAcdIAUXZAAASijWdXSinieinknotrwutz0yuuxzxwrvvx1yzzvwwzz2yyxzz1yx1wxz101zz010yx20131xy0101120zzxwv021z220z0yxyz0000yz0000v1wyzzwwruwmrtyvwnvvustlinqriplrmorusllmnmkftxvsonsolimppqpopktrmnqrsrpmpkmqpmmikqqtpmmofebXAAOZAdVAUbIXllmZYhcAVfHXQhcfAUdcbGAaXYXAbdiojlglqqtuvpnvxruwwz12100344311100z4534356745646454555665764835765566666565744455413466767756666536254665421344330yyzurxw11xw0zzuzvvwwxvuswxywzvutwxyxtyzywxuuvssvwvurutttvuqqqtvwqwrvuupusqrtvwusvXZZVAOAgUfYAabARgdfBYTgfcfcSbcedcILHQAShWhcdedWilggcfqptqroownruxwyyy102y43111yzz1224346646454244365533456465573363366554643555402242775466453268254442232210331xwwytvvxytvxxxuyzxxwxrutvyxuwvvvxwyvopqywsrtvvuttsruqjrsvuqtqvvwrwvtwvovprpptqpuvADFWTdfZddJHJNKikafdfdeYMfcdkWjieiceAAKgghTXhffgfceaamnlmsukuurrvwz121wxv33010z213344137657346465584534446357354575446765554555545553466164553355432433542101131y0zzvxvuwwzyzzztzywxwtvwzzxuwyxuxtxtruuwuuvtt0lknrpyukpryuuqstuurwsvuspsptuquurtvHQObYKVgfZibdaYhehhidjigegjXYAXemnlcHQeYjkgjJWbigcbZkimoprplosvvsvv1221z0232333103432253132125342462523453446533244433643443335546312135243444144432220401012001wxywxxyxsyzvuvvvvwuuwuuvuyvvwwquxvvtutswqvsrtwusutqqoostuuqpotvtqulrrnrqsjstNOposZfPWbPPZXRfZagefOLWRRXTfKZgKAADYacfWeaARddfgAHipnfddeiYhlrqplqsuuvwyuxxw0x0001uvzy00y0zzy2120xw3220zxy0311052313210013420311101112110011202110222z1x4ywxz1vyvzzwqqtutoosnqurvustssuvtqrlqptqpoptsunrssospsnusrtqtqnllpqrutljiprnjrnpqqjklkokqpgpmAbAZFATAAAAbZeZeLCCAYWWgAACZYaJJWTZGDATWZPAZJUhiigggYWLilrqthoruuwwxuyttxwz0xuvtxxvxx0xxyz32100100yx0121x0112z22110z0332w1zz221y04z02110z0yy0x00zz2z401yw0zzy10xvuvttohwwqvvqsprsuqrjqtrssusnlsrssmnonenpoprrqsnppmnokqrtspsomorosoorjhrpopnjiknhUAaVbULAAAMeAbRAZZAReWQWAAQfdQZPfUaUTKIFbeGUNYXcggULAAejknprpjnqptxyyywtwxyyzvyzw0vuz22y1141430012y0000200313110y03342101111321wx2z1200000zy1z01z0210zy0xxz0yy0wzyysvvouwrttpqotqurrkrvstrtvrsmoropopmmpmqhigtporrrsnpsglorsqllpqrsppnjqolrppsrnehfXUVbTaATYSAIYYffdbdVOSRPUibUTNbVUUAQddaYQRUnjOhZeeihhqqlpmtqspswxz101w01001y13241z34424343050324344445333355522151232464524522230333441235001302014303320yut2zywwtsupstytqqtquruqpqvuqqsrtvursupsuqprqonppqtprrtvvprrjnopsspqrsuwunoktmvttstspocXfAGZUVAWeSPZRNchZYUPXNAcMVDAdeOWNLIPdhbIhRbkofYTgkimlmrrmhrppnsswyy01yz000z0y011132344433420012431112433223321111zx332323234311022123102121111xyxx01z0102wvvyuxvvqssrqorppuvsrttutuusosqqwxruoqnqqporronqrttltsqsrGGpoplmoqmMGGvvqpkGqnrrlLCGmnCXKTVbGfdaSKAUKOLYKdVWZgYbDPOANeSbAXSAbIUAcDefhcYdbjihiijogotstortuzxyyvwwx0010123z10y1222112032312022123323342320x20221331332011234331z011x1z21yz0v300yyz1yzzysvtxtvtsnrnpptswsuosussrpoqnowttswwxlrsvsrtststmsppnqjmsoqqqpttspousqqnusqpsleijklAUSYKgMXMSAOGWASOAOOLANiZdaaASAALVNaTgUiAdLIehXjfjimmJihgielrttusyvyvxutyvyzy012z1z01z0012021012210033112313333421141132323422z21325432z201z1123zx201zy0zzzuyxvuwvsxxvtutrtttsvstoqtrttntstqstvrsryroxusppqutomprsrrqrrmrtrnrtsrospmptwppsnioopnpAAGPROAAAHYZUUUAASadLRAZeZliZPEVXeYZAjdHEUhYPZajhhipeXnjhinnhtvtqvuyuwuuyuzyxz1yy01101201zy01z13101334132204312412331045224341xzy3031z21102z3x000y21xvzwx1wwyzyuvutvyvtxrqompvususwrsruquuvttuvvrqttsvqnrjprurnrwxnrwvustpoknrnonushmvvmronqusompAAPXAAFCAAZdSFPAANiUbUAZYJbfAAQdfZhRAYijkZfhbPSTjfikdbflfhknbmmkojrvrwuwuvwwyxzwyyyxwzzywzzwx102yz0000z20013311101y0z212222z00wyw1yz1y42010yzwx0wwy0xwxvz2wvvyzvpovqxpotptrmpvrpqoqpqotslrmtqrsvvnmvtpkoqovumpmosqpppruqrprnquoEEjGGGmmloorsuGFGGWYRAAATUJdAKAUAAAWXAQaEZKWLZAdcbbabdAAOheQdggOIHiegimglnmeqmqqqMMovwvwsz10vwy0zy2wzx102103130201zz00yzz4324z322322z2102315432311v2323y0112434000yvzz0xvw011wvxyvuvsqsqlqnrqprvtuuopioqsqmwtvrqpsuopsrspsuorqpsqsrsvrtwxrsnvqrotqrgkirrrqtutptrplnTSXAAGLNPbTAARbabQAZAAUAMZAbZfPNeATaICXJfhjcNYdefdgYYlllniplmtspnqonvtstvxyvtyywzwzzy0zxx1zy01xz00zz12232422z013xyz02011x301204zu23110230220zz0ywxzy1vwuvxvvtqxwvqqpopnronnussrgspponrsptutttpuuqspqsrsturfZksrvuxxusttprpussonvomprtwutsrurjpjkjRAWEBIKNPQYAVZGTddNOBAUQVXIaYSRJTdjAAIOXVUdXUdSZiTZXXhjjfcrldormbjjortsorsyrqvutvuwxyvvprvxvvzuwxywwxx0y12z0zwy1vvyxxzzxvuvxxz0xxzywyz1zz0zuuxurrsxvwutsvvwvwprrtnqplrqrmljqsnphnomjcjomcjmrnntrprpqqjqsqlolntonsstqnnqqoknjjqpspllqtsronoqnnpopiRIARQHVXPAAIagLQAXBAGdYIIXFDAAAVYadAAAAaVYAARZMfbRifdjkgfimkhqqmhfkspqrqnnonrtvusqruwpwtutxrsrwvyzxwxyxvxvxvvvyyuwxssuzxtsuuxy000tvtxvtqwtusrtqustxrtvpvwwxvqoqjommkeplnghjnoilmkmigbmooXemslmpnqnnkpmqqidonmsoonkrnhopnljmhjpnpnhkooNmcknnfgjmnkQPOTacYaAAAAZcXfARAAbjGWZeUQRUaMQdNXAAPaJYSALQSlaihkjcfVdnpsmklqqpstlponttrpsvyx0vsxuuzxxyzxv00zvxy00ywwvwwwxzzyvzzzxx0yyyyxywy01xywyz0twvvywvyyzxwurvrwuvvtpovqorpkmppnrpomlmprphhmktbsqsutnopmplpjnsqpnqnmntpopppplpksslosprtonmlnmmkiljrkqomnrVGFNbATAATHAAAAZAWaIUTASZRSLOSWAdUDVUUZVWaWAdAbfcekicabfKKnneXnmqorsojsqvotptuuwyvqqustuppvxxyyxvvvyxxwwquw0rvwssvwxy0xvvuvvxwswwxzywwvrvtuxtsuwwupsqqpvtutrqsrpjmnmmlopqmmmldgpspjpmoelltsojkfppjnhinhakpplkrrronmooiopjioomnommmdjcllnkemcmhkkgcYKVTAUUZcAAAAATKUPaTQAZeAAHLTYAUAYSYOLFbldXZWATPGjVajcidbgnjhjmjooksktoqplrtopwytrurustsorxsrtwtttstutwvqvxwwtrqwuxxvpoptvtptpvsyvxwuvwttuvptvuurtqotpsrtnopouplrqsehjqrpkonkjorpqomlpokqplolknmkkokjhgrhoijnmjjolidlnnlqolngllpplpUsrogfihlnqpiAAAAIPUSTIAAJdAAAIBbPAWfgeAAWAldhfeSTSNWdIbcAAANQXicILhfeeILhXSfcproolrqmpmuurssxusursssssrwuwwwtvsttxvvxsuvwvosswutvssloxxwqsrtkrvxuttxtvyxsswrtprnnqsuuttsrstpiromldipigqkqqnJMmnmLlsonppornnlkkksqmnppkqiniKhmnihclpmkfkfupmkplhgdsslhikloirpgaSUAAZJNYOQATcZAAAPAAAOaSZAQSAeYbffhOGPddAKdVAKLUIYEJiVXiAAZikhefiqrqrunoposvpmuusrtsustttmruwssvtstvwyxywvvxwptuuwpwrqtmzzwuutptuxwvwvxsruvxqsrvpouwqqtsrwurqrkljplokhkfjhhqonQhqmmqknnkMomkmimWSnnpjjqpqlgleffkLYnnnnhkemljiYlrofhgnrkpnlgpZiembQcWSRAPLdAAVQbWAAAAAABAAYAAAABALWNUUYLiZXAbeOdWQVVQKXMefZOJjmlklnssqsqhkoqorpruqnqttqprvtontspusruuvrtututwvtvywwvsxusojvvuqtvuovvxxsrwvuxromqttssuvpnsstrptstmrnjrrrornlicnnmZjkljmnimnjKLlonhklmomhglromliglmlnmmlokmhmikelglkifijnqmrnikjgLkoUAHVAAAAQLAAAAARNAAAYgAAASASMYWAOMSAEIPUAUAMLceZecbRhcYchieQlkkjlpsrMKkossutqnqtsrrrunntttttuqswuvsuwutrquqtuszznpsxyopmrvvvtvvoptqtxwtxuuyqxstotutpsqruqvspvssttjioprrtsfikipmhilqlmsnpooomnljehsprijihkkhookmlippoglgikplqstionYZoppmmkmjlhjhpoGVACAAAACOVJQLAKQAHJaUNRAAAAXVaZAAVRUQICDEcSFHcciakggiEEcgYVhkijfrmwkopqppsOMsltqsqrsrqqoquqpquwxwvuvuvwqqrsvryxuupuvrpsuuutrstrutssxxttsuvoxtvwqqpvusqrtvuuvstrrnnolqlongirmspmMMKpppMMoqpppolnioitippmmmhmqkgminnkgmjlfonoprhnmjenSddqnpoklikqLFHGHGHGFDFGAAAGFFHHHAAHGAFFAAAAHHGHFGGHGFAGAAAFGHHEFGGFFGGFHHGIGGGGFHEGFHFHFHFHGFFIHFGGIGGGFFHHFFHGFHFFHGGGFHFHFGHHHGFFGHGHHEHFHFHFGFGHGGGFGFGGGFHFHGGFHGGGEHHHGHHGGFGEHFFFGHEGFIGFHGFHFGHHEGFIGHGGGGGEGEGGGFGHHHGGFGHFFGGFHFGHGFHFHGGGHHHEHHFGGGEFFFGAAAAFABADEGEFDGAAAAAEGEFDAEFADDDDDGAAAAGEFEGFGGEGGFFGDFEEGGEGDFGFEEEFGGFFEEEGFFGGGGGGEEDEEEEFEFEEEFFEEFEGFEFFFEGDEGDEGGDFEDFEFFFFFDDGDGFEFFGEFGGEDGGGGFGGEGFEGGGFGEEGEEDFFFGFGEEFDDFGFEFGFEEDGDGDFEGGEFEFFFGGFGEEFFGEGEEEGFEGEGFEFFGEEGGDGEFGFEADAAAAFHHGHFGHFHGGACACAGGEFAHFGGHFAAEAAEAFEEFAEGGEHGHGFAHEHGFFEGFEEEEGFHHGEGFGHGGEEHFGEGEFFGFEGHEFEFHEGEEHGFFGHEGGFGFFFFGGFHEEEHHEHHHGEEGGHGFHHGEHFFGHGGHEEFGGGFGGGGEHFEFHGHHFFFHFEGEEGEGGFEEFFEGEFFFGEGGHGFFEFFGGFFFHGEEGEFHEGFFFGFFGFFEGFGGEAAATDLSANXCTRVMKUdAAKAAAAFXXXITJBOKWPAAGXNXDbdKOAdQTQReffigHiinolmqkgnpmsrrplrsqpkutnilqossopppuoqpoqssusvqqrpnrlmrqqnpmqqxrosmqpouutjprurolqqkqstoopqqsuiidutosqmkhjhcdpnmjpgpglpjmoqohjqjkjidpmldaaomminpFXpkindkilifailhkiogigihfhdgoohmnmmqrmXWWAOWARJSVgZgNFHIOCAASYYWZUDROCITIFAHIDheZSjjgJIgddafcfXgOhknmolookhsrsvvrrpruvtrwtpnhtssttvuuwqvvtvssrOOvussrwpststuwsvvusrrsttrtsvqutokqqtuottuttrvutwrkoxwutqomqrrilpplitkomhkknmspolpoMMrimhkjjhmlpmonfhnonmionmlpphnlngjkmnmpoomnonmopmprrnaRGAAAaAAAAXQfSaYLVONHHYbAAPaWbSPMVKKULAgBAbEIdKAHTffdKMAHYcckiOVWLIUqogprolkjlorijjhfpjmnlrookmuronlpmlnpruqqtwprlionqrqLmlssqtricsogqroppnkjflkpqnoqsrsngnkmolkmlnojhYcckmkaVfmjimkngidkjfjfWljjkkijljlomhhilmbkgoiejnmilkccbbfgYgffkeQdZjiilidAJAOQKXAAAAQQTZUVPEMAbOfaGAPYQNaZIAAYAbTfOAAQWZVAMQZgdAGMbcXSffgmdgggkojlilleifTiaKJkijmnknqqmgpulpmprknjnqmspsuupminLLmkekgrpnqpkjtohokqlsqimpnjoqkjpolfcfjPjlfgnkgfikghKArjajhmnmmlnhdipjhikinrmefejfeiigdimWqkojhgYekhafgehWbgaYgcTjTOXcbkhlZhWYKPbaAXAAIAAMUTUAAAAUEbUWCNSVSgAVAVAAcNXbNRSVeSAZafchAPjWZaRWkkohdfjYXlnlnmqonoqgkqjioqlspqrMLsupqtttotrqonqnoroqnpnrnvnihstposrrqtjpsqoqpsnptpsqpsotrnjhhljlkhpNKjjkkjigcplijlllmljjifdlinokjnkkioolXXbjdoooinnonnfXkmgghblhgpjebZWflhggmhmkicjQIDABMAASJOABAIWVCXZfYAITYBNHDSeKUAFbZNFIcbWTAGeegNahXAAhLfRhjYpmlifYbbdtsnjtnlmonnscpssrsoqnrrpwtrvssturpmpotnrsruptspvqrsvwnkmqrtussomortotsqrqsostqrqfpkikmnpolghjGhFFFmGmfgfFFhgolmGgkFFGciojjkpooFkjnjmmmnmnhlGjKLmhdiiGhhGGolkIbfpolmKMdDEFIRWMAAAgeWRAVALWYedIXbBCRIIXeZfihXRTbTKUfeRZdZVdXbUYWdAhichZeeZhgclmkgpLkpkgolmmbnornpustpnmjqoqtsMNqpqkqkmmlorrrqrksonpolqrrpnljuuskksajmnnqpomusqnqlilfrnmVecuiilmgljklhllnajjfhffhnllmohjSAblgfqpmlmedoiakhoqkjjnlmijdZehncmnppholeccejeosoklpAAVWVQAfSAQAUAOWBccLAYSTcdbKEaUEaePHbXAAIAAHAAMkhmPGAQJjgmbeiMaedegaomlklmnmmmkgknkrolrsopopmnjsprnjlgsrsonokmkpnpqstmlqoorrkmkplqqokmrbcmqqpolgtpmkrpqqnlmrhrotnmotolkniabklenXcamijlmlnPKoiihmlgnnmjhkjjklgiklkielmmlmlhcjmGnnpedjkgfjVWRbqmjkoASQAAAARRAAAVWMWHXdcAZbYWbdOORUAeaHAAIUCRANAARfjglcaTKabeinLLYJKdifIkpggnnnmokhhjqpminnjapolirrtqtmknhjqoqjqpnhnmlmnohnjijppqolqmnqlolnjdhhkkoplponejhiqVhcnmnmlmjjpoihqfMHWnJhXlklmmXhkmXankkgmielkjefjgihmkjmmjcfaVmddmknclRjopjcfjbikiidPmjjPeAIAAAAZAIKAAAAAXUPfXYLMYAXcXYRYCFOAFaZPVPNRAQWZfhkdiSZiejSlleifkifhcfhZcjlnqnqprlrurtolgqqotntvrsqmrsmjMrossrqrrhnrrrmnprmojppmpmoqntrppljplrquoqspllcitknjlspppqmkkklkndZfhjdgfiomlOHmigciiaVjnjgiejPepgpTTXpqsqoibVhfLLpkhjWdmmfkelhmhkmhkgilegAAAAAITAHAMAHZASNQYEVADfZcddAAMOAGIObAAMlAGKWYRKJgXbRXaYfbeYincecigWmmjHkliimopsnqhlpmmnidmokpronlmmlpsknfnrlpnojnruupmnqrqljnkrLNlmlooknloqpjpmrlhlicinpdklrpmnjecjkkkhXcckjkglholeaamhjSYjgbcfiRgenidlnbMXchfoodWefZfebjgcmNRidhhfkqXSjklmllkhgSAARKABAAPEAARYSWcVZVFOVUVFYagSYRFAXMAMZjMcKWVWimgbceVcbfMLLKgXojnnKMnokbghmqqrurqpsrsqlqpomlpovopkipusrpktvqstnqssrrppnoNNoolstrNomlmnprqsqqsunpkmqnppnompklknnjijgliqocichjmjkomkejjqhggjnnpbehelfrrojljiolLKpsqpjkjnlllhillimlqlljmhinjlnMIfopWWAAAAEHAAAAAAYAYVBPAADLMAaAAhcAdXFFJAJTdiSCTAAUhPgdhUaJTdnjeXkgbedbjmkjjgkjnlrsqtknlZiijngiqiloooqjjnpqnkqhamompjqpKLkomrlijlmpnLlnmlnnaeopqsrnompnkkohpkjclAXjikiafMikhjgfigfcmjfYhoKYThlmklfegkkYXelhmkigmgijllnldXhiimhmldboqmgmfihlnlffianspHFAAFFFGAAAAAAAAFGFAAAEBEGEAAEFAGEHEGAAAAHAHGEAFEFFEEGFAHHGEGEFEFHGFGHHHFEEFEFGFGHGEFGGGGFGGGEGGGEHGFEEFFGEFGGGHEHFFEEGEGGGGFEHFEEHGGFHEEEEFFFGEEHEHFHHHGFGFGFGFFFEEGGHEFGGFGFEFGFFGHEHGFFFGGGGGEEFFAGFGHFHHEGEFFHGFEFFGFEFFGAGGFGEFEEEHGFFEFFGGGFEAAGDEFFAFFFEADAADFEAAAABEGEAAADAEFEFADEAEGFEEFGECEFEGEEDEGGGGFGFEEGEFFEFGGEGEDEGEFGEEEDFEFEFEGDEGGEGFGDFGEFEFGEGFEEFFGEFEFFFEFFEGGEFDEGDEFGGDGEFEEGFGEFEEGEGEEGDFEEFEFFGGEEEFEDEFEEFFEEGGEGEGDEFDFFFEFFFEGGEGEEEFFEFFGEGDEEAFEDFEGEFEFEFFGGFEGFGIGAAIIFFAEAAEIEIIIFIGAAAAIGAGFIHCAHAHFGGFGAIHHHGGGHGHHFGHHHIIHIGIIIGIGHIGGHGGHGFIFGIFIHGIGGIHHHHHHGIFIHGGHFIGFGHGGGFIGIHHIHHHHHHGFGGHHIIGHHIHFIHGIGHFIHIHGHFGFGHGGGHIGIGIIIGFGGHHIHGIHHGIFGIIIGGHHHHGGGGGIGFHIFFFFGHHIFFHIHGFFIGFGHGFGIGIHGEGGFGHEOLQUAXBAAAAKZaWcPARPAVTTAXJbehcWbAAITAAHAARYWAdjfZAYacchSVUfhhnljjdmjdipmlijfnqkoptonnpsprjmllonhotulqpqmonllqrsrrsmpljqsqsutnNrnokgqsmnmljmonmoooonmlnZrnmjqqddjjkeikhnkehhbpiclgdqfopqifmnnZdlfmmmkmjgfjollehfahZhhghifmrqqPAlijmnikchjjZfmceOHZXcdZAXZVVAFNaZaFAUVABQQAGLiXfTAYAALTAARAAXKAATdifGdfcZXVaajjZkhnnkmomplhiXlnonlomuforuttttpmomooopootrqrriljolppqrnooqspnpnmmommtvrqqllsqkolpoeoolnnltqujjjipkbhdjmqkeehjlnjiWMjkVfRpnnlhhfgkfjejonlmnhjmkhUoihhpjkefjminlpmYXicjkononhlpommilAAIRdhcUXAdcbSAOPUWAAVGNAAJGAPCTLARCZcQZJNOTOAAAAAAhZideZYAZbQJHdSjilYckmlednnlqnllKLejlqpmmoocpklojkjnsqjkjmdpnmqlinderpopjgnjlfWbtmkpngfhpilcdblnpkmposstQimZlcdZYfaiVlgXaiklcfWgklfOnijcjkgioooWWcahjhijckdalgLMkbghdkghpkmomlaShhlqZojmomjfklAHGAGbVTTAQAAOUUAAAAAVVZIOcaOATPAATMOOOUWdaKWZAbETAljjbgbeggiQdbdflmgiicdqojprnpnsqoqolpnqnlmrqolmompqqsMMnprprlnsqnppmsrsriksospfksmepnghflpklporigqsrpsuNqkpqpklfUgkjdkgbkiqnlkaeqtqhplljfkgXollgefYjkmkmjmplpnnmlIKidkkgcrimokccnlpniokqpnonnnAAbAARAAAAAAASZRAOAAPMACALaafYAAASUXcGAAXXKZTcOdYcabacRTSeifmXUXWklpkjjbWdiglqpqhnhprqilpmkkYkmoopoghrrlmrtpmolnkmiffopqpplempnnjjmpkpnqigjlmekqnkngnoamlonjnmpnkjeVVQdSGoiiYmhidUfkppkllgpeMhejcaodhdlmoehkiikkpomjaabYaeamnjfdfjGjeKJgccdpggeolULMFAQAXAAAAAXeSAcNIPMAAAHLAZdARAIHhiAQRXeWOLYIbLOeghAAAAKlheYaaMeghnhebedXfdrefljgopnmojkmoeppronkegksomopkmpmqmlqppqqeomoorOstqrllmrjolrqlnKlpqiljjiZmnqnhmmmhooMIggfhhminjleNjfhbhklmnaiggkjJooqjkfhgibkighghnimmpAkknnipomjmomgiklgmlndffjjpqBAASADAVIaTLAPDUQaYaAANRAAAAabAAAMCVgPZCWbaWAIHHcaGYJEcRHihfdeUeLebjlRnbWiggllhnihnrrlrqjnslisrsojlljlormqmnglhpmsuqplimomhnqqqpnqkqkjpoopopmfmrmqnknkdhhgimqpmdjloWbnghGqmppMJFFFGhmFGFifeeialFFFnnkllklhnhZVAGFigmkBkFGlimjomghkijkFEfkglkjhZGGXaATAAAaAMAPAREPUaOMAMAAVAAARQVAAAIWbOXNHABHWUeZJIANQYabgccGLnbaakjkmUmWVmjkplrokkosqmolopqippnolenqptssonnmiqnoqsulklmqmjhijjgmooqqonpnpqpqogonppnkmimpqfkkrnkekhffiieWkqmnljkkkXrnkfmjommliaKJjdqpYommhnlhfogphhejjgmaiekknpnXmlnnjnkbcpjljjYokPcPYAAALAWUZAAAAAOAAAQAMbAScUScAATQUTaTcODCYLAdVdeWIKYEfYgeXXbjfemjjjkeJmhhikjklciqmmlmWghjopknsjfnonlrnlokkkpgqrnpomolkmonqqonqopmnnlnnllomnfommpqrmdmnLhljnjohmlgnjiZbWhhhkjmfgllnihfFqqjjjgjggjlojlikkknjnnkgnikdedjghkmklkkiecldZmjaiomokhfkiAAAPAAAOZTAbUPSAAKTAAZPAAAAAVaOTXAAWNedUQAJbQPcbfgPGFAETXAUVJHYUjmkmJMhhkimkfTVjalpmprqgfkJNqosnkhpolimmipnkojkpmjpoqnmgnmoqsgqpmrijlhkpilsimoehamoobachfnlkmlqXfqoliefjRcjblkhllihLLjcXlmfccddjhfkmWbqpjlmoikimlnioZkmojiiiihiiValbdepaefilbchchAAAXAAARfeSAIfcFFPIVYhPAAPAXgSAQATPbRXQHdbJRVAQYVfBVcdVAAXjhjhYYfkkjipoggggjklYjkjpqprpiokgpoqpnmhqqkqqrfjpsqnpmlnlnqnkkqqrssqpsnnomhjqqjlsnoljjglorJicgqnpmnjkipnqilihkooejmnkmjdjlnhijgkihdirtiflnemlniolqekojfhdlKLnlkenoplmjijnmkbqLjjkjikmkiNXHYIODAbUPFGHEAAdJBUALEAAAAAAJRADUTUAAGUTFHGAPVbVSWddSYeIbfQVYZbkikXhgYfhlkYpkonhmmlnkmnjhmkbdehgpjimoicUipnnakokknmkonmnmKnmmofjomhsplljfomkniioqqcdXkgcmWleijmZbcRcTchfYhmmllnhgeeZjidZWhehipgbhKiiXhilekikkdmRZWokXShfbhkfaWilkjMmgollkcYajkeHJYcLAAAAILKUUVAAAAEAEYIEAAAAAYTZAEXbVVAQOWbZXAHWIAbZbdediaUAZcUWlVfdifZhimjXmknlklkklhghgkoofommnndbXirebklijgjinnnfirfohigmfiqkmkidmpikjcllfjkikhigbhkaIKZbYZYYMWhieWmcUGAchfgsfefcTegfgkjjpmoigjbTUcecddjkLomraefqlAXYXRZbLfVefcSAgdkWHKgbYidcAXAZOCAAAPAGOAPLAWPPGGaIUJSFNJMAgPMZEABAaXGHANWfHLAaAZWAUTRWPlUKXOAAAggdZXciAVhjhjkieYcededekmlnnbmgiehieZYadffmfidindeFcjilmhJpjhfbgiShhfjkplhhmYbfpmkliOahdfaVIGihhIcebgkZjjUWogRfXTdekfXVYapnjXkabdKIbXZjojnJiZiiikJmObdgjZfifZjZSgmcAajnVgcdYQWANWOXOZAPAAAMJAAAAAAMAIRecAAYCZQXGIMVQPNLRHfkmabZUWYYEXbcZXZagjRTbXaiVACAlijfjgjmoadfiqrqnmpfgljnkihmloYaeikovdcHMrjjhflpplpktolbXpmfjmklpppkknigmnLJmmkmpjmmblkmlolfehgjklgehqqnnoLMRnmcbfWrmhOfiqqpnljhisnpcekfjgfWjZLMoniglTnqjihmgcgkompihkZQNAIAAACANARPaUbIAAAAAAAFaBLDSAAAZRAATDAKAAHIYcJABAWbUdaRghbPdekRFaNgdhZcdgiHlpmnkjaZeZijmdelfehlkeeYjehihgfodmYflpgolehnpslndiglkeofgikjlmkmllrkhihfihgiooimkjmkjZgYSVXPknmlTcknbghgeAlijeghikbekoqjMKghkjmmmkcedZdaZijnoffdddYmojlflZcebjkodciFIceAAAAPNKARPTATAALAAAGTPdMXLXAAObPOFHCASLEKPaSbAOEULfbiAMaFCIKjZffXihiijcbldjmmnncfjlgebcginnpoqjjjimecqjliLJoYhblbmikipoponlckromrnnZkkljingjjproinqpjZmoedjngbkgjjdAAAnphccgjiAopYbZbagmimhlkPhkhjilgejkggekiejjjliffilboYUihjmonlmghjgbrohhmAFfVAXADBIPAAAAaaWESCAAJMVBIEAMAAAZaLAXQIWDIAAdMaPYaYAkgaARcSQYVAdJJfedfdcTkjdcbaUgQimmfYffjpjgfooYbiemhKnlfhlionigooZfhhrglqnmehnimppomjjplknMkinorahkmnkpokmhdmlqgmcjJgRmmogZhnladieciedjpkjWegcWnlRNnSTNUXmXffdkikmlhfeljiZigklmnmjijjkgUgjfklWAVAAMARUceAAAAUWbAdCAAAARAAKAAAAAAKAAAALFASAAaXVjVXaXjhVaHRaLaTKJfUaXgfhiIagicgcAjbilglljjhqiiYfjagdRlhihljhngifiimneijjmhknmjYUVgkknjpbfihlnfnhfYidAmbjfgiijkimUYBFAlecXiUaODFiFWFafDFgFlWbFDcEXdhGCEFDeEEgGEEicKJenFemeEeIfBohhFgFFigeFaEAUZdiHRWAaAQbUVIAAAASUGTPVOTAAAAMRBPIQLMKONAAYZXASSXRecHbZaYRNREAaScfjiYddfYXdiVbIeYdcZfNjneimlkhlfYRbcglnnpokXaYILimWppiljjpmbjmeiYcXggleeghbojhlpmljegcaSbdSUfccikjYcgYhaKedejEJkoqjdVceefcfhgTVZjcgdedjjnQWYehAVmlgTYdZhcjkhjblmZegmLNGVYMhifdeWZRHAAAAaAAPdeYAOAAHPTdAAWdDAAQXdAAAaOAEASGQSVbKAZRAdiBYfmbXdZSUfbbfhTWdajgmSgamhXUeYonLKeMLfkkfilimjmlkqrnoljffllomGIokmkqnkllhjhbecPPmogliknjiimomookmikdjpkmmffiilnolffdWdoadklrqmhlkehlWeiigkPdWkKKfhgmJKkljdfblaNVdijljpnhdZidgiphYJaaUjiegkldbbAAAFCAAAAXAFWAAAASAAAUZAAAAAUVXXAMAAAASbXdAUSAQAbPPUXaaFIdcfjeAiXLaUhhdiadellhiqQokngQanlJfRUkjoMfnghnkjmljilKnlhfokkhndloVjpgjljfimqgmfjkakplfiloigkibhmjllejhocdVbEBbSaeGFZijEifEieEbWgLMgGkEDaPhbbhfKEnjgjFEaQObfFGejFGEdDgecpqcBBFGDEhFbneEFZIAWUGAAAAAVSXAAAAQASBRPAACAAJcRYAYGNAAUgaYAUYAabRSdRUYcWNaVRVVMYSSVciaXaWbgihKJnceeWccZqqmefZfgfhchcgSPihaYfdXdklYnbbdljmhEZlajhKKknojneejgYLKXfIgibjgddcAhhlabhefekXTdfiXhhnfZafYccKTcYiWeleLKhcdSdacaefodiDjLJacneXKQhfnXabeZPjeRHAhgfhkehhfhKjZRRLWAAAKLUMDNPQAUAAZAbAVWALRfRAAAAATLbhYaTUTATSVacfAFfeKTcGJgKhjKWekejnklfgdjoipijoqnkpsrllhjpnmpokpZXldinoolijjkmmnoolnlcUYbidijqtqjpnnljjkmlmmiglkkjnjkokokldkghklkjokiikohdkpgkhlKLlmdnqkkjfgbhmninnimklenndckifdZfgehceJelgiicfekjjLLkplmnnkXAAAUUPQdZfSWTbAbFALbAASARSABAfZAAJAWbMhbAAGJAcAAAAWLPXTJekWOhhbieAWlgblnicbdbjhjoqmllhgpkkoidkgprollljllejhijeeglOnojkhnojicflgaiinlllqMMhomnokghmmiehnimhnLIYallfdadknkMhmnjdifcelncebkigmhihfJIdghfiighjeHaiKJhgbdlnjZTaiihjjhiggggjhkcllnediUZMAAABAAAIJZEHZNbEeUbXObAWWAAAAMANRKVXKWVUAMAAWTATZdZSRTZceWIdcWhiMgeficjclfichfoljfXgeflNVnneflmmpnmjoqqohXUhgklUTebimggjdlfhgkfniUiinpnKJnffgYbfpjaXXYjgfonbfdfmfYVbcifTdjegTaIYedVIKhiiEJaiglhgiciKZciSUQCIieijdRihgfWddgmhcZJhchjgKJifjjgcchaWAAAAAAUFfaJAQNaaYWAAYGDJMAAAKaaAAAAHVAAALIPAAAbgMcaZVAdddHKVZYYXdIhaQOaehnnjjjhpgcRikefncaJLgfnlnnmmqrLkpijgjmbkaikglnhkjikZYmmMkofkholohfokgMSSZliZZAimhihaXonfhUAYZZdKTajlkbednffbggfmmgekmlonkljmYdOLhiebihZahcVibbcZgfHKifjVHefkceXcfibgYhbdXEAAAAVeAAAJAPAeaAHAAAPNAAPSAWAZCVAAYaJAAVUWWAMUiTfAAeAgPeQePXNVOWTVAADiTJkifjYlmgeAXjhjpRWikkTdnmpphokiWghklklXhkommmiUiiggnpknmbhgimpknkedmhgkjnpqrJQXgjfZiehhUZYYXigZaXfkiacjlfgWUXbWegLJdhkdfdJadTNaMibfeVjeffaVhkZWZgZjAkifZVcJCneYRWAHLceZeAAAAAADaAAAAXUVLLAAVMPQKANPAANAFARZfRORIJVOXZTJCSJkcEAAfbgafTYeUZAAOAFHIcFcAAdZZbYaAAWHLqfdbdeTKahkhjmimjAHfkfhggjjWamnkNcbXakhjURfedgfhfaddZYYHUZkhmDAUMfZbebcWQXUXScAALAZWcLBTSddZMZiTijmGAWAAAAVdaZAdYVVYZYcchOfddldcQfbZAedYZeacAbVGUAbAURZUgAAAAAAAJSWXOQPAMTAAbXOAQFUAAAPWAAAOHALMRAUTcZdMSTAWKHAAPVkhSdThKYMIRbVhJgddXXiJJNAXWccYidgkdijgeekfmejcilZZmhLKmljcibkmigcgWdfjdbcpmmafmkmlkcSaZOlhiedehbhghLTNfccaegXMAGXYgifbjfacaaQefihfaVdWeMQYaZmALcAAAXeibmhrfNhaedZVZfhUagjZecgbYEhnfbciddAAAYOAMbAHMAAOUfXRAEIAAMWNAXTKQAWAHAAWSTAAdWUaAOWDJRYASAAbdAATbOYWSOeWYYVeZKeiKKAJdhhTHNceVXeiFIXjaeVTfehebcAaiijbaWZeeYiegfkYihiimkpinkhmndhOmcfhjiRWkhWbUcZTSTAeZAbZXAJejiVeHdnWejgALIZNQZaXFcNhbeJeFbdXSAGXeXWApkYdSWdfYYcaWZhhTIeeWVWgogWechTUPAJJAPbAGJAaAQXOZEAATAANJAAaReGHdFHAASSDAiZDTZTdSURSAQAZeebbhkKlkjXeifhfdfZFhLmdZegjeAembdefdMihmfSkfcnLJhnkehjlgbXYhgcifhgkmkkbgfjmlmahlmgkfgZgkmoUZgfkmfjfamdAOiUAJGcVfgeAgjYcaifUNVXcGHKESWlilefTXfcbGGhXaTdYZljdcYXZeROibefTlZUdjTfefdiYcbdaadAQcVLOAAVYZIAAOAAAOANAWAAARTZUViSAAAAAaficAAMRNNHAXAIAbVabgVkimZfaekhbgcekAPDZWegXUgegeSaWXWgagmTdinlpfZhkjbZckahcgiiidkicimheNhehhlhhhfgeijhfifdaAAAinkjkibmkPSdaZGimgeeeaefKCciibWbaifagidEbhhUZfYdPWLahdcbfhiaMDBagbjjObYfkZifdcbXQVjgMAIbAUDbDCATADAAAAAA5AAAIAAABCNAAAAA2AAGPAADALIBTUATXgZAAAZXAYZAAABCgdcEDDAEEAEYACAgigFCJXDEEYCmAE2KFDoADEEEFBKiiLJEkbkboEo3DEDf2ElFDCEggXadcidfjibFEiEDYeDAhEFAkdliFEYhDDDDUDgTeZZDXUHAEgADDDDAEEEhCCeiZelAdDAFBECCAdLKHBBADEEEDACeeiZfeAEDgOCgEDfDEBUXYTSAQABADAAAAAAAAADQAVDAAACAAVCD9DAATCTDYDAMdNDEAAACc7QZAEWDAAAA3DEAaEAECAXFDfDEBZcgDDACEAddVAAlAZYeDEChDCTEhEEDEogEcAAMDaZaEdUEFahBDZeDEED4cEDjEhYDAEDgAEDaWDDDfCCODABVMVAAELABAeWA3DXaAb3TECUEYOVdKAbAg5aTGATeDPADE4g4ECCZAAABBAAMjCNMXDDeTZaXYCCEScAYACAAAA8K2AAJBCBAAYPBA2AAABBABCECA9YTTLACAAAADdAQDDEEPNUBACDbAGDAHQAYUZECVXDCEdgQceAccfZDNAOVbaEEEDAAgEEEB8EE6UEahJGibe2allDDDEhTYgCAEYcVbeEDDhkjZADDDDDBDgbUaRQECUBDBLEOZAcAACQACAED7gefDKXAVSACAkUe6gcADDYRi7AZC7EcOAAAZRLAABBAAEEcDCEEYDBFPMaABACAAAAAEAAAODDAAAYS7ADSUHEZADDCQAAANAZXZEAAACBAXABBICdDAAY9DADEAPLA5ANDDYgg68XhYiDACBdYOaAaDeDEDDDFZdEEAinEgabEEggcDDAQXiaZXegCAEDAahDZg9DDDjjhbhABDDJhbeddZ4ZABDCDEebkABACJAgZcBAdZCNCjEDDABABAAQADIKCAWCDEMLAAHDDDAB3ADBVAAAAA48iQADiWAAAADCNAAABAAAAAAAAVC3ZQc5VAABDVOBJA8VCAACBKDDR6PHAAYLUAcaZDAIEEXfD4CAWdAAAACERYffjEDE8bWlCADDXcaEAEdke8khCADdDEXjljEBbgf5BLiecfepCDDE5njFDDgEDGBECjiXYECdAZXNCEEgDDTUUDCDcCDDDbAPA8DAYSYZAJBWMXEUbYPcAPBAebDXhXXbBDgBAQEKAEEBCBCffCAAAUCCCECVZhABBBBXIAAJAAAAAAAAAOAGUCDDObMXDCCKIOFAA59ADNcODDYBCAAe2A2WBBbBDEEBBEACAPWATAABE5EEEEBADWfb7DAYQechlAEAgihEDDDZEgEEDDFFEgiOaEfYUFhhEgiEDDEEEDE8EDDMEDmj6CDXRAEDZAAbeeCCBDdDKaWACDAAcAMWAAOOZAEQDBJhNAXTcB3AAeEAPNVREghLCDYeYDDJAMcBEgaAANVDDDiUgEaACAACDCAADAAAAAAAAAABDACCDCCCDdKTADEC2BATDDDEDERDDEAAEDAABARDUCAEDhgCDABDA7DACEECCAEBfEDEADVAEEFDDEADAYiEE8hECCDDDD9EhEjEDgDDBCEkEEEEEUQcDEDDE8DDSaBEeADfEEAEhDBCBCDFG9XBADDeFCFDW8ABDADDgCAEDDACDCCADEDBDA3gADDCZDC6EECD3CD5jDCD4eDDAACDbEBDZHEV7CANBC5DAEAA2AAAAOUBCDCAAA7IBADBYBCCCAEhDDCBBDSABAZAACBBAAAACC8BkFDBBCACDADLAADCAAA9DEW6EDDEAejFBBQADEEEDMCDEEDAXDEDSDbcXcPAEDDEgETdEbYHB2EUXDDCDEDTdSACD6lACECCAA6ADCDCBCCBA4AADUDABDA7ADDAJbDJBADDACECDDACBBCBbCBAZEiCDBCDbBICBCEDBAAD3DDDADAADDdAADCC2ABAAAAAAACSDADBGBAbAAACAAAUCEAYCAAAAACAAA8EAAAVBACHAC3AChYDCTCAXBAEDADDBCCPDD3DgiEBDAAbEEECAEC6DDAEkE4NACXTEEDCB7CBCDEC4DAAAg5UPEEEijCCBXCggRDAaAABAKfMACSCBCCCABADCAAACEhOABCACDAAADBCDBACCQO8ABCACBEBBXUNAD6aACADDDCZAAANDBAXACDXCOBBDCBXADIAAAAGAAAAAAAGACAPABAAAABAEVAABQBAAAAAAAWZAOAREAAACAAaEDcDCCCCDUdDAV7AEQANNcNDaOWdDELDAAAAZckkeAdYCXfXgeDBBDDDUmjCBBAADDCLJdcP4B7DBCEZacDDEDDZEDAEJZNACAAeXAADRDYADBGAZCX3AAEEXACAAACMA4ZbfbBAACQUOWDEAEABCAYYDAAfEAZADEEDcaBAAAEADADDWBDUDDBAAAJA4AAADACAAAAAYNaRAACAADAAPGWCAOVAAAAACAAHCALGADAAAAAATiESBAAAOA7ADAZAAATAABYDEEBVDAED8AAA5NaZZeAWEEWZ8CDEYaDTjVgi2DCAIJDDSJDBCDaSAcLHWARXAOhEeZEMDCXDDeAAC6XAJAACAHACBAAbAAAYDdADCAbCDYAcEDWACBPAYDBAFAjeJAcEAAAQVZXAdhEDDWbVBAUBAACDEA3CAA8ZABACA7CCAD9DAA4AABEEAB35BBAAAVDECADDAAAAUDUAAAAAAKCAAACBADCDCDBCC6DdDEANAAfVADDAABDDEECEDAACAACSTVVAChED9CCESECbcjDDSADDEDDDDZAALDDAACDDBDCAUAADDDAADDCCCDCAAC2DDCGAC3DACbAY2AAADD5ADAARDaCACDCDCDCRCKDDCAA5DEABCCCBDDbDCEWRHACPGBDCiACBCDDECAAAOADAATDD8ADARAAAAAADRAAAAADJCACBEBAUBBABADDCAAAAAIHBAABBBACDDDUEYXdDEDDADEAECAEUIDBBEDEDAA9ACAAACDCAAOdIAAABKDDBCBEEEADDDCDDEUDAADDCAD3CDAFDTYBPA6CBCBRUDWEAABDDEEEBBN3DB52ADCACADDAACBADUfAADCDBDDBBBAAADBACVD2DBDWIBZDCSC6CABAQCDNI5ACAAABEEACCBBgAAAAADAAACAAAAACBYAABAAAAADAAACPADDAAACAAAAYACCCAAADDDADCCaAAASCADB2ADDAEAADBDECE4UDACCRDDAACDCCAACEALAABACADBAZDEDDQCCDBBAEAMACEhCEDDDEDBAEDDBC8BCDDBBDAACDYCDCDDCbDDAADDAASDDDDAAZADABKADACDDSAB3WDADDAADDAACDDDCCDBBCBCACBAAAAMAABAACknfaCADDAAAAAAZAAABAAAAAABDCAAAABJAMQAMABDCAADUCWBWAbCEbAAAAWC35DVJCACDDUhDDAAD5AgXAMWgcMUYDDLRACOUA3EchL4AYfXbAGEDCTRAUZACBDTIbbDDDECXVDEaSDaXPCEDOdDOADeKACNSYY5ABSEWCCAWMPWDCYDCVGCBHUCAKAAYADWAcYXcRVKBDRAAHJABZCAAPgDcCTCAACAACBEAOJYDKA6AUZAEbOCCAgPqahUZhAgAAAAAAAASQdhgeqhaTjgjAcfhieAAAalcncqiddjcAAiAeAbfAme2AAnfdddAijATmAaZgAghgRdgRecfcAhnahVcAfaZiYeAedbWndfoZaWSAqmahcdcgabgkoddaVYUaaTehZqVQRbfgdemAefcqajdmoWalfARaRWeiAdaAmAAfAjiAShecSeXicXAdfAAhcqaTjbhjZdjXehUcdAacNSQihAYcdcbcYifcgccARAAAAAAAAAAAAjAAAAXTAAAAAAAAAAAAAAAAAAAAAOdfAAAcAWWAAAAAAAAAdAAAAAAAAAAOgAAAAAAAAfAAAAAAAOAAAAAAAANUOAAUAAAAAAAAAAcfAAiAAAAAAAAAAAjAAAAAfAAAAAAAAAAAAAAAAAAaRAAAAAAAAAAAOVAAAAlAAgYAAAYAARAAAAAOAARbAAAASAAAcZAAAAAgeAAAAAAAAAlWANTAAAAAAAXAAAAAAAAAAAAAAAAAAAAAkAAAQQAAAAAAAAAAAAAAAAAAAAAAAAAAAAAAAAAAANAAAAAAAAAAAAAAWfAXAAAAAAAAAAAAfAAAAAXNAAAAAAAAANaAAAAAAAAeAAAAhAAAAAAAAAAAAhAAAAPAAAAAAAAAAAAAAAAAAAAAAAAAAAAAAAAAAAAAAAAAAAAAAAAAAAAAAAAAAAAAAAAAAAAAAQUAAAAAAAAAAAgbAAaUAAAAAAANXNAAAAAAAAAAAATAAATcASAAAAAAAAAAAAAAAAaAAAAAWAAAAAAAAAAOlAgARAAAAAgVAAAAAgWAAAAAAAAANjAAAAAAAAAAAAAAAAAAAAAAAAAAAAAAAAAAAAAAAAAZAAAAAAAASZhgAdjAAAAQfAAAVSAAAAAAAAAASXlAQAAAAAAAAAdRYaAAAAAAAAAWjAAAkAAAAdAAUWAAAAAAAAAAAAAAAAAAAAAAANAAAAAAAAAAAAPAAAPAmdAAAbcgAAAAAAAAAAkadAlAAAAAAAAAAUfAAAAAAATdAdaAAARhAAAAAQAAAAAAAAAAAAAAAAAAZAANAAAAAAAAAXWAAAAAAAAAAAPXAAdAAAAAASAAAAAAAAAAAAAAAAAAAAAAAAAAAAAAAAAAASVAAAAAAAAAAdkAAAAAAAAiiAAAAAAAAAAAAAlAAAAAAAATAAbZAAAAAAAAAAAAAAAAXAAAAAAAAUQAAAAAAAAAAAAAAAAAAAANAAAAAAAAcAAAAAAAAYAAAAAAAAAAAAAAAAAAAAAAYeAbAfNAAARAAAAAAAAAAiPYAAAAAAAAAAdAAAAAAAAAAAAAAAASTAAAAAAAAZjAAAAAAAAAAAAAAAAAAAAAAAAZAAAAAgcAAAAAAAAAAAjRjAAAAAQjfAARAAAAAAAASAAAAAAAAAAAAAAAAAAAAAAAAAOAAAAVSOcAAAAAAAAAAAAAAbAAAAAVUAYAAAAAAAAAAAAAAAAAAAAAATAAAAANTAAAAAAAAAAcAAAOAAAdNbAAAAAfAAAAAAAAAAAAAAAAAAATiAAAAAAAAAAAAAAAARAAAAAAAAgAAjAAAAAAAAhAAgZAAeAUAAAAAANAAAAAcYYAAAAAAAAAAAAAAAAAhAgTAAAAAPAAANdShAAAAAAlAAAAAAAAAAAAAAATAAAhUAAAAAkSAAAAUAAAAAAAjgAAAAAXAAAAcAAATYAAYaAAAAAAAAAAAAAAAAAAAAAAAjAAAAAAeAAAAjAAAAOafARAAAAQAAAAAAAdAAAAAgAAPVAAAAAAAAAAAAAAAgeAcAAAAAAAAAAAAAAAAAAAAAAAVAYfkAAeAAAbAAAAAAAAAhAAAAAAAAAAAAWAAAAAAAAAARAAAAAAAAAAAAAAAAAAAANAAAAAAAAAANAlXAAAAAAAAAAAAVAAAAbAkAAAAAAAAAAAAAAAAAAAAAAAAAAAAlAAAQAehAAAAAAAAAAAAAAAAPAAAAAAPYXjAAAAAAAAAAAAAAAAAAAAAAAAAAAAAAAeAAAAAAiAiAdkAAAAAAAAAAATRAAAAAAAAAAAAXeRAAAAAAAAAAAAAQAAARPOAAAAAAAAAePAAYAAAAAAAAAAAAAAAYjAAAAAAAAfAAAAAAAAAAAAAAAAAAAAAAAAQAAAAAAAAhAAAAAAAAAAAAAAAAAAAAAAUAAAAAAAAAAAAQAAAAAAAAAAAAAXAkcWlAAAAAdAAAhAAAAAAAAAAAAAAAAAAAAcjAAAeVAAfAAAAAAAAAAAAAAAATeYAAAAAAAAAXYAAAAAAAAAAAAAAAAAAAAAAAAAAAAAAAAAAAAAAAAAAeAAAAASAATVgAAAAiAAAAAAAAAAAAeAAUSZAdjAAAATAAAAAAAAAAdPAYjAAAAAAAAAAcAAkQAXAAAAAAAAAAAAAAAAAAAAUAAAlYAAAAAAAAAAAAAAAAXA99AAA999999hAA999999AAA999999AAA999999OlP999999AAA999999AAA999999AAA999999AAA999999AAA999999AAA999999AAk999999AmA999999AAA9Y9AAAaAA9A9A99aAAA9A99AbAX99A99AAAA99AbOAAAAAAAAUAAAAAYTAAAAkA9AAAlAklAAAA9AZlAAA9AAARaAAOAAAAAAAAAAAAAAAAAAAAAQAghAAAAAAAAAeAAAAAAAAAAAlOAAAAAATldAAAAAAAAAAAAAAAAAAAAAZSAOgAAAAXAAAAAbAAAAAAAfeATNAAAAAAAAAAAAAAhAUWAAAAAAAAAAUAAAAAAAAAAAAAAOAANAOAASVAAPAAAAAAAYQAAAAkdAAklAAAAAAARaAAAAAgAAAAAAAAAAXAAAAfAAAQAAAAAgAAOabAklAAAAAAAAAAAAUAAAAAAAAAAlAAAAAARAAAbAAAAAAAgAAAAWAAAAAAAWAlAAAAAAAASAAXAAAAAAAAAehAkQAAQRWAAAAAAgfAANWZAAAAAAAAAAAAOUcAAAAAAAAAAAAAAAQeAAAAXhAAAOAAAAcAAAbcAXAAAAANiAAAAAAAAAAXgAVAAAAAAAAAAAjmAAAAAAAAAQAAAAYAAAjAAAAAAAAAAAAAZAAAAAAAAkYgSAAAAAAAAAAAASXAAAWAaaAAAAAAAAaZAAAAAAAAAeAAAAlAXNAAAAAAWAAAAAAAAAhlAAAAAAYSAAAAAAAVcAAAAYAAAAAAAAAAAARPNAAAAAAAAAAAAAAAAATAAAAAAAAAAAAAAAAhTAAAAAAAAAAAAAAATAAAUbAAAAAAAAZjAAAAAAAAAOAAaAAAaAAaAAAAAAAAAAAAhAmAAAAAAWAAAAAAWhAAAAAAZAAAAAAAAAAAAAAAZYAAAAAAkOAAAAAAAAAAAAAAAAAAAAiAAAAAAAAAAiVcAAOAAbAPAAAAAAAAcXhNAAfRAAAAAVAAAARAAAAAAAAAAAAAAAAAAAAAAkbAAAAAAjARAAAAAAhYAAAiPAAAAVAAAjAZkAQlAANAAAAAAAAAAATalZAAAVAAUPjXAAAAAAAAAAAVTXdAAAccAAAemAAAAAAAAAANAAAAAAOAAAAAAAmRbAAAAAAAAATYAAAAAAAAAAAAAAAAAUUAZAAAAAAAAAAAAAAAAAAVXAAAAAAAAAAAAZPAihZYidiAAAAAaAAAXAAAAAAPlAAAAOAhlAkkecRATNAVTTAARASNOAANVZUSbNeaAAAiPAAAAAeaAAaXNAAATARlUAAAgAaAfAAAfAShbWaaYWAAAfecAAAdcAWAAbAcWAjASAcPASAAbaAAAQAATAAAAAAlXAAhPZVacAcAAAAAOWAjZAAmZAAjAYbAAAWANkkVAAAOXAVTecAAAAAAAAUcYhWAAAAAAVjQbjAchAZAWeTAeAAmAddAkPAAAAgaAUAfbAgZSARAPAAWUAfNAAAYAVRAXOAAAjAAAAAAAAiPAhkjAAYAhAAAAAAAibAbdATAkOTjAgAAOAAhlAjbYkVAAAAjQdAAAAAgAAAAROWbkAWAAjWeUicNZQASgVAbWAAAaiPWAAAVNWjiaSlmAAAiAAAAAAAAAVYAAAAAATkkQAhdjANhAAAiAQWccAAAaRTOANAAAAAAAAUAaAAAAAAORAAAgTAkefAVVAAAAAAAAAAAAZAAUUAAAfaYAAAXPAAghAANeAAAAaflAAATdSSZkaAjAbAAAAAAVAAAUbAAAAAkSAYAAAAAaAAAAAAAAbUhkPAASRPAXRATTbVSYAceATAAbWUYjYhAAeQAPdRfjAAAYOAAUASYRAAQZcSAPAAXAAAleASAgTAAAAZhAAfAbAAAgSiaAAQVAUdVAAAAmeAieWAAAAhAAAAAAAZedQlUfAhRAAAAAAAAAAAAAAAAAAAhAkAAAYidmVAYAcOAOiWcejaOWAAWhibPORcUAAAAANAjWAAAAAiRhZAdcklAAAAAcciAVAhlAAAmAAUPUZAOAAfAAAelAAAAAAjdAAjkWjjkiAAjAAAkTUAXlWTAAAAjkZAASTPPVAeVAAAaPAPOAaAAAAAmOAAWAAAAAAAfANihARNAhTAAQfAifAAAAQlkjOgAAAAXAfeAcNAYYjAiAAAgaAAAVkAVAdSTfcAAAAAVAWAAAAAlPXAAiYdbfAAAAAAAAeYVgbbAAAAAlbAgjNUAAXRdfVAAAAAAAdlTAAAPibPgNAAdhekAAgRgRAAAAXWdZAAYAARAOaAAAAVAAAPAAAAAZAAANXAAXcAAAOAAAAAAfAAgiAhlRSXAAdmAAATaAdAAAbAAAAOAbfahfRNAAAmAAAPAcAacAAbbAbfQdbRARVhAAUAAAQNPAYkAmAAikAdgAAAYkiYNjPfAOXiAAkPPbAllAAAAAAXVkAAdaSQAXAAAlkAbYAAAAjbRAAAAAAAAASQcWXAAOcAAAAAOkAAgjAXRAAAQAAAAAPgZRARAAAAAYhSQWQgSXAAAAimjTAAPAkYAYAAakTAAAAAhYhAAdASPAAAZAAAAAAUfAAAcRAPfgZAQgAYAZgAAAalRAYaAAAhlfifNPRXYAAAAiAAfRAbkeNZNWWOkPiAAAAlAdRNiSAAaSYjVdlhPAAXAAA";
var pal=[];for(var i=0;i<64;i++)pal.push('#'+V.substr(i*6,6));
var cv=document.getElementById('spec');var g=cv.getContext('2d');
var nc=C.length-1,nr=R.length;var p=0;
for(var j=0;j<nr;j++){var y=R[j][0],h=R[j][1];
for(var i=0;i<nc;i++){var k=A.indexOf(D.charAt(p++));g.fillStyle=pal[k];g.fillRect(C[i],y,C[i+1]-C[i],h);}}
})();
</script>
</body></html>
